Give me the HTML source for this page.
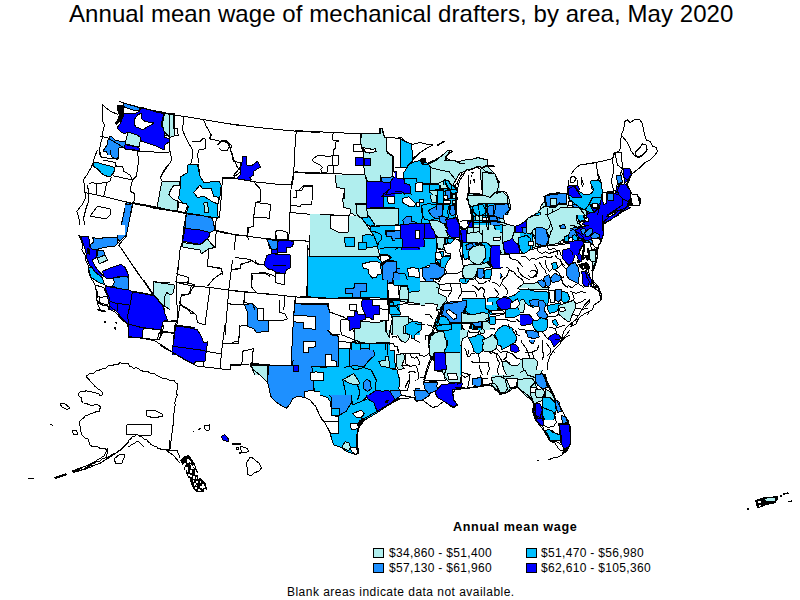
<!DOCTYPE html>
<html><head><meta charset="utf-8"><style>
html,body{margin:0;padding:0;background:#fff;width:800px;height:600px;overflow:hidden}
body{position:relative;font-family:"Liberation Sans",sans-serif;color:#000}
.t{position:absolute;white-space:nowrap;line-height:1}
#title{left:69px;top:2px;font-size:24px;letter-spacing:0.07px}
#lt{left:453px;top:521px;font-size:12.6px;font-weight:bold;letter-spacing:0.65px}
.lg{position:absolute;font-size:12px;letter-spacing:0.33px;line-height:1;white-space:nowrap}
.bx{position:absolute;width:9px;height:8px;border:1px solid #000}
#note{left:287px;top:586px;font-size:12px;letter-spacing:0.47px}
svg{position:absolute;left:0;top:0}
</style></head><body>
<svg width="800" height="600" viewBox="0 0 800 600">
<g stroke="#000" stroke-width="1" stroke-linejoin="round" fill="none" shape-rendering="crispEdges">
<polygon points="380,220 480,220 480,295 380,295" fill="#00bfff" stroke="none"/>
<polygon points="460,200 560,200 560,275 460,275" fill="#b0eeee" stroke="none"/>
<polygon points="460,200 467.5,200 472.5,207.5 471.25,216.25 468.75,225 465,228.75 460,229.38" fill="#ffffff" stroke="none"/>
<polygon points="510,200 545,200 541.25,207.5 535,213.75 527.5,218.75 523.75,221.88 516.25,226.25 510,224.38 505,222.5 508.75,215 510,207.5" fill="#ffffff" stroke="none"/>
<polygon points="460,296.25 560,293.75 560,330 460,330" fill="#00bfff" stroke="none"/>
<polygon points="124,114 135,113.5 139.5,111 141,108 164,112.5 163.5,115 161,125 164,129 164.5,137 169.5,139 169,142 165,145 164,150 156,146 147,143 140,140.5 139,136 130,134 127,132 125,134 121,132 117,128 120,124 122,119" fill="#0000ff" stroke="#000"/>
<polygon points="134,120 138,114.5 141,113.5 142,119 145,121.5 154,123 151,125 147,127 143,130 139,128 136,127 134,124" fill="#ffffff" stroke="#000"/>
<polygon points="128,132 131,133 137,135 140,137 140,142 139,147 125,144 126,140" fill="#b0eeee" stroke="#000"/>
<polygon points="125,144.5 139,147.5 139.5,150.5 125,149 124,146" fill="#0000ff" stroke="#000"/>
<polygon points="165,113 175,114 175,135 169,136 164,135 164,129 161,125 163.5,115" fill="#b0eeee" stroke="none"/>
<polyline points="175,135 169,136 164,135 164,129 161,125 163.5,115 165,113 175,114"/>
<polygon points="123,103 139,107.5 139.5,110.5 136,111 125,107.5 123.5,106" fill="#1e90ff" stroke="#000"/>
<polygon points="110,136 112,137 115,140 119,141 125,141 126,143 124,147 119,148 118,151 119,155 108,155 106,151 103,151 107,145 108,140" fill="#1e90ff" stroke="none"/>
<polyline points="108,155 106,151 103,151 107,145 108,140 110,136 112,137 115,140 119,141 125,141 126,143 124,147 119,148 118,151 119,155"/>
<polyline points="119.5,101.5 123,102.8 140,107.5 155,111 175,114.5"/>
<polyline points="118,114.5 110,111 102.5,105 102,111 103,115 102.5,121 104.5,125 103.5,129 102.5,133 102.5,137 101,142 100,147 99,155"/>
<polygon points="117.5,105 121,104.5 124,106 123.5,115 122,119 119,123 116.5,125 115,123 117.5,119 119,115 117,110" fill="#000000" stroke="none"/>
<polygon points="164.38,113.5 175,115 174,136.25 170,137.25 164.38,131.88 162.25,125 163.75,117.5" fill="#b0eeee" stroke="#000"/>
<polyline points="140,106.88 157.5,112.5 175,115 202.5,119.38 240,125.62"/>
<polyline points="174,115 173.5,128.75 177.5,128.75 178.12,135.62 171.88,136.25 170,137.5 169.38,147.5 170.62,153.75 171.88,160 165,170 161.88,175"/>
<polyline points="184,116.25 182.5,130 186.88,140 192.5,150 191.88,161.25 190,165 187.5,170"/>
<polyline points="203.75,120 206.25,126.25 211.25,135 209.38,138.75 215,140 220,141.25 227.5,142.5 230,147.5 232.5,156.25 237.5,167.5 240,170"/>
<polyline points="192.5,141.25 200,141.88 202.5,138.75 205,138.75 205.62,148.75 198.75,150 197.5,155 198.75,162.5"/>
<polyline points="217.5,145 221.25,141.25 227.5,141.25 230,145 227.5,150 221.25,150 218.75,147.5"/>
<polygon points="188.12,165 198.75,164.38 199.38,175 186.88,175" fill="#00bfff" stroke="none"/>
<polyline points="186.88,175 188.12,165 198.75,164.38 199.38,175"/>
<polygon points="93.12,162.5 97.5,162.5 101.25,163.75 106.25,165 115,167.5 113.75,172.5 110,176.88 105,175.62 101.25,173.12 97.5,168.75 93.12,166.25" fill="#00bfff" stroke="#000"/>
<polygon points="110,150 118.75,150 118.75,157.5 117.5,159.38 112.5,157.5 110,153.75" fill="#1e90ff" stroke="none"/>
<polyline points="118.75,150 118.75,157.5 117.5,159.38 112.5,157.5 110,153.75 110,150"/>
<polygon points="126.25,202.5 133.12,203.75 128.12,225 121.25,225" fill="#1e90ff" stroke="none"/>
<polyline points="121.25,225 126.25,202.5 133.12,203.75 128.12,225"/>
<polyline points="97.5,150 94.38,157.5 93.12,162.5 91.25,167.5 86.88,175 83.75,179.38 84.38,187.5 85,192.5 85.62,197.5 81.88,205 76.88,211.25 78.75,217.5 80,225"/>
<polyline points="85,192.5 102.5,196.25 133.75,203.75 160,208.75"/>
<polyline points="100,152.5 101.25,157.5 115,158.75 118.75,157.5"/>
<polyline points="103.12,160 115,162.5 116.25,166.25"/>
<polyline points="115,166.25 122.5,166.25 123.75,171.25 130,175 132.5,180 131.25,185 130,191.25 135,193.75 133.75,202.5"/>
<polyline points="112.5,175.62 132.5,180"/>
<polyline points="136.88,150 138.75,160 137.5,168.75 136.25,176.25 132.5,180"/>
<polyline points="88.75,183.75 92.5,182.5 96.25,183.75 96.25,193.75"/>
<polyline points="95,183.75 106.25,182.5 110,181.25 111.25,176.88"/>
<polyline points="106.88,182.5 103.75,196.25"/>
<polyline points="86.88,185 88.12,188.75 88.75,192.5"/>
<polyline points="88.75,193.75 88.12,202.5 86.25,207.5 83.75,217.5 84.38,225"/>
<polygon points="97.5,206.25 110,208.75 110,215 106.25,218.75 90,216.25"/>
<polygon points="161.88,181.88 180,181 179.38,185.62 173.75,185.62 170.62,190 168.75,194.38 172.5,198.75 178.12,201.25 176.88,211.25 156.88,207.5" fill="#b0eeee" stroke="#000"/>
<polygon points="180.62,176.88 187.5,172.5 187.5,165 197.5,165 200,176.25 203.75,182.5 218.75,181.25 221.25,185 220,196.25 217.5,206.25 218.12,217.5 215,217.5 205,216.25 200,215 186.25,213.12 188.75,206.25 182.5,202.5 178.75,198.75 179.38,192.5 180.62,185" fill="#00bfff" stroke="none"/>
<polyline points="197.5,165 200,176.25 203.75,182.5 218.75,181.25 221.25,185 220,196.25 217.5,206.25 218.12,217.5 215,217.5 205,216.25 200,215 186.25,213.12 188.75,206.25 182.5,202.5 178.75,198.75 179.38,192.5 180.62,185 180.62,176.88 187.5,172.5 187.5,165"/>
<polygon points="193.75,192.5 200,185 202.5,188.75 211.25,188.12 213.75,196.25 218.75,197.5 218.12,203.75 213.75,202.5 208.75,199.38 203.75,196.25 197.5,197.5" fill="#ffffff" stroke="#000"/>
<polygon points="203.75,203.12 207.5,202.5 208.75,212.5 205,212.5" fill="#b0eeee" stroke="#000"/>
<polygon points="186.25,213.75 206.25,216.25 212.5,218.75 215,230 210,232.5 202.5,231.25 183.75,227.5" fill="#1e90ff" stroke="#000"/>
<polygon points="183.75,227.5 202.5,231.25 208.75,233.12 207.5,240 182.5,240" fill="#0000ff" stroke="none"/>
<polyline points="182.5,240 183.75,227.5 202.5,231.25 208.75,233.12 207.5,240"/>
<polygon points="178.75,202.5 186.25,203.75 187.5,206.25 185,212.5 177.5,211.25" fill="#ffffff" stroke="#000"/>
<polyline points="150,207.5 185,213.12"/>
<polyline points="222.5,177.5 250,178.75"/>
<polyline points="222.5,177.5 221.25,197.5 219.38,217.5 216.25,218.75 215,230 236.25,235 250,236.25"/>
<polyline points="247.5,227.5 248.12,240"/>
<polyline points="167.5,165 162.5,172.5 160.62,177.5 161.88,181.25"/>
<polyline points="235,176.25 240,172.5 240,165"/>
<polygon points="242.5,156.88 246.88,156.88 246.88,165 252.5,165 257.5,161.25 260.62,166.88 253.75,171.25 253.75,175 250,177.5 251.25,180 245,180 236.25,178.75 240,175 241.25,163.75 242.5,161.25" fill="#0000ff" stroke="#000"/>
<polyline points="220,122.5 257.5,127.5 296.25,131.25 320,132.5"/>
<polyline points="296.25,131.25 295,147.5 293.75,172.5 292.5,185"/>
<polyline points="293.75,172.5 320,173.75"/>
<polyline points="222.5,178.12 236.25,178.75 255,181.88 278.75,184.38 292.5,185"/>
<polyline points="220,141.25 226.25,140 230,143.75 231.88,146.25 230,150 232.5,153.75 233.12,161.25 240,162.5 241.25,165 239.38,168.75 233.75,175 235,177.5"/>
<polygon points="361.25,133.75 380,133.75 380,128.75 382.5,128.75 384.38,136.88 387.5,137.5 387.5,153.12 392.5,156.25 392.5,177.5 381.25,178.75 380,181.25 370,181.88 365,175 363.75,166.25 363.12,150 360.62,143.75" fill="#b0eeee" stroke="#000"/>
<polygon points="363.12,147.5 367.5,148.75 370,148.75 372.5,150 375,148.12 376.25,151.25 370,153.12 365,151.88" fill="#ffffff" stroke="#000"/>
<polygon points="355.62,157.75 363.5,157.75 363.5,165.62 355.62,165.62" fill="#0000ff" stroke="#000"/>
<polygon points="364.38,158.12 370.62,158.12 370.62,165.62 364.38,165.62" fill="#0000ff" stroke="#000"/>
<polygon points="353.12,144.38 361.25,144.38 362.5,151.25 353.12,151.25" fill="#ffffff" stroke="#000"/>
<polygon points="336.25,175 365,175.62 366.88,185 367.5,200 342.5,200 345,188.75 336.25,183.75" fill="#b0eeee" stroke="none"/>
<polyline points="342.5,200 345,188.75 336.25,183.75 336.25,175 365,175.62 366.88,185 367.5,200"/>
<polygon points="365,179.38 370,181.88 380,181.25 381.25,178.75 381.25,181.88 387.5,183.75 392.5,182.5 395,180 395,200 367.5,200 366.88,185" fill="#0000ff" stroke="none"/>
<polyline points="367.5,200 366.88,185 365,179.38 370,181.88 380,181.25 381.25,178.75 381.25,181.88 387.5,183.75 392.5,182.5 395,180"/>
<polygon points="381.25,178.75 390,177.5 393.75,178.75 392.5,182.5 387.5,183.75 381.25,181.88" fill="#1e90ff" stroke="#000"/>
<polyline points="295,130.62 332.5,132.5 360,133.75 380,133.12 380,128.75 382.5,128.75 384.38,136.88 395,138.75"/>
<polyline points="360,133.75 360.62,143.75 363.12,150 363.75,166.25 365,175 363.75,178.75 366.88,185 367.5,200"/>
<polyline points="295,171.88 336.25,173.75 365,175"/>
<polyline points="333.12,133.12 332.5,140 338.12,140 338.12,141.25 335,142.5 335,148.75 333.12,150 333.12,155 338.12,155 338.12,165 333.75,165 333.12,172.5"/>
<polygon points="312.5,159.38 317.5,155.62 323.75,155 326.25,156.88 332.5,155.62 332.5,165 328.12,165 326.88,173.12 321.88,172.5 320.62,169.38 322.5,167.5 320,165 315,162.5 313.12,161.25"/>
<polyline points="336.25,175 336.25,183.75 345,188.75 342.5,200"/>
<polyline points="295,190 298.75,190 302.5,186.25 312.5,186.25 312.5,200"/>
<polygon points="311.25,214.38 325,214.38 325,250 308.75,250 310,241.25" fill="#b0eeee" stroke="none"/>
<polygon points="266.88,238.75 276.25,239.38 278.75,240 278.12,248.75 270,248.75" fill="#1e90ff" stroke="#000"/>
<polygon points="278.75,240 293.75,240.62 292.5,246.25 287.5,246.25 285,250 278.75,250" fill="#0000ff" stroke="none"/>
<polyline points="278.75,250 278.75,240 293.75,240.62 292.5,246.25 287.5,246.25 285,250"/>
<polyline points="293.12,175 291.25,184.38 290,212.5 288.75,240"/>
<polyline points="290,212.5 311.25,214.38 325,214.75"/>
<polyline points="225,233.12 266.25,238.75 288.75,240 310,241.25 308.75,250"/>
<polyline points="235.62,235 234.38,250"/>
<polyline points="253.75,181.88 260,188.75 260.62,201.25 255.62,202.5 253.75,216.25 253.75,226.25 248.75,227.5 247.5,236.25"/>
<polygon points="255.62,202.5 270.62,204.38 269.38,218.12 253.75,217.5"/>
<polyline points="291.25,205.62 300.62,206.25 301.25,204.38 311.88,204.38 312.5,185.62 303.75,185.62 301.88,190.62 296.88,190.62 296.25,197.5 292.5,197.5"/>
<polyline points="311.25,214.38 310,241.25"/>
<polyline points="275.62,238.75 275.62,231.25 280,230 287.5,232.5 288.12,240"/>
<polygon points="125,205 132.5,203.75 126.25,236.25 125,236.88" fill="#1e90ff" stroke="none"/>
<polyline points="125,205 132.5,203.75 126.25,236.25 125,236.88"/>
<polygon points="183.75,228.12 200,230 210,232.5 208.75,237.5 200,244.38 182.5,241.25" fill="#0000ff" stroke="#000"/>
<polygon points="182.5,242.5 200,245 207.5,238.75 211.25,243.75 215,247.5 208.75,248.75 205,251.25 201.25,253.75 200,250 181.88,246.88" fill="#b0eeee" stroke="#000"/>
<polyline points="132.5,202.5 158.75,207.5 186.25,213.75"/>
<polyline points="186.25,213.75 185,228.75 182.5,241.25 180,250 177.5,275"/>
<polyline points="208.75,248.75 207.5,266.25 221.25,268.12 222.5,275"/>
<polyline points="215,247.5 216.25,231.25 225,233.12"/>
<polyline points="132.5,203.75 126.25,236.25 118.75,245"/>
<polyline points="118.75,245 125,253.75 138.75,275"/>
<polygon points="80.62,236.25 88.75,236.25 89.38,242.5 90,246.88 96.88,250.62 96.88,256.88 94.38,258.75 91.88,260 95,266.25 98.75,271.25 102.5,275 101.25,278.12 98.12,275.62 93.75,271.25 90.62,266.88 88.75,263.75 87.5,260 86.25,257.5 86.25,253.75 85,248.75 83.75,245 82.5,241.25" fill="#0000ff" stroke="#000"/>
<polygon points="92.5,237.5 98.75,238.75 105,237.5 112.5,237.5 117.5,238.12 118.12,242.5 115,246.25 107.5,246.88 104.38,247.5 98.75,248.75 96.88,250 91.25,248.75 90,245 93.12,242.5 93.75,240" fill="#1e90ff" stroke="#000"/>
<polygon points="117.5,235 125.62,235 122.5,238.75 120,241.25 118.12,240" fill="#1e90ff" stroke="none"/>
<polyline points="125.62,235 122.5,238.75 120,241.25 118.12,240 117.5,235"/>
<polygon points="97.5,250 103.75,250 104.38,255.62 98.75,258.75 96.88,256.88" fill="#1e90ff" stroke="#000"/>
<polygon points="97.5,258.12 105,255 107.5,260 103.75,261.88 99.38,263.75" fill="#b0eeee" stroke="#000"/>
<polygon points="102.5,271.25 110,268.12 121.25,264.38 125,267.5 127.5,272.5 128.75,276.25 120,276.25 112.5,278.12 106.25,278.12 103.75,276.25" fill="#0000ff" stroke="#000"/>
<polygon points="88.75,268.12 91.88,266.88 94.38,271.25 98.75,275 102.5,278.12 104.38,284.38 100,283.12 95,280 91.25,277.5 89.38,272.5" fill="#00bfff" stroke="#000"/>
<polygon points="113.12,278.12 125,276.25 128.75,277.5 128.75,289.38 122.5,290 112.5,286.25 114.38,282.5" fill="#1e90ff" stroke="#000"/>
<polygon points="105,286.25 112.5,286.25 122.5,290 132.5,291.25 140,292.5 152.5,295 157.5,297.5 162.5,305 165,310 110,310 108.75,302.5 107.5,296.25 106.25,291.25" fill="#0000ff" stroke="none"/>
<polyline points="110,310 108.75,302.5 107.5,296.25 106.25,291.25 105,286.25 112.5,286.25 122.5,290 132.5,291.25 140,292.5 152.5,295 157.5,297.5 162.5,305 165,310"/>
<polygon points="153.75,281.88 170,282.5 170,310 163.75,305 155,296.25 153.12,295" fill="#b0eeee" stroke="none"/>
<polyline points="170,310 163.75,305 155,296.25 153.12,295 153.75,281.88 170,282.5"/>
<polyline points="78.75,235 81.25,240 82.5,245 81.88,250 85.62,256.25 85.62,260 87.5,263.75 88.75,267.5 88.75,272.5 90.62,277.5 93.75,282.5 95,285 96.25,290 96.88,293.75 96.88,300 98.12,305 100,310"/>
<polyline points="118.75,245 153.12,295"/>
<polyline points="132.5,291.25 130,310"/>
<polyline points="108.75,302.5 117.5,301.25 130,305"/>
<polyline points="116.25,301.25 117.5,310"/>
<polyline points="95,285 103.75,287.5 107.5,296.25 100,297.5 96.88,295"/>
<polyline points="100,297.5 98.75,302.5 107.5,305 108.75,310"/>
<polygon points="86.88,248.12 90,248.75 90,255 87.5,253.75" fill="#000000" stroke="none"/>
<polygon points="105,285.62 112.5,287.5 128.75,290 132.5,291.88 153.75,295.62 156.25,297.5 162.5,305 165,313.75 167.5,320 163.12,321.25 161.25,330 142.5,327.5 130,325 126.25,322.5 121.25,317.5 117.5,312.5 110,306.25 108.75,301.25 110,298.75 106.25,291.25" fill="#0000ff" stroke="#000"/>
<polygon points="128.12,323.75 143.12,328.12 142.5,337.5 128.75,336.88 128.12,330" fill="#0000ff" stroke="#000"/>
<polygon points="143.12,328.12 161.25,330 159.38,340 142.5,338.12" fill="#ffffff" stroke="#000"/>
<polygon points="153.75,281.88 174.38,285 173.75,292.5 170.62,295 166.88,292.5 165,296.25 164.38,306.88 162.5,305 156.25,297.5 153.75,295.62" fill="#b0eeee" stroke="#000"/>
<polygon points="175,325 195,327.5 195,355 172.5,355 173.12,345" fill="#0000ff" stroke="none"/>
<polyline points="172.5,355 173.12,345 175,325 195,327.5"/>
<polyline points="132.5,291.88 130,305 127.5,316.25 128.75,322.5"/>
<polyline points="110,301.25 117.5,303.75 128.75,304.38"/>
<polyline points="117.5,303.75 117.5,311.25"/>
<polyline points="172.5,346.25 195,350"/>
<polyline points="95,287.5 97.5,292.5 96.88,300 97.5,302.5 102.5,305 108.75,306.25 110.62,310 115.62,312.5 120,317.5 123.75,321.25 126.88,323.75 128.12,327.5 128.75,332.5 128.75,337.5 142.5,338.12 156.25,341.25 157.5,342.5 171.25,351.25 175,355"/>
<polyline points="143.75,280 153.75,295 163.12,306.25 165,313.75 167.5,320 163.12,321.88 161.25,330 158.75,333.75 157.5,340"/>
<polyline points="175,281.88 188.75,283.12 195,285"/>
<polyline points="188.12,280 187.5,283.75"/>
<polyline points="181.25,295 180,305 177.5,321.25"/>
<polyline points="180,305 188.75,310 191.25,313.75 195,313.75"/>
<polyline points="181.25,295 190,293.75 192.5,287.5 195,286.25"/>
<polyline points="163.12,321.88 176.25,321.25 175,332.5 173.75,345"/>
<polyline points="160,330 162.5,332.5 175,332.5"/>
<polygon points="97.5,308.75 102.5,310 107.5,311.25 102.5,311.88 96.88,310" fill="#000000" stroke="none"/>
<polygon points="104.38,320.62 106.25,320.62 106.25,322.5 104.38,322.5" fill="#000000" stroke="none"/>
<polygon points="115,321.25 116.88,322.5 117.5,325 115.62,323.75" fill="#000000" stroke="none"/>
<polygon points="113.75,326.88 116.25,327.5 116.25,330 114.38,329.38" fill="#000000" stroke="none"/>
<polygon points="244.38,304.38 252.5,303.75 256.25,307.5 258.75,308.75 257.5,320 268.75,320 268.12,331.25 256.25,332.5 253.75,328.75 247.5,326.25 247.5,312.5" fill="#1e90ff" stroke="#000"/>
<polygon points="257.5,308.75 263.75,308.12 263.75,320 257.5,320" fill="#ffffff" stroke="#000"/>
<polyline points="232.5,260 228.75,290 225,335"/>
<polyline points="176.25,282.5 191.25,285.62 210,287.5 228.75,290 270,294.38"/>
<polyline points="178.75,260 176.25,282.5 177.5,320 175.62,335"/>
<polyline points="207.5,260 207.5,266.25 221.25,268.75 222.5,272.5 213.75,278.75 207.5,286.25"/>
<polyline points="176.25,273.75 188.75,277.5 188.12,283.75"/>
<polyline points="191.25,285.62 189.38,293.75 181.25,296.25 179.38,303.75"/>
<polyline points="179.38,303.75 190,310 196.25,315 197.5,322.5 205,325 210,287.5"/>
<polyline points="170,321.25 177.5,320"/>
<polyline points="227.5,303.75 245,305"/>
<polyline points="245,293.75 243.75,305"/>
<polyline points="232.5,270 240,268.75 240,265 250,261.25 252.5,260"/>
<polyline points="255,260 256.25,262.5 260,265 265,263.75"/>
<polyline points="252.5,273.75 266.25,273.75 270,276.25"/>
<polyline points="252.5,275 251.25,287.5 256.25,292.5"/>
<polyline points="240,326.25 245,325 247.5,326.25"/>
<polyline points="240,326.25 239.38,335"/>
<polygon points="175.62,326.25 188.75,327.5 197.5,330 201.25,336.25 203.75,342.5 207.5,341.88 206.25,351.25 205,361.25 196.25,361.25 193.75,363.75 185,360 171.88,351.88 173.75,341.25" fill="#0000ff" stroke="#000"/>
<polyline points="172.5,346.25 205,350.62"/>
<polyline points="160,345.62 171.88,351.88 193.75,364.38 197.5,366.25 203.75,366.88 220,368.75 230,370 230.62,365 241.25,365 248.75,364.75"/>
<polyline points="225,325 222.5,343.75 221.25,355 220,368.75"/>
<polyline points="222.5,343.75 238.75,343.75 239.38,325"/>
<polyline points="205,351.25 221.25,353.75"/>
<polyline points="203.75,361.25 203.12,366.88"/>
<polyline points="241.88,365 242.5,351.25 253.12,348.75 252.5,365"/>
<polyline points="160,332.5 165,331.25 173.75,333.75"/>
<polyline points="163.75,325 162.5,332.5 160,337.5"/>
<polygon points="266.88,239.38 277.5,240.62 278.12,248.75 271.88,249.38" fill="#1e90ff" stroke="#000"/>
<polygon points="278.12,240 293.75,241.25 292.5,246.88 286.88,247.5 286.25,252.5 277.5,252.5" fill="#0000ff" stroke="#000"/>
<polygon points="271.25,249.38 277.5,249.38 277.5,253.75 271.25,253.75" fill="#0000ff" stroke="#000"/>
<polygon points="266.88,255.62 271.25,253.75 290,255 290.62,267.5 286.25,270 285,273.75 276.25,272.5 272.5,270 267.5,268.75 264.38,265 265,261.25" fill="#0000ff" stroke="#000"/>
<polyline points="272.5,265 286.25,265.62"/>
<polygon points="310,235 335,235 335,256.25 309.38,255.62" fill="#b0eeee" stroke="none"/>
<polyline points="335,256.25 309.38,255.62 310,235"/>
<polygon points="309.38,255.62 335,256.25 335,298.12 307.5,297.5" fill="#00bfff" stroke="none"/>
<polyline points="335,298.12 307.5,297.5 309.38,255.62 335,256.25"/>
<polygon points="295,303.12 328.75,303.75 328.75,310 295,310" fill="#1e90ff" stroke="none"/>
<polyline points="295,310 295,303.12 328.75,303.75 328.75,310"/>
<polyline points="275,273.75 285,273.75 284.38,285 275,282.5 275,273.75"/>
<polyline points="251.25,273.75 265,272.5 275,276.25"/>
<polyline points="251.25,273.75 251.88,287.5 256.25,292.5"/>
<polyline points="235,291.25 266.25,293.75 295,296.88 306.88,297.5 335,298.75"/>
<polyline points="310,235 308.75,266.25 307.5,297.5"/>
<polyline points="295,296.88 295,310"/>
<polyline points="276.25,235 276.25,238.75"/>
<polyline points="288.75,235 288.12,240 308.75,241.25"/>
<polyline points="235,257.5 250,259.38 257.5,264.38 264.38,265"/>
<polyline points="235,268.75 240,268.75 241.25,263.75 250,261.88"/>
<polyline points="245,292.5 243.75,302.5 252.5,303.75 255,310"/>
<polyline points="285,296.25 283.75,310"/>
<polygon points="335.62,175 365,175 366.88,182.5 366.88,208.75 363.75,216.25 357.5,217.5 350.62,212.5 350,208.75 343.75,207.5 342.5,198.75 344.38,198.12 345,188.75 336.25,187.5" fill="#b0eeee" stroke="none"/>
<polyline points="365,175 366.88,182.5 366.88,208.75 363.75,216.25 357.5,217.5 350.62,212.5 350,208.75 343.75,207.5 342.5,198.75 344.38,198.12 345,188.75 336.25,187.5 335.62,175"/>
<polyline points="355.62,203.12 366.88,203.75"/>
<polyline points="355.62,203.12 357.5,212.5 363.12,217.5"/>
<polygon points="320,215 363.12,217.5 367.5,225 370,233.75 363.12,236.25 357.5,242.5 358.75,250 320,250" fill="#b0eeee" stroke="none"/>
<polyline points="320,215 363.12,217.5 367.5,225 370,233.75 363.12,236.25 357.5,242.5 358.75,250"/>
<polygon points="329.38,215 348.12,216.25 348.12,226.88 343.75,227.5 343.12,232.5 335,232.5 334.38,227.5 329.38,227.5" fill="#ffffff" stroke="#000"/>
<polygon points="366.88,208.75 397.5,208.75 398.12,225 370,226.25 367.5,222.5 363.75,216.25" fill="#b0eeee" stroke="#000"/>
<polygon points="397.5,207.5 420,207.5 420,223.75 400,225 398.12,225" fill="#00bfff" stroke="none"/>
<polyline points="420,223.75 400,225 398.12,225 397.5,207.5 420,207.5"/>
<polygon points="403.12,215.62 412.5,215.62 411.88,224.38 403.12,224.38" fill="#1e90ff" stroke="#000"/>
<polygon points="366.88,181.25 381.25,181.88 390,182.5 390,188.75 383.75,193.75 383.75,207.5 366.88,208.12" fill="#0000ff" stroke="#000"/>
<polygon points="390,177.5 403.75,177.5 405,182.5 406.25,193.75 402.5,195 392.5,193.75 385,195 390,188.75" fill="#0000ff" stroke="#000"/>
<polygon points="381.25,196.25 402.5,196.25 407.5,205 418.75,206.25 418.75,207.5 397.5,207.5 383.75,207.5 383.75,195" fill="#00bfff" stroke="#000"/>
<polygon points="387.5,196.25 394.38,196.25 394.38,203.12 388.12,203.12" fill="#ffffff" stroke="#000"/>
<polygon points="402.5,198.75 412.5,198.12 413.12,206.25 407.5,206.25" fill="#ffffff" stroke="#000"/>
<polygon points="381.25,177.5 393.75,176.88 390,182.5 381.25,181.88" fill="#1e90ff" stroke="#000"/>
<polygon points="365,175 380,175 380,181.88 367.5,181.25" fill="#b0eeee" stroke="none"/>
<polyline points="380,175 380,181.88 367.5,181.25 365,175"/>
<polygon points="406.25,177.5 420,177.5 420,205 412.5,196.25 407.5,192.5" fill="#00bfff" stroke="none"/>
<polyline points="420,205 412.5,196.25 407.5,192.5 406.25,177.5 420,177.5"/>
<polygon points="406.25,185 410,185 411.25,192.5 406.25,191.25" fill="#0000ff" stroke="#000"/>
<polygon points="415,182.5 420,182.5 420,191.25 416.25,191.25" fill="#ffffff" stroke="none"/>
<polyline points="420,191.25 416.25,191.25 415,182.5 420,182.5"/>
<polygon points="370,226.25 397.5,225.62 401.25,227.5 401.25,245 395,250 376.25,250 378.75,242.5 381.25,240 381.25,235 377.5,232.5 372.5,231.25 370,233.75" fill="#00bfff" stroke="none"/>
<polyline points="376.25,250 378.75,242.5 381.25,240 381.25,235 377.5,232.5 372.5,231.25 370,233.75 370,226.25 397.5,225.62 401.25,227.5 401.25,245 395,250"/>
<polygon points="385.62,230.62 400,230.62 400,240 392.5,240 391.88,235 385.62,234.38" fill="#1e90ff" stroke="#000"/>
<polygon points="400,225 420,223.75 420,250 401.25,250 401.25,227.5" fill="#0000ff" stroke="none"/>
<polyline points="401.25,250 401.25,227.5 400,225 420,223.75"/>
<polygon points="396.25,225.62 400,225.62 400,230 396.25,230" fill="#ffffff" stroke="#000"/>
<polygon points="415,230 420,230 420,238.75 415,238.75" fill="#ffffff" stroke="none"/>
<polyline points="420,238.75 415,238.75 415,230 420,230"/>
<polygon points="361.88,215 366.25,213.75 370,217.5 375,225 370,226.25 367.5,225 361.88,223.12" fill="#00bfff" stroke="#000"/>
<polygon points="363.12,236.25 370,233.75 372.5,231.25 377.5,232.5 381.25,235 381.25,240 378.75,242.5 376.25,250 358.75,250 357.5,242.5 363.12,242.5" fill="#00bfff" stroke="none"/>
<polyline points="358.75,250 357.5,242.5 363.12,242.5 363.12,236.25 370,233.75 372.5,231.25 377.5,232.5 381.25,235 381.25,240 378.75,242.5 376.25,250"/>
<polyline points="320,214.38 329.38,214.38 348.75,216.88 363.12,217.5"/>
<polyline points="335.62,175 336.25,187.5 345,188.75 344.38,198.12 342.5,198.75 343.75,207.5 350,208.75 350.62,212.5 348.75,216.25"/>
<polygon points="307.5,256 323.75,256.25 377.5,256.88 380,260 382.5,262.5 387.5,283.75 387.5,297.5 327.5,298.12 307.5,296.88" fill="#00bfff" stroke="#000"/>
<polygon points="362.5,263.75 370,261.88 375,261.25 380,262.5 381.88,273.75 377.5,275 376.25,277.5 372.5,278.12 368.75,273.75 368.12,269.38 363.12,268.12" fill="#ffffff" stroke="#000"/>
<polygon points="380,255 387.5,254.38 391.25,257.5 387.5,261.25 382.5,262.5 380,260" fill="#ffffff" stroke="#000"/>
<polygon points="381.88,263.75 387.5,260 395,261.25 395,267.5 400,268.75 400,282.5 392.5,282.5 387.5,283.75 383.12,283.75" fill="#1e90ff" stroke="none"/>
<polyline points="400,282.5 392.5,282.5 387.5,283.75 383.12,283.75 381.88,263.75 387.5,260 395,261.25 395,267.5 400,268.75"/>
<polygon points="345.62,288.75 353.75,288.75 355,283.12 366.25,283.75 366.25,291.25 360,291.88 360,297.5 352.5,297.5 352.5,293.75 345.62,293.12" fill="#1e90ff" stroke="#000"/>
<polygon points="387.5,283.75 400,283.75 400,298.12 387.5,298.12" fill="#ffffff" stroke="none"/>
<polyline points="400,298.12 387.5,298.12 387.5,283.75 400,283.75"/>
<polygon points="300,303.75 327.5,306.25 328.12,320 300,320" fill="#1e90ff" stroke="none"/>
<polyline points="300,303.75 327.5,306.25 328.12,320"/>
<polygon points="387.5,300 400,300 400,320 392.5,320 388.75,307.5" fill="#00bfff" stroke="none"/>
<polyline points="392.5,320 388.75,307.5 387.5,300 400,300"/>
<polyline points="300,296.25 327.5,298.12 387.5,299.38 400,300"/>
<polyline points="300,303.12 327.5,305 330,312.5 343.75,316.88 347.5,320"/>
<polyline points="307.5,245 306.88,296.88"/>
<polygon points="294.38,303.75 327.5,305 330,312.5 330,355 325,355 323.75,366.25 311.25,366.25 311.25,375 268.75,375 268.75,365 291.25,365 292.5,333.75 293.75,316.25" fill="#1e90ff" stroke="none"/>
<polyline points="330,355 325,355 323.75,366.25 311.25,366.25 311.25,375"/>
<polyline points="268.75,375 268.75,365 291.25,365 292.5,333.75 293.75,316.25 294.38,303.75 327.5,305 330,312.5"/>
<polygon points="293.75,315.62 315.62,316.25 315.62,329.38 303.75,328.12 303.12,322.5 293.75,321.88" fill="#ffffff" stroke="#000"/>
<polygon points="303.12,341.88 315.62,341.88 315,346.88 308.75,347.5 308.12,352.5 303.12,352.5" fill="#ffffff" stroke="#000"/>
<polygon points="293.75,365.62 299.38,365.62 299.38,371.25 293.75,371.25" fill="#0000ff" stroke="#000"/>
<polygon points="300,360 306.25,360 305.62,371.25 300,371.25" fill="#1e90ff" stroke="#000"/>
<polygon points="250,363.75 267.5,365 268.12,375 255,375" fill="#b0eeee" stroke="none"/>
<polyline points="255,375 250,363.75 267.5,365 268.12,375"/>
<polygon points="311.88,366.88 330,366.25 330,375 311.88,375" fill="#00bfff" stroke="none"/>
<polyline points="311.88,375 311.88,366.88 330,366.25"/>
<polygon points="325,355 330,355 330,365 325,365" fill="#ffffff" stroke="none"/>
<polyline points="330,365 325,365 325,355 330,355"/>
<polyline points="295,300 293.75,316.25 292.5,333.75 291.25,365"/>
<polyline points="230,304.38 243.75,305"/>
<polyline points="231.25,343.75 235,341.25 238.75,341.25 240,326.25 246.25,325"/>
<polyline points="280,300 279.38,312.5 285,313.75 287.5,318.75 282.5,320.62 267.5,320"/>
<polyline points="241.88,365 242.5,351.25 253.12,348.75 252.5,362.5 250,363.75"/>
<polyline points="230,364.38 241.88,365"/>
<polyline points="250,363.12 268.75,365 291.25,365.62"/>
<polygon points="250,365 267.5,365 267.5,382.5 261.25,376.25 253.75,370" fill="#b0eeee" stroke="#000"/>
<polygon points="268.75,365 292.5,365 293.12,360 323.75,360 323.75,366.25 312.5,366.25 313.75,390.62 305,391.25 304.38,397.5 297.5,396.25 292.5,398.75 290,403.75 286.88,408.12 282.5,406.25 275,401.25 270.62,396.25 269.38,388.75 267.5,382.5" fill="#1e90ff" stroke="none"/>
<polyline points="323.75,360 323.75,366.25 312.5,366.25 313.75,390.62 305,391.25 304.38,397.5 297.5,396.25 292.5,398.75 290,403.75 286.88,408.12 282.5,406.25 275,401.25 270.62,396.25 269.38,388.75 267.5,382.5 268.75,365 292.5,365 293.12,360"/>
<polygon points="293.75,365.62 298.75,365.62 298.75,371.25 293.75,371.25" fill="#0000ff" stroke="#000"/>
<polygon points="311.88,366.25 323.75,366.25 325,360 350,360 350,395 340,395 330,397.5 328.75,391.88 314.38,391.25" fill="#00bfff" stroke="none"/>
<polyline points="350,395 340,395 330,397.5 328.75,391.88 314.38,391.25 311.88,366.25 323.75,366.25 325,360"/>
<polygon points="325,360 336.25,360 336.25,366.25 337.5,365 325,365.62" fill="#ffffff" stroke="none"/>
<polyline points="336.25,360 336.25,366.25 337.5,365 325,365.62 325,360"/>
<polygon points="310.62,372.5 316.25,371.88 324.38,373.12 324.38,380 310.62,380" fill="#ffffff" stroke="#000"/>
<polygon points="342.5,378.75 350,375 350,382.5 345,381.25" fill="#b0eeee" stroke="none"/>
<polyline points="350,382.5 345,381.25 342.5,378.75 350,375"/>
<polygon points="330,397.5 340,395 346.25,397.5 350,396.25 350,410 346.25,415 340,415 339.38,408.75 331.88,408.75 330,403.75" fill="#1e90ff" stroke="none"/>
<polyline points="350,410 346.25,415 340,415 339.38,408.75 331.88,408.75 330,403.75 330,397.5 340,395 346.25,397.5 350,396.25"/>
<polygon points="331.88,408.75 339.38,408.75 339.38,415 331.88,415" fill="#00bfff" stroke="#000"/>
<polygon points="339.38,415 350,410 350,435 339.38,435" fill="#00bfff" stroke="none"/>
<polyline points="339.38,435 339.38,415 350,410"/>
<polyline points="250,365 253.75,370 261.25,376.25 267.5,382.5 269.38,388.75 270.62,396.25 275,401.25 282.5,406.25 286.88,408.12 290,403.75 292.5,398.75 297.5,396.25 305,397.5 310,400 316.25,407.5 321.25,418.75 325,422.5 330,428.75 331.25,435"/>
<polyline points="325,421.25 338.75,422.5 338.75,435"/>
<polyline points="250,364.38 290,365.62"/>
<polygon points="338.75,348.75 350,348.12 351.25,341.88 361.25,342.5 370,343.12 382.5,341.88 388.75,343.75 390,345 395,348.75 397.5,355 396.25,370 400,380 398.75,388.75 401.25,395 395,397.5 385,391.25 366.25,397.5 357.5,405 332.5,405 327.5,397.5 320,395 320,367.5 338.75,366.25" fill="#00bfff" stroke="none"/>
<polyline points="332.5,405 327.5,397.5 320,395"/>
<polyline points="320,367.5 338.75,366.25 338.75,348.75 350,348.12 351.25,341.88 361.25,342.5 370,343.12 382.5,341.88 388.75,343.75 390,345 395,348.75 397.5,355 396.25,370 400,380 398.75,388.75 401.25,395 395,397.5 385,391.25 366.25,397.5 357.5,405"/>
<polygon points="320,330 327.5,330 332.5,335 338.75,336.25 338.75,366.25 325,366.25 320,366.25" fill="#1e90ff" stroke="none"/>
<polyline points="327.5,330 332.5,335 338.75,336.25 338.75,366.25 325,366.25 320,366.25"/>
<polygon points="325,354.38 331.25,354.38 331.25,360 336.25,361.25 336.25,366.88 325,366.25" fill="#ffffff" stroke="#000"/>
<polygon points="327.5,330 353.75,330 355,341.25 350,342.5 338.75,341.25 338.75,336.25 332.5,335" fill="#ffffff" stroke="none"/>
<polyline points="353.75,330 355,341.25 350,342.5 338.75,341.25 338.75,336.25 332.5,335 327.5,330"/>
<polygon points="355,330 390,330 389.38,343.75 382.5,341.88 370,343.12 361.25,342.5 357.5,343.75 355.62,341.25" fill="#b0eeee" stroke="none"/>
<polyline points="390,330 389.38,343.75 382.5,341.88 370,343.12 361.25,342.5 357.5,343.75 355.62,341.25 355,330"/>
<polygon points="349.38,348.75 373.75,348.75 374.38,355.62 369.38,360 363.75,366.88 355,365.62 350,366.25 349.38,360" fill="#1e90ff" stroke="#000"/>
<polygon points="343.12,379.38 353.75,373.75 357.5,379.38 360,383.75 355,385 347.5,382.5" fill="#b0eeee" stroke="#000"/>
<polygon points="363.12,382.5 366.88,379.38 370,381.25 371.25,388.75 367.5,391.25 363.75,388.75" fill="#1e90ff" stroke="#000"/>
<polygon points="367.5,396.25 376.25,390 382.5,391.25 388.12,390 392.5,393.75 393.75,400 390,405 372.5,405" fill="#0000ff" stroke="none"/>
<polyline points="372.5,405 367.5,396.25 376.25,390 382.5,391.25 388.12,390 392.5,393.75 393.75,400 390,405"/>
<polygon points="390,390 400,390 401.25,395 395,400 391.88,395" fill="#1e90ff" stroke="#000"/>
<polygon points="331.25,397.5 345,395 352.5,401.25 352.5,405 331.25,405" fill="#1e90ff" stroke="none"/>
<polyline points="331.25,405 331.25,397.5 345,395 352.5,401.25 352.5,405"/>
<polygon points="378.75,361.25 385,360.62 385,356.25 388.75,356.25 389.38,367.5 381.25,366.25" fill="#b0eeee" stroke="#000"/>
<polygon points="396.25,353.75 403.75,354.38 403.75,367.5 400,370 397.5,367.5" fill="#b0eeee" stroke="#000"/>
<polygon points="407.5,330 420,330 420,337.5 412.5,335" fill="#00bfff" stroke="none"/>
<polyline points="420,337.5 412.5,335 407.5,330"/>
<polygon points="320,372.5 323.75,372.5 323.75,380 320,380" fill="#ffffff" stroke="none"/>
<polyline points="320,372.5 323.75,372.5 323.75,380 320,380"/>
<polygon points="415,388.75 420,388.75 420,400 415,400" fill="#1e90ff" stroke="none"/>
<polyline points="420,400 415,400 415,388.75 420,388.75"/>
<polyline points="343.75,367.5 350,366.25 355,370 363.75,367.5 371.25,370 376.25,380 375,390"/>
<polyline points="342.5,378.75 345,390 346.25,397.5"/>
<polyline points="357.5,385 360,392.5 357.5,400"/>
<polyline points="395,330 396.25,337.5 395,348.75"/>
<polyline points="400,371.25 407.5,371.25 410,380 407.5,390 401.25,390"/>
<polyline points="405,342.5 410,352.5 420,355"/>
<polyline points="407.5,357.5 415,362.5 420,367.5"/>
<polygon points="339.38,400 351.25,402.5 352.5,405 367.5,398.75 373.75,402.5 377.5,412.5 365,420 360,425 357.5,430 356.88,435 357.5,445 358.12,453.75 355,454.38 346.25,451.25 341.25,447.5 333.75,445 331.25,437.5 330.62,433.75 338.12,433.75 338.12,416.25 331.25,415.62 331.25,408.75 339.38,408.75" fill="#00bfff" stroke="#000"/>
<polygon points="328.75,395 351.25,395 351.25,402.5 346.25,411.25 340,415 339.38,408.75 331.25,408.75 331.25,397.5" fill="#1e90ff" stroke="none"/>
<polyline points="351.25,395 351.25,402.5 346.25,411.25 340,415 339.38,408.75 331.25,408.75 331.25,397.5 328.75,395"/>
<polygon points="331.25,408.75 339.38,408.75 339.38,415.62 331.25,415.62" fill="#00bfff" stroke="#000"/>
<polygon points="323.75,421.25 338.12,421.25 338.12,433.75 330.62,433.75 327.5,427.5" fill="#ffffff" stroke="#000"/>
<polygon points="341.88,446.88 345,441.88 348.75,442.5 350.62,447.5 348.75,450.62 343.75,448.75" fill="#b0eeee" stroke="#000"/>
<polygon points="350.62,447.5 356.25,447.5 358.12,453.12 355,454.38 351.25,451.25" fill="#ffffff" stroke="#000"/>
<polygon points="366.25,395 392.5,395 395,400 385,407.5 377.5,412.5 373.75,402.5 367.5,398.75" fill="#0000ff" stroke="none"/>
<polyline points="392.5,395 395,400 385,407.5 377.5,412.5 373.75,402.5 367.5,398.75 366.25,395"/>
<polygon points="352.5,413.75 361.25,410 364.38,413.75 361.25,417.5 356.25,417.5" fill="#ffffff" stroke="#000"/>
<polygon points="350,423.12 357.5,423.12 358.75,428.75 351.25,429.38" fill="#ffffff" stroke="#000"/>
<polyline points="315,405 320,416.25 323.75,421.25 327.5,427.5 330,432.5 331.25,437.5 333.75,445 341.25,447.5 346.25,451.25 355,454.38 358.12,453.75"/>
<polyline points="358.12,453.75 357.5,445 356.88,435 357.5,430 360,425 365,420 371.25,416.25 377.5,412.5 385,407.5 392.5,402.5 400,398.75 415,397.5"/>
<polygon points="358.75,420 365,419.38 362.5,423.75 359.38,426.25 358.12,424.38" fill="#000000" stroke="none"/>
<polygon points="403.75,176.25 408.75,165 422.5,161.25 428.75,163.75 430.62,168.75 431.25,186.25 429.38,188.75 429.38,202.5 423.75,208.75 422.5,217.5 421.25,225 400,225 400,205 402.5,200 400,197.5 400,177.5" fill="#00bfff" stroke="none"/>
<polyline points="400,205 402.5,200 400,197.5"/>
<polyline points="400,177.5 403.75,176.25 408.75,165 422.5,161.25 428.75,163.75 430.62,168.75 431.25,186.25 429.38,188.75 429.38,202.5 423.75,208.75 422.5,217.5 421.25,225"/>
<polygon points="400,177.5 403.75,177.5 403.75,193.75 400,193.75" fill="#0000ff" stroke="none"/>
<polyline points="400,177.5 403.75,177.5 403.75,193.75 400,193.75"/>
<polygon points="405,185 410,185 410,192.5 405,192.5" fill="#0000ff" stroke="#000"/>
<polygon points="415,182.5 422.5,182.5 422.5,191.25 415,191.25" fill="#ffffff" stroke="#000"/>
<polygon points="402.5,197.5 410,195 415,200 417.5,205 412.5,206.25 407.5,203.75 402.5,202.5" fill="#ffffff" stroke="#000"/>
<polygon points="420,200 423.12,200 423.12,203.12 420,203.12" fill="#ffffff" stroke="#000"/>
<polygon points="428.75,163.75 442.5,157.5 447.5,152.5 450,151.25 445,157.5 447.5,158.75 455,162.5 465,160 475,158.75 477.5,157.5 487.5,160 487.5,165 482.5,167.5 477.5,166.25 472.5,168.75 466.25,170 462.5,172.5 458.75,173.75 456.25,180 455,185 452.5,185 450,180 443.75,180 443.75,190 440,187.5 431.25,186.25 430.62,168.75" fill="#b0eeee" stroke="#000"/>
<polygon points="482.5,167.5 487.5,166.25 493.75,172.5 497.5,180 500,182.5 500,203.75 470,203.75 468.12,202.5 467.5,193.75 468.12,187.5 470,180 472.5,171.25 480,170" fill="#b0eeee" stroke="none"/>
<polyline points="500,203.75 470,203.75 468.12,202.5 467.5,193.75 468.12,187.5 470,180 472.5,171.25 480,170 482.5,167.5 487.5,166.25 493.75,172.5 497.5,180 500,182.5"/>
<polygon points="470,171.25 480,170 482.5,195 470,193.75" fill="#ffffff" stroke="#000"/>
<polygon points="429.38,190 441.25,188.75 443.75,190 443.75,203.75 438.75,205 430,205" fill="#00bfff" stroke="#000"/>
<polygon points="443.75,180 450,180 452.5,185 455,185 456.25,187.5 455.62,193.75 455,200 455.62,206.25 455,212.5 456.25,220 456.25,225 447.5,225 443.75,217.5 442.5,203.75 443.75,190" fill="#00bfff" stroke="none"/>
<polyline points="447.5,225 443.75,217.5 442.5,203.75 443.75,190 443.75,180 450,180 452.5,185 455,185 456.25,187.5 455.62,193.75 455,200 455.62,206.25 455,212.5 456.25,220 456.25,225"/>
<polygon points="436.25,203.75 442.5,203.75 443.12,210 447.5,211.25 447.5,217.5 441.25,218.75 437.5,215 430,213.75 430,208.75" fill="#1e90ff" stroke="#000"/>
<polygon points="446.25,190 452.5,190 451.25,198.75 446.25,196.25" fill="#1e90ff" stroke="#000"/>
<polygon points="444.38,196.25 448.75,196.25 448.75,200 444.38,200" fill="#ffffff" stroke="#000"/>
<polygon points="447.5,220 455,217.5 456.25,225 447.5,225" fill="#0000ff" stroke="none"/>
<polyline points="447.5,225 447.5,220 455,217.5 456.25,225"/>
<polygon points="430,213.75 437.5,215 441.25,218.75 442.5,225 422.5,225 423.75,217.5" fill="#00bfff" stroke="none"/>
<polyline points="422.5,225 423.75,217.5 430,213.75 437.5,215 441.25,218.75 442.5,225"/>
<polygon points="472.5,203.75 500,203.75 500,225 472.5,225 471.25,215 470,207.5" fill="#00bfff" stroke="none"/>
<polyline points="472.5,225 471.25,215 470,207.5 472.5,203.75 500,203.75"/>
<polygon points="487.5,206.25 495,205 498.75,207.5 497.5,215 490,216.25 487.5,212.5" fill="#1e90ff" stroke="#000"/>
<polygon points="480,207.5 486.25,207.5 486.25,212.5 480,212.5" fill="#ffffff" stroke="#000"/>
<polygon points="475,212.5 482.5,213.75 482.5,220 475,220" fill="#b0eeee" stroke="#000"/>
<polygon points="490,217.5 500,216.25 500,225 490,225" fill="#1e90ff" stroke="none"/>
<polyline points="490,225 490,217.5 500,216.25"/>
<polyline points="400,205 407.5,203.75 412.5,206.25 417.5,205 422.5,217.5"/>
<polyline points="429.38,188.75 441.25,188.75"/>
<polyline points="430,205 437.5,205 443.75,203.75"/>
<polyline points="475,195 482.5,197.5 487.5,197.5 495,196.25 500,193.75"/>
<polyline points="470,197.5 475,195"/>
<polyline points="477.5,203.75 480,208.75"/>
<polygon points="420,158.75 426.25,157.5 425,162.5 422.5,163.75" fill="#000000" stroke="none"/>
<polygon points="487.5,165 495,165.62 495,166.88 487.5,166.88" fill="#000000" stroke="none"/>
<polyline points="456.25,180 458.75,187.5 455.62,193.75 455,200 455.62,206.25 455,212.5 456.25,220 456.25,225"/>
<polyline points="470,180 468.12,187.5 467.5,193.75 468.12,202.5 470,207.5 472.5,215 471.88,225"/>
<polygon points="380,220 397.5,220 397.5,225.62 380,225.62" fill="#b0eeee" stroke="none"/>
<polyline points="397.5,220 397.5,225.62 380,225.62"/>
<polygon points="403.75,220 411.25,220 411.25,223.75 403.75,223.75" fill="#1e90ff" stroke="none"/>
<polyline points="411.25,220 411.25,223.75 403.75,223.75 403.75,220"/>
<polygon points="396.25,225.62 400,225.62 400,230 396.25,230" fill="#ffffff" stroke="#000"/>
<polygon points="386.25,231.25 396.25,231.25 400,232.5 400,240 392.5,240 391.25,236.25 386.25,236.25" fill="#1e90ff" stroke="#000"/>
<polygon points="400.62,225 411.25,225 411.25,228.75 425,228.75 425,223.75 431.25,223.75 431.25,230 436.25,233.75 435.62,238.75 425,240 423.12,243.75 420,248.75 417.5,247.5 402.5,247.5 400.62,235" fill="#0000ff" stroke="#000"/>
<polygon points="415,230 420,230 420,238.75 415,238.75" fill="#ffffff" stroke="#000"/>
<polygon points="431.25,220 442.5,220 445,223.75 447.5,235 445,237.5 438.75,237.5 433.75,232.5 431.25,227.5" fill="#b0eeee" stroke="none"/>
<polyline points="442.5,220 445,223.75 447.5,235 445,237.5 438.75,237.5 433.75,232.5 431.25,227.5 431.25,220"/>
<polygon points="435.62,238.75 445,238.75 445,245 440,250 436.25,247.5" fill="#b0eeee" stroke="#000"/>
<polygon points="445,220 456.25,220 460,231.25 465,230 466.25,242.5 460,242.5 455,236.25 447.5,236.25" fill="#0000ff" stroke="none"/>
<polyline points="456.25,220 460,231.25 465,230 466.25,242.5 460,242.5 455,236.25 447.5,236.25 445,220"/>
<polygon points="456.25,220 470,220 467.5,227.5 462.5,230 457.5,225" fill="#ffffff" stroke="none"/>
<polyline points="470,220 467.5,227.5 462.5,230 457.5,225 456.25,220"/>
<polygon points="443.75,243.75 451.25,243.75 452.5,248.75 455,245 460,245 461.25,256.25 457.5,257.5 452.5,257.5 450,255 447.5,257.5 442.5,255" fill="#ffffff" stroke="#000"/>
<polygon points="436.25,252.5 442.5,253.75 442.5,261.25 438.75,262.5 435.62,257.5" fill="#ffffff" stroke="#000"/>
<polygon points="445,262.5 455,260 462.5,257.5 467.5,260 475,262.5 480,265 480,295 436.25,295 437.5,280 446.25,273.75" fill="#ffffff" stroke="none"/>
<polyline points="436.25,295 437.5,280 446.25,273.75 445,262.5 455,260 462.5,257.5 467.5,260 475,262.5 480,265"/>
<polygon points="467.5,227.5 480,227.5 480,243.75 470,243.75 467.5,232.5" fill="#b0eeee" stroke="none"/>
<polyline points="480,243.75 470,243.75 467.5,232.5 467.5,227.5 480,227.5"/>
<polygon points="462.5,242.5 470,242.5 470,248.75 462.5,248.75" fill="#1e90ff" stroke="#000"/>
<polygon points="462.5,262.5 475,262.5 480,270 477.5,280 467.5,280 461.25,272.5" fill="#b0eeee" stroke="#000"/>
<polygon points="382.5,265 386.25,261.25 396.25,261.25 396.25,271.25 393.75,272.5 392.5,282.5 383.75,283.75 382.5,276.25" fill="#1e90ff" stroke="#000"/>
<polygon points="380,256.25 387.5,255 390,258.75 385,261.25 381.25,262.5" fill="#ffffff" stroke="#000"/>
<polygon points="422.5,267.5 427.5,266.25 432.5,265 435,262.5 440,263.75 442.5,268.75 445,273.75 438.75,278.75 435,277.5 430,280 426.25,278.75 423.75,276.25" fill="#1e90ff" stroke="#000"/>
<polygon points="407.5,268.75 412.5,267.5 418.75,268.75 419.38,277.5 408.75,276.25" fill="#ffffff" stroke="#000"/>
<polygon points="421.25,280 433.75,280 436.25,285 436.25,295 411.25,295 411.25,290 421.25,287.5" fill="#b0eeee" stroke="none"/>
<polyline points="411.25,295 411.25,290 421.25,287.5 421.25,280 433.75,280 436.25,285 436.25,295"/>
<polygon points="387.5,283.75 398.75,283.75 398.75,295 387.5,295" fill="#ffffff" stroke="none"/>
<polyline points="387.5,295 387.5,283.75 398.75,283.75 398.75,295"/>
<polygon points="460,277.5 467.5,277.5 467.5,282.5 460,282.5" fill="#00bfff" stroke="#000"/>
<polyline points="420,248.75 421.25,256.25 425,261.25 428.75,265 433.75,272.5 436.25,280"/>
<polyline points="380,248.12 402.5,247.5"/>
<polyline points="400,240 401.25,248.75"/>
<polyline points="393.75,272.5 405,273.75 411.25,290"/>
<polyline points="455,257.5 457.5,272.5 455,285"/>
<polyline points="467.5,260 467.5,277.5"/>
<polygon points="472.5,205 485,202.5 487.5,207.5 483.75,212.5 480,213.75 475,212.5" fill="#00bfff" stroke="#000"/>
<polygon points="493.75,205 508.75,203.75 508.75,211.25 505,218.75 500,218.75 497.5,215 493.75,213.75" fill="#1e90ff" stroke="#000"/>
<polygon points="488.75,216.25 497.5,216.25 497.5,220 488.75,220" fill="#1e90ff" stroke="#000"/>
<polygon points="482.5,217.5 488.75,217.5 488.75,221.25 482.5,221.25" fill="#ffffff" stroke="#000"/>
<polygon points="470,222.5 472.5,222.5 473.12,227.5 470,227.5" fill="#0000ff" stroke="#000"/>
<polygon points="460,230 465.62,230 465.62,241.25 460,241.25" fill="#0000ff" stroke="none"/>
<polyline points="460,230 465.62,230 465.62,241.25 460,241.25"/>
<polygon points="493.75,225 501.25,225 502.5,230 497.5,231.25 495,228.75" fill="#00bfff" stroke="#000"/>
<polygon points="515,226.25 526.25,221.25 527.5,228.75 522.5,230 515,231.25" fill="#0000ff" stroke="#000"/>
<polygon points="522.5,227.5 527.5,227.5 527.5,233.75 522.5,233.75" fill="#1e90ff" stroke="#000"/>
<polygon points="503.75,241.25 511.25,237.5 517.5,245 520,252.5 517.5,255 505,252.5 503.75,247.5" fill="#0000ff" stroke="#000"/>
<polygon points="518.75,240 526.25,237.5 530,241.25 532.5,247.5 528.75,252.5 522.5,255 518.75,250" fill="#00bfff" stroke="#000"/>
<polygon points="535,227.5 545,228.75 547.5,233.75 546.25,238.75 550,242.5 546.25,246.25 538.75,246.25 536.25,241.25 533.75,236.25" fill="#1e90ff" stroke="#000"/>
<polygon points="490,246.25 496.25,247.5 500,250 501.25,252.5 497.5,258.75 501.25,263.75 497.5,268.75 491.25,267.5 490,260" fill="#0000ff" stroke="#000"/>
<polygon points="462.5,247.5 470,245 471.25,252.5 467.5,257.5 463.75,256.25" fill="#00bfff" stroke="#000"/>
<polygon points="467.5,242.5 475,241.25 476.25,246.25 471.25,247.5" fill="#1e90ff" stroke="#000"/>
<polygon points="475,245 487.5,243.75 488.75,252.5 485,256.25 478.75,256.25 476.25,252.5" fill="#00bfff" stroke="#000"/>
<polygon points="502.5,255 530,251.25 540,247.5 560,247.5 560,275 501.25,275 500,265" fill="#ffffff" stroke="none"/>
<polyline points="501.25,275 500,265 502.5,255 530,251.25 540,247.5 560,247.5"/>
<polygon points="551.25,262.5 557.5,262.5 557.5,270 551.25,270" fill="#00bfff" stroke="#000"/>
<polygon points="477.5,267.5 485,267.5 488.75,275 477.5,275" fill="#00bfff" stroke="none"/>
<polyline points="477.5,275 477.5,267.5 485,267.5 488.75,275"/>
<polygon points="555,200 560,200 560,207.5 555,207.5" fill="#1e90ff" stroke="none"/>
<polyline points="560,207.5 555,207.5 555,200"/>
<polygon points="545,200 550,200 550,205 546.25,205" fill="#1e90ff" stroke="none"/>
<polyline points="550,200 550,205 546.25,205 545,200"/>
<polygon points="493.75,236.25 500,236.25 500,240 493.75,240" fill="#ffffff" stroke="#000"/>
<polyline points="472.5,207.5 473.75,225 472.5,243.75 470,275"/>
<polyline points="485,202.5 486.25,220 488.75,243.75 490,275"/>
<polyline points="460,221.25 472.5,220 491.25,221.25 510,223.75"/>
<polyline points="460,235 475,233.75 491.25,233.75 502.5,232.5 516.25,232.5 535,231.25"/>
<polyline points="460,255 475,256.25 491.25,256.25"/>
<polyline points="535,212.5 535,250"/>
<polyline points="545,207.5 547.5,225 547.5,247.5"/>
<polyline points="512.5,231.25 513.75,255"/>
<polygon points="545,195.62 555,193.75 566.25,193.12 566.88,205 558.75,205 555,203.75 546.25,206.25 544.38,201.25" fill="#1e90ff" stroke="#000"/>
<polygon points="540,208.75 546.25,206.25 555,203.75 566.88,205 568.75,208.75 581.25,208.75 585,212.5 582.5,217.5 578.75,225 572.5,230 565,235 558.75,242.5 552.5,245 547.5,245 543.75,238.75 540,238.75" fill="#b0eeee" stroke="none"/>
<polyline points="540,208.75 546.25,206.25 555,203.75 566.88,205 568.75,208.75 581.25,208.75 585,212.5 582.5,217.5 578.75,225 572.5,230 565,235 558.75,242.5 552.5,245 547.5,245 543.75,238.75 540,238.75"/>
<polygon points="568.75,188.75 577.5,185 580,190 578.75,196.25 570,197.5" fill="#0000ff" stroke="#000"/>
<polygon points="568.75,197.5 580,195 592.5,193.75 591.25,181.25 600,180 602.5,187.5 601.25,198.75 592.5,202.5 590,208.75 586.25,212.5 581.25,208.75 572.5,206.25 570,203.75" fill="#00bfff" stroke="#000"/>
<polygon points="600,180 610,180 615,187.5 620,185 627.5,187.5 631.25,192.5 632.5,198.75 627.5,202.5 621.25,205 615,208.75 610,212.5 606.25,217.5 602.5,221.25 602.5,232.5 600,237.5 593.75,237.5 590,232.5 587.5,227.5 583.75,225 586.25,217.5 590,213.75 592.5,205 601.25,198.75" fill="#0000ff" stroke="none"/>
<polyline points="610,180 615,187.5 620,185 627.5,187.5 631.25,192.5 632.5,198.75 627.5,202.5 621.25,205 615,208.75 610,212.5 606.25,217.5 602.5,221.25 602.5,232.5 600,237.5 593.75,237.5 590,232.5 587.5,227.5 583.75,225 586.25,217.5 590,213.75 592.5,205 601.25,198.75 600,180"/>
<polygon points="590,203.75 597.5,203.75 597.5,208.75 591.25,210" fill="#ffffff" stroke="#000"/>
<polygon points="583.75,217.5 588.75,217.5 588.75,222.5 583.75,222.5" fill="#ffffff" stroke="#000"/>
<polygon points="605,192.5 610,191.25 610,197.5 605,198.75" fill="#ffffff" stroke="#000"/>
<polygon points="615,205 621.25,203.75 621.25,208.75 616.25,210" fill="#ffffff" stroke="#000"/>
<polygon points="605,213.75 612.5,211.25 615,212.5 607.5,217.5" fill="#ffffff" stroke="#000"/>
<polygon points="606.25,193.75 613.75,193.75 615,200 607.5,201.25" fill="#1e90ff" stroke="#000"/>
<polygon points="602.5,220 617.5,212.5 620,211.25 618.75,215 607.5,221.25 602.5,222.5" fill="#0000ff" stroke="#000"/>
<polygon points="576.25,213.75 581.25,212.5 582.5,221.25 577.5,222.5" fill="#b0eeee" stroke="#000"/>
<polygon points="557.5,225 565,223.75 566.25,227.5 561.25,230 557.5,228.75" fill="#1e90ff" stroke="#000"/>
<polygon points="563.75,217.5 571.25,216.25 572.5,221.25 565,222.5" fill="#ffffff" stroke="#000"/>
<polygon points="565,232.5 572.5,230 577.5,228.75 581.25,230 585,227.5 590,230 592.5,235 600,235 600,240 595,245 587.5,243.75 583.75,240 577.5,240 571.25,238.75 567.5,237.5" fill="#1e90ff" stroke="#000"/>
<polygon points="576.25,232.5 582.5,232.5 583.75,238.75 577.5,238.75" fill="#0000ff" stroke="#000"/>
<polygon points="572.5,235 577.5,236.25 576.25,240 571.88,238.75" fill="#00bfff" stroke="#000"/>
<polygon points="567.5,242.5 581.25,241.25 585,245 582.5,255 562.5,255 565,248.75" fill="#0000ff" stroke="none"/>
<polyline points="562.5,255 565,248.75 567.5,242.5 581.25,241.25 585,245 582.5,255"/>
<polygon points="540,245 552.5,245 558.75,242.5 565,245 562.5,255 540,255" fill="#ffffff" stroke="none"/>
<polyline points="540,245 552.5,245 558.75,242.5 565,245 562.5,255"/>
<polygon points="540,227.5 545,227.5 547.5,232.5 546.25,240 540,240" fill="#1e90ff" stroke="none"/>
<polyline points="540,227.5 545,227.5 547.5,232.5 546.25,240 540,240"/>
<polygon points="548.75,231.25 557.5,230 558.75,236.25 550,236.25" fill="#ffffff" stroke="#000"/>
<polygon points="627.5,196.25 635,196.25 637.5,201.25 632.5,205 627.5,203.12" fill="#ffffff" stroke="#000"/>
<polyline points="540,207.5 544.38,201.25 545,195.62 555,193.75 566.25,193.12 568.75,192.5 568.75,180"/>
<polyline points="601.25,221.25 602.5,232.5 601.25,237.5 598.75,245 596.25,255"/>
<polyline points="620,211.25 627.5,203.75 632.5,205 637.5,201.25 640,198.75"/>
<polyline points="547.5,217.5 562.5,215 577.5,212.5"/>
<polyline points="552.5,208.75 553.75,227.5"/>
<polyline points="581.25,180 582.5,187.5"/>
<polyline points="577.5,185 577.5,180"/>
<polygon points="591.25,181.25 598.75,180 600,185 591.25,185" fill="#00bfff" stroke="none"/>
<polyline points="591.25,185 591.25,181.25 598.75,180 600,185"/>
<polygon points="623.75,171.25 628.75,168.75 631.25,172.5 628.75,180 625,182.5 623.75,176.25" fill="#0000ff" stroke="#000"/>
<polygon points="616.25,176.25 621.25,175 622.5,182.5 618.75,185 615,183.75" fill="#1e90ff" stroke="#000"/>
<polyline points="571.25,173.75 575,168.75 580,165 597.5,162.5 612.5,158.75 613.75,153.75 618.75,151.25 620,148.75 621.25,135 623.75,128.75 625,121.25 627.5,120 630,122.5 635,119.38 640,120 642.5,123.75 643.75,131.25 646.25,140 650,141.25 652.5,146.25 656.25,147.5 657.5,151.25 655,155 650,160 645,162.5 640,167.5 633.75,172.5 630,175 628.75,180 626.25,185"/>
<polyline points="615.62,153.12 618.75,160 621.25,168.75 622.5,175"/>
<polyline points="612.5,158.75 610,168.75 611.25,175 613.75,185"/>
<polyline points="596.25,162.5 596.25,168.75 602.5,170 601.25,175 602.5,185"/>
<polyline points="621.25,135 627.5,142.5 631.25,151.25 635,156.25 638.75,157.5 645,152.5 647.5,148.75"/>
<polygon points="635,152.5 640,147.5 642.5,143.75 646.25,145 646.25,151.25 641.25,156.25 636.25,156.25"/>
<polygon points="570,177.5 573.75,176.25 576.25,178.75 573.75,182.5 570,182.5"/>
<polyline points="581.25,177.5 583.75,185"/>
<polygon points="591,181.5 599,180 601,184 601,192 596,195 590,198 592,203 590,208 586,210 580,210 580,196 586,195 592,193 595,188 591,185" fill="#00bfff" stroke="none"/>
<polyline points="580,196 586,195 592,193 595,188 591,185 591,181.5 599,180 601,184 601,192 596,195 590,198 592,203 590,208 586,210 580,210"/>
<polygon points="624,170 630,169 631,173 629,180 626,178 624,175" fill="#0000ff" stroke="#000"/>
<polygon points="617,175 621,175 622,180 620,184 617,183" fill="#1e90ff" stroke="#000"/>
<polygon points="618,185 624,184 627,186 632,198 629,202 627,204 622,206 618,208 614,209 610,207 608,202 615,200 615,194 619,190" fill="#0000ff" stroke="#000"/>
<polygon points="607,194 613,193 614,200 608,201" fill="#1e90ff" stroke="#000"/>
<polygon points="591,206 602,203 608,202 610,207 614,209 618,210 618,214 612,216 605,218 595,220 588,220 586,216" fill="#0000ff" stroke="none"/>
<polyline points="588,220 586,216 591,206 602,203 608,202 610,207 614,209 618,210 618,214 612,216 605,218 595,220"/>
<polygon points="632,198 636,195 639,197 640,204 633,205 630,202" fill="#ffffff" stroke="#000"/>
<polygon points="603,193 606,193 606,204 603,204" fill="#ffffff" stroke="#000"/>
<polygon points="616,205 620,205 620,209 616,209" fill="#ffffff" stroke="#000"/>
<polyline points="630,169 632,173 629,181 627,184 630,190 633,197 637,195 640,198 640,204 632,206 628,204 624,208 618,211 612,214 605,218 600,220"/>
<polyline points="598,162 598,193 603,193"/>
<polyline points="610,160 610,192"/>
<polyline points="580,165 598,162 613,160"/>
<polyline points="603,193 615,193"/>
<polyline points="606,202 625,200"/>
<polygon points="400,138.75 406.25,141.88 411.25,143.75 411.88,147.5 412.5,158.75 408.12,165 407.5,167.5 401.25,167.5 400.62,152.5" fill="#00bfff" stroke="#000"/>
<polygon points="386.25,137.5 397.5,138.12 400,138.75 400.62,152.5 401.25,167.5 407.5,167.5 403.75,173.75 397.5,175 393.75,171.25 393.12,156.25 390,153.75 386.88,151.25" fill="#ffffff" stroke="#000"/>
<polyline points="360,133.75 379.38,133.75 379.38,128.12 382.5,128.12 383.12,133.75 385,137.5 397.5,138.12 401.25,137.5 406.25,141.88 412.5,144.38 420,142.5 427.5,144.38 433.12,145"/>
<polyline points="433.12,145 430,146.25 420,152.5 412.5,158.75 408.12,165"/>
<polyline points="408.12,165 415,162.5 422.5,160 427.5,163.12 435,160 445,153.75 450,150.62 452.5,151.25 446.25,156.25 446.25,160 453.75,161.88 460,162.5"/>
<polygon points="436.25,145 443.75,140.62 445,141.88 437.5,146.25" fill="#000000" stroke="none"/>
<polygon points="421.25,158.75 426.25,157.5 424.38,163.75 421.88,163.12" fill="#000000" stroke="none"/>
<polygon points="567.5,242.5 582.5,241.25 586.25,245 585,252.5 581.25,257.5 577.5,260 572.5,265 570,263.75 565,260 561.88,253.75 565,248.75" fill="#0000ff" stroke="#000"/>
<polygon points="581.25,271.25 585,270 588.75,275 591.25,280 590,283.75 583.75,285 581.25,278.75" fill="#0000ff" stroke="#000"/>
<polygon points="566.25,268.75 572.5,265 576.25,267.5 580,275 577.5,281.25 572.5,281.25 567.5,277.5" fill="#1e90ff" stroke="#000"/>
<polygon points="590,250 595,248.75 596.25,253.75 595,262.5 590,261.25 588.75,256.25" fill="#b0eeee" stroke="#000"/>
<polygon points="552.5,263.75 557.5,262.5 558.75,268.75 553.75,270" fill="#00bfff" stroke="#000"/>
<polygon points="550,277.5 556.25,273.75 560,277.5 558.75,282.5 552.5,282.5" fill="#1e90ff" stroke="#000"/>
<polygon points="540,280 545,277.5 546.25,285 540,287.5" fill="#1e90ff" stroke="none"/>
<polyline points="540,280 545,277.5 546.25,285 540,287.5"/>
<polygon points="540,240 547.5,240 547.5,245 540,245" fill="#1e90ff" stroke="none"/>
<polyline points="547.5,240 547.5,245 540,245"/>
<polygon points="547.5,240 561.25,240 560,243.75 548.75,243.75" fill="#b0eeee" stroke="none"/>
<polyline points="561.25,240 560,243.75 548.75,243.75 547.5,240"/>
<polygon points="540,287.5 547.5,287.5 550,290 540,291.25" fill="#b0eeee" stroke="none"/>
<polyline points="540,287.5 547.5,287.5 550,290 540,291.25"/>
<polygon points="540,292.5 547.5,292.5 547.5,302.5 540,302.5" fill="#00bfff" stroke="none"/>
<polyline points="540,292.5 547.5,292.5 547.5,302.5 540,302.5"/>
<polygon points="550,291.25 556.25,290 557.5,300 552.5,302.5 550,298.75" fill="#1e90ff" stroke="#000"/>
<polygon points="557.5,292.5 567.5,290 570,297.5 565,305 557.5,305" fill="#00bfff" stroke="#000"/>
<polygon points="545,302.5 557.5,305 558.75,312.5 547.5,315 545,310" fill="#00bfff" stroke="#000"/>
<polygon points="571.25,297.5 583.75,297.5 585,305 581.25,310 572.5,310" fill="#b0eeee" stroke="#000"/>
<polygon points="565,305 572.5,306.25 575,315 561.25,315" fill="#b0eeee" stroke="none"/>
<polyline points="561.25,315 565,305 572.5,306.25 575,315"/>
<polyline points="597.5,240 598.75,247.5 596.25,253.75 595,262.5 592.5,272.5 592.5,280 598.75,287.5 601.25,293.75 600,300 593.75,305 590,310 587.5,315"/>
<polyline points="540,287.5 555,286.25 571.25,285 587.5,286.25 598.75,287.5"/>
<polyline points="576.25,260 581.25,265 583.75,270"/>
<polyline points="580,258.75 586.25,265 588.75,271.25 590,277.5"/>
<polyline points="582.5,255 588.75,261.25 591.25,267.5 592.5,272.5"/>
<polyline points="540,252.5 552.5,255 561.25,253.75"/>
<polyline points="558.75,252.5 562.5,271.25 565,277.5 562.5,287.5"/>
<polyline points="547.5,245 550,265 547.5,277.5"/>
<polyline points="540,270 547.5,272.5 555,270 565,271.25"/>
<polygon points="462.5,265 476.25,262.5 490,260 491.25,267.5 485,275 475,280 465,280" fill="#b0eeee" stroke="#000"/>
<polygon points="467.5,255 481.25,255 481.25,261.25 467.5,261.25" fill="#b0eeee" stroke="none"/>
<polyline points="481.25,255 481.25,261.25 467.5,261.25 467.5,255"/>
<polygon points="491.25,255 500,255 503.75,262.5 502.5,267.5 497.5,270 492.5,268.75 490,263.75 490,258.75" fill="#0000ff" stroke="none"/>
<polyline points="500,255 503.75,262.5 502.5,267.5 497.5,270 492.5,268.75 490,263.75 490,258.75 491.25,255"/>
<polygon points="477.5,268.75 485,268.75 490,271.25 491.25,276.25 486.25,280 482.5,278.75 478.75,276.25" fill="#00bfff" stroke="#000"/>
<polygon points="493.75,272.5 500,271.25 502.5,276.25 498.75,280 495,278.75" fill="#1e90ff" stroke="#000"/>
<polygon points="460,277.5 465,277.5 467.5,283.75 460,285" fill="#00bfff" stroke="none"/>
<polyline points="460,277.5 465,277.5 467.5,283.75 460,285"/>
<polygon points="552.5,262.5 557.5,262.5 557.5,268.75 552.5,268.75" fill="#00bfff" stroke="#000"/>
<polygon points="537.5,280 545,275 550,276.25 552.5,285 545,287.5 540,285" fill="#1e90ff" stroke="#000"/>
<polygon points="550,273.75 557.5,272.5 560,273.75 560,282.5 553.75,282.5" fill="#1e90ff" stroke="none"/>
<polyline points="560,282.5 553.75,282.5 550,273.75 557.5,272.5 560,273.75"/>
<polygon points="503.75,292.5 512.5,290 522.5,283.75 530,282.5 540,286.25 547.5,287.5 560,286.25 560,291.25 547.5,292.5 535,291.25 525,292.5 516.25,293.75 507.5,296.25" fill="#b0eeee" stroke="none"/>
<polyline points="560,291.25 547.5,292.5 535,291.25 525,292.5 516.25,293.75 507.5,296.25 503.75,292.5 512.5,290 522.5,283.75 530,282.5 540,286.25 547.5,287.5 560,286.25"/>
<polygon points="460,301.25 463.75,300 465,308.75 463.75,317.5 460,317.5" fill="#1e90ff" stroke="none"/>
<polyline points="460,301.25 463.75,300 465,308.75 463.75,317.5 460,317.5"/>
<polygon points="465,301.25 477.5,298.75 485,300 485,308.75 478.75,313.75 470,313.75 466.25,310" fill="#00bfff" stroke="#000"/>
<polygon points="496.25,302.5 501.25,297.5 507.5,298.75 512.5,302.5 508.75,310 501.25,308.75 497.5,306.25" fill="#0000ff" stroke="#000"/>
<polygon points="517.5,305 525,305 525,311.25 518.75,312.5" fill="#b0eeee" stroke="#000"/>
<polygon points="520,315 527.5,313.75 532.5,312.5 536.25,316.25 535,322.5 525,325 521.25,322.5" fill="#0000ff" stroke="#000"/>
<polygon points="530,297.5 535,297.5 540,302.5 540,310 535,311.25 531.25,306.25" fill="#1e90ff" stroke="#000"/>
<polygon points="545,307.5 555,307.5 555,312.5 546.25,313.75" fill="#1e90ff" stroke="#000"/>
<polygon points="472.5,322.5 480,321.25 481.25,327.5 473.75,328.75" fill="#1e90ff" stroke="#000"/>
<polygon points="462.5,313.75 485,313.75 487.5,320 477.5,320 462.5,320" fill="#b0eeee" stroke="#000"/>
<polygon points="460,320 471.25,320 471.25,330 460,330" fill="#ffffff" stroke="none"/>
<polyline points="460,320 471.25,320 471.25,330"/>
<polygon points="488.75,308.75 506.25,310 507.5,315 497.5,317.5 490,315" fill="#ffffff" stroke="#000"/>
<polygon points="493.75,317.5 505,316.25 510,322.5 503.75,330 491.25,330" fill="#ffffff" stroke="none"/>
<polyline points="491.25,330 493.75,317.5 505,316.25 510,322.5 503.75,330"/>
<polygon points="548.75,291.25 553.75,291.25 553.75,303.75 548.75,303.75" fill="#ffffff" stroke="#000"/>
<polygon points="510,302.5 517.5,300 518.75,305 512.5,307.5" fill="#ffffff" stroke="#000"/>
<polyline points="460,297.5 485,296.25 503.75,295 516.25,293.75 530,292.5 547.5,292.5 560,291.88"/>
<polyline points="485,296.25 487.5,286.25 497.5,285 505,292.5"/>
<polyline points="506.25,267.5 512.5,277.5 520,280 530,277.5 535,270 540,267.5"/>
<polyline points="513.75,255 515,265 520,270 525,272.5"/>
<polyline points="525,260 530,262.5 535,265 545,262.5 550,257.5"/>
<polyline points="530,270 535,277.5 537.5,280"/>
<polyline points="472.5,282.5 480,287.5 490,285"/>
<polyline points="512.5,312.5 517.5,320 516.25,330"/>
<polyline points="537.5,312.5 541.25,320 547.5,320"/>
<polygon points="393.75,280 425,280 425,290 417.5,291.25 408.75,292.5 407.5,285 393.75,285" fill="#00bfff" stroke="none"/>
<polyline points="425,280 425,290 417.5,291.25 408.75,292.5 407.5,285 393.75,285 393.75,280"/>
<polygon points="407.5,292.5 417.5,291.25 425,290 427.5,281.25 437.5,282.5 442.5,287.5 447.5,296.25 445,301.25 442.5,307.5 440,310 435,307.5 427.5,306.25 422.5,303.75 408.75,302.5" fill="#b0eeee" stroke="#000"/>
<polygon points="380,280 387.5,280 387.5,298.75 380,298.75" fill="#00bfff" stroke="none"/>
<polyline points="387.5,280 387.5,298.75 380,298.75"/>
<polygon points="400,286.25 407.5,286.25 407.5,302.5 400,301.25" fill="#b0eeee" stroke="#000"/>
<polygon points="388.75,306.25 397.5,305 400,313.75 393.75,315 388.75,313.75" fill="#00bfff" stroke="#000"/>
<polygon points="387.5,301.25 392.5,301.25 392.5,305 387.5,305" fill="#00bfff" stroke="#000"/>
<polygon points="442.5,307.5 445,302.5 455,301.25 465,300 466.25,305 462.5,312.5 461.25,322.5 450,321.25 443.75,317.5 441.25,312.5" fill="#1e90ff" stroke="#000"/>
<polygon points="447.5,310 452.5,311.25 457.5,317.5 453.75,317.5 447.5,313.75" fill="#ffffff" stroke="#000"/>
<polygon points="435,317.5 442.5,316.25 450,321.25 450,327.5 437.5,331.25 435,327.5" fill="#00bfff" stroke="#000"/>
<polygon points="466.25,301.25 480,297.5 480,316.25 470,315 465,312.5" fill="#00bfff" stroke="none"/>
<polyline points="480,316.25 470,315 465,312.5 466.25,301.25 480,297.5"/>
<polygon points="462.5,317.5 480,316.25 480,322.5 470,323.75 462.5,322.5" fill="#b0eeee" stroke="none"/>
<polyline points="480,322.5 470,323.75 462.5,322.5 462.5,317.5 480,316.25"/>
<polygon points="472.5,322.5 480,322.5 480,327.5 473.75,327.5" fill="#1e90ff" stroke="none"/>
<polyline points="480,327.5 473.75,327.5 472.5,322.5 480,322.5"/>
<polygon points="392.5,317.5 405,316.25 412.5,320 415,323.75 410,330 405,333.75 401.25,340 392.5,337.5 390,330" fill="#b0eeee" stroke="#000"/>
<polygon points="405,325 412.5,321.25 421.25,322.5 421.25,330 416.25,333.75 413.75,338.75 410,335 405,332.5" fill="#00bfff" stroke="#000"/>
<polygon points="430,338.75 433.75,332.5 442.5,331.25 445,332.5 445,350 441.25,355 430,355" fill="#b0eeee" stroke="none"/>
<polyline points="430,355 430,338.75 433.75,332.5 442.5,331.25 445,332.5 445,350 441.25,355"/>
<polygon points="445,325 461.25,323.75 461.25,352.5 450,355 445,350" fill="#00bfff" stroke="#000"/>
<polygon points="462.5,323.75 470,323.75 471.25,332.5 467.5,342.5 462.5,342.5" fill="#b0eeee" stroke="#000"/>
<polygon points="467.5,333.75 480,335 480,355 470,350" fill="#00bfff" stroke="none"/>
<polyline points="480,355 470,350 467.5,333.75 480,335"/>
<polygon points="380,320 386.25,320 386.25,345 380,345" fill="#b0eeee" stroke="none"/>
<polyline points="380,320 386.25,320 386.25,345 380,345"/>
<polygon points="380,343.75 387.5,343.75 387.5,355 380,355" fill="#00bfff" stroke="none"/>
<polyline points="380,343.75 387.5,343.75 387.5,355"/>
<polygon points="435,352.5 442.5,352.5 442.5,355 435,355" fill="#0000ff" stroke="none"/>
<polyline points="435,355 435,352.5 442.5,352.5 442.5,355"/>
<polyline points="445,301.25 442.5,307.5 440,312.5 437.5,320 435,325 432.5,330 430,337.5 428.75,345 430,355"/>
<polyline points="380,308.75 387.5,310 397.5,305 405,303.75 421.25,305 427.5,306.25 435,307.5"/>
<polyline points="425,305 427.5,312.5 435,313.75 436.25,317.5"/>
<polyline points="415,323.75 423.75,325 432.5,322.5"/>
<polyline points="392.5,338.75 398.75,345 397.5,355"/>
<polyline points="405,338.75 412.5,342.5 417.5,355"/>
<polygon points="428.75,340 447.5,340 446.25,352.5 433.75,353.75 430,357.5 428.75,347.5" fill="#b0eeee" stroke="none"/>
<polyline points="447.5,340 446.25,352.5 433.75,353.75 430,357.5 428.75,347.5 428.75,340"/>
<polygon points="446.25,340 461.25,340 461.25,352.5 446.25,352.5" fill="#00bfff" stroke="none"/>
<polyline points="461.25,340 461.25,352.5 446.25,352.5 446.25,340"/>
<polygon points="433.75,353.75 445,353.75 446.25,368.75 435,370" fill="#0000ff" stroke="#000"/>
<polygon points="446.25,352.5 461.25,352.5 461.25,380 450,382.5 447.5,377.5 443.75,375 445,368.75" fill="#b0eeee" stroke="#000"/>
<polygon points="447.5,373.75 457.5,373.12 457.5,380 448.75,380" fill="#ffffff" stroke="#000"/>
<polygon points="472.5,340 482.5,340 485,352.5 477.5,353.75 473.75,346.25" fill="#00bfff" stroke="none"/>
<polyline points="482.5,340 485,352.5 477.5,353.75 473.75,346.25 472.5,340"/>
<polygon points="485,340 500,340 500,352.5 487.5,352.5" fill="#b0eeee" stroke="none"/>
<polyline points="500,352.5 487.5,352.5 485,340"/>
<polygon points="472.5,378.75 481.25,377.5 481.25,386.25 476.25,387.5 472.5,382.5" fill="#1e90ff" stroke="#000"/>
<polygon points="491.25,376.25 500,375 500,392.5 495,390 491.25,383.75" fill="#b0eeee" stroke="none"/>
<polyline points="500,392.5 495,390 491.25,383.75 491.25,376.25 500,375"/>
<polygon points="423.75,382.5 436.25,381.25 437.5,390 428.75,393.75 425,388.75" fill="#1e90ff" stroke="#000"/>
<polygon points="413.75,390 425,390 430,395 422.5,400 416.25,401.25" fill="#1e90ff" stroke="#000"/>
<polygon points="435,392.5 441.25,385 450,383.75 461.25,382.5 462.5,387.5 452.5,390 453.75,400 457.5,405 452.5,407.5 447.5,403.75 443.75,401.25 437.5,397.5" fill="#0000ff" stroke="#000"/>
<polygon points="400,353.75 403.75,353.75 403.75,365 400,365" fill="#b0eeee" stroke="none"/>
<polyline points="400,353.75 403.75,353.75 403.75,365 400,365"/>
<polyline points="400,395 413.75,397.5 416.25,401.25 422.5,400 427.5,403.75 432.5,407.5 437.5,406.25 443.75,401.25 450,405 453.75,407.5 457.5,405 453.75,400 452.5,393.75 455,390 462.5,388.75 475,387.5 482.5,386.25 490,385 495,387.5 500,392.5"/>
<polyline points="400,352.5 428.75,352.5"/>
<polyline points="428.75,357.5 425,377.5 423.75,382.5"/>
<polyline points="461.25,340 462.5,377.5"/>
<polyline points="480,353.75 480,375"/>
<polyline points="407.5,355 410,377.5 405,387.5"/>
<polyline points="415,355 418.75,371.25 415,381.25"/>
<polygon points="470,312.5 486.25,312.5 488.75,320 482.5,322.5 475,322.5 470,322.5" fill="#b0eeee" stroke="none"/>
<polyline points="470,312.5 486.25,312.5 488.75,320 482.5,322.5 475,322.5 470,322.5"/>
<polygon points="486.25,312.5 495,313.75 495,320 488.75,320" fill="#00bfff" stroke="#000"/>
<polygon points="505,310 520,310 520,315 505,316.25" fill="#00bfff" stroke="none"/>
<polyline points="520,310 520,315 505,316.25 505,310"/>
<polygon points="520,315 527.5,313.75 532.5,313.75 536.25,320 533.75,323.75 527.5,325 523.75,326.25 520,320" fill="#0000ff" stroke="#000"/>
<polygon points="536.25,312.5 545,313.75 546.25,320 540,321.25 536.25,318.75" fill="#1e90ff" stroke="#000"/>
<polygon points="533.75,323.75 545,322.5 547.5,328.75 543.75,332.5 537.5,331.25 533.75,328.75" fill="#00bfff" stroke="#000"/>
<polygon points="472.5,322.5 481.25,322.5 481.25,326.25 475,327.5" fill="#1e90ff" stroke="#000"/>
<polygon points="481.25,323.75 488.75,322.5 491.25,326.25 493.75,335 496.25,345 495,351.25 483.75,351.25 482.5,341.25" fill="#b0eeee" stroke="#000"/>
<polygon points="495,327.5 505,325 510,328.75 513.75,335 516.25,342.5 510,346.25 502.5,347.5 497.5,347.5 495,337.5" fill="#00bfff" stroke="#000"/>
<polygon points="470,335 482.5,333.75 482.5,341.25 480,352.5 473.75,352.5 470,350" fill="#00bfff" stroke="none"/>
<polyline points="470,335 482.5,333.75 482.5,341.25 480,352.5 473.75,352.5 470,350"/>
<polygon points="510,343.75 516.25,343.75 517.5,350 512.5,352.5 510,348.75" fill="#0000ff" stroke="#000"/>
<polygon points="526.25,333.75 531.25,332.5 537.5,337.5 536.25,342.5 532.5,343.75 528.75,341.25" fill="#1e90ff" stroke="#000"/>
<polygon points="550,335 556.25,333.75 562.5,337.5 557.5,345 553.75,347.5 550,341.25" fill="#0000ff" stroke="#000"/>
<polygon points="552.5,320 557.5,318.75 560,323.75 555,326.25" fill="#00bfff" stroke="#000"/>
<polygon points="500,363.75 510,362.5 517.5,360 525,358.75 532.5,360 537.5,365 537.5,372.5 542.5,375 540,385 517.5,385 507.5,380 502.5,377.5" fill="#b0eeee" stroke="none"/>
<polyline points="517.5,385 507.5,380 502.5,377.5 500,363.75 510,362.5 517.5,360 525,358.75 532.5,360 537.5,365 537.5,372.5 542.5,375 540,385"/>
<polygon points="537.5,373.75 542.5,372.5 545,385 537.5,385" fill="#1e90ff" stroke="none"/>
<polyline points="537.5,385 537.5,373.75 542.5,372.5 545,385"/>
<polygon points="473.75,377.5 481.25,377.5 481.25,385 473.75,385" fill="#1e90ff" stroke="none"/>
<polyline points="473.75,385 473.75,377.5 481.25,377.5 481.25,385"/>
<polygon points="491.25,377.5 502.5,377.5 502.5,385 491.25,385" fill="#b0eeee" stroke="none"/>
<polyline points="491.25,385 491.25,377.5 502.5,377.5 502.5,385"/>
<polyline points="545,385 545,370 547.5,360 551.25,351.25 557.5,346.25 565,337.5 570,335"/>
<polyline points="470,353.75 482.5,352.5 495,352.5 500,351.25 510,352.5"/>
<polyline points="517.5,351.25 522.5,345 526.25,333.75 522.5,327.5 517.5,321.25 513.75,315"/>
<polyline points="477.5,353.75 480,366.25 477.5,380"/>
<polyline points="495,352.5 498.75,363.75"/>
<polyline points="522.5,345 532.5,347.5 540,351.25"/>
<polyline points="482.5,362.5 495,362.5 500,363.75"/>
<polygon points="480,370 542.5,370 538.75,375 535,378.75 536.25,387.5 540,391.25 543.75,393.75 545,400 540,401.25 533.75,403.75 531.25,400 527.5,396.25 522.5,392.5 517.5,387.5 512.5,388.75 507.5,392.5 500,394.38 498.75,392.5 493.75,387.5 491.25,383.75 480,385" fill="#b0eeee" stroke="none"/>
<polyline points="542.5,370 538.75,375 535,378.75 536.25,387.5 540,391.25 543.75,393.75 545,400 540,401.25 533.75,403.75 531.25,400 527.5,396.25 522.5,392.5 517.5,387.5 512.5,388.75 507.5,392.5 500,394.38 498.75,392.5 493.75,387.5 491.25,383.75 480,385"/>
<polygon points="482.5,378.75 491.25,377.5 492.5,383.75 482.5,385" fill="#ffffff" stroke="#000"/>
<polygon points="506.25,378.75 517.5,378.75 516.25,387.5 510,387.5" fill="#ffffff" stroke="#000"/>
<polygon points="528.75,387.5 536.25,387.5 537.5,392.5 530,392.5" fill="#ffffff" stroke="#000"/>
<polygon points="537.5,373.75 542.5,375 547.5,385 542.5,387.5 540,382.5 535,380" fill="#1e90ff" stroke="#000"/>
<polygon points="545,388.75 551.25,392.5 555,400 550,401.25 545,397.5" fill="#b0eeee" stroke="#000"/>
<polygon points="542.5,398.75 550,401.25 555,402.5 556.25,410 555,415 550,415 543.75,411.25 542.5,405" fill="#00bfff" stroke="#000"/>
<polygon points="555,400 558.75,401.25 561.25,411.25 557.5,412.5 556.25,407.5" fill="#1e90ff" stroke="#000"/>
<polygon points="533.75,405 538.75,403.75 542.5,407.5 542.5,417.5 540,420 536.25,418.75 533.75,411.25" fill="#0000ff" stroke="#000"/>
<polygon points="536.25,418.75 542.5,418.75 543.75,425 540,426.25 537.5,422.5" fill="#0000ff" stroke="#000"/>
<polygon points="543.75,416.25 555,416.25 556.25,422.5 553.75,426.25 547.5,427.5 543.75,425" fill="#ffffff" stroke="#000"/>
<polygon points="561.25,415 566.25,417.5 567.5,422.5 562.5,423.75" fill="#1e90ff" stroke="#000"/>
<polygon points="558.75,423.75 568.75,423.75 570,445 561.25,445 560,435" fill="#0000ff" stroke="none"/>
<polyline points="561.25,445 560,435 558.75,423.75 568.75,423.75 570,445"/>
<polygon points="545,430 551.25,430 557.5,435 560,440 556.25,441.25 550,438.75 546.25,435" fill="#00bfff" stroke="#000"/>
<polyline points="480,385 491.25,383.75 493.75,387.5 498.75,392.5 500,394.38 507.5,392.5 512.5,388.75 517.5,387.5 522.5,392.5 527.5,396.25 531.25,400 533.75,403.75 532.5,411.25 535,418.75 538.75,423.75 542.5,428.75 546.25,433.75 550,438.75 553.75,441.25 558.75,442.5 561.25,445"/>
<polyline points="570,445 570,426.25 567.5,420 562.5,411.25 556.25,400 551.25,392.5 547.5,385 545,377.5 542.5,370"/>
<polygon points="533.75,412.5 537.5,413.75 538.75,418.75 535.62,419.38" fill="#000000" stroke="none"/>
<polygon points="559,424 569,424 570,432 571,442 569,447 564,449 562,445 561,435" fill="#0000ff" stroke="#000"/>
<polygon points="545,431 549,429 552,432 555,433 560,435 561,440 556,441 550,440 548,435" fill="#00bfff" stroke="#000"/>
<polyline points="535,420 543,427 545,433 550,441 555,443 558,448 560,450 564,450 568,449 570,444 570,432 569,424 568,420"/>
<polygon points="563,449 569,448 567,452 562,455" fill="#000000" stroke="none"/>
<polyline points="562,455 558,457 553,458 548,460"/>
<polyline points="537,460.2 539,460.2"/>
<polygon points="88,375 89.71,373.47 92.27,373.92 94.21,372.91 95.81,371.12 98,370.71 99.96,369.76 102,369 104.1,368.57 106.19,368.12 107.73,366.09 109.68,365.25 112.23,366.06 113.95,364.59 116,364 118.05,364.32 119.9,362.61 121.99,363.29 124.04,363.64 126,363 128.3,363.88 129.51,366.41 132,367 133.72,368.5 136.33,367.62 138.33,368.36 140,370 141.98,370.68 143.75,372.04 146.07,371.57 148.16,371.86 150,373 152.06,373.69 154.36,373.8 156.21,374.99 158.05,376.22 160,377.16 162,378 164.16,378.12 166.16,378.74 168.17,379.34 170.02,380.42 172.13,380.72 174.29,380.84 175.8,383.02 178,383 177.65,384.99 177.23,386.97 177.9,389.08 176.05,390.88 176.07,392.91 177.3,395.09 176.64,397.04 175.62,398.95 175.4,400.95 174.71,402.89 175.49,405.02 174.44,406.92 174.51,408.96 175,411.05 174.19,412.98 173.36,414.91 173.19,416.92 173.63,419 173.22,420.98 174.08,423.11 173.42,425.06 172.08,426.93 172.59,429.02 172.83,431.08 171.84,432.99 171.29,434.95 171.11,436.96 171.46,439.03 171.09,441.01 170.71,443 169.93,444.93 170.2,446.99 170,449 168,449.21 166,449.02 164,449.94 162,449.91 160,448.59 158,449 156.98,447.03 154.91,446.45 153.07,445.57 151.2,444.73 150,443 148,441.66 146.53,439.53 144,439 142.3,437.22 140.04,436.27 138,435 135.77,434.98 134.17,436.84 132,437 130.64,438.98 128.58,440.5 128,443 125.89,444.89 124,447 122.38,448.4 120.95,450.03 119,451 116,453 113.96,453.91 111.59,454.18 110.44,456.88 108,457 105.75,457.49 103.71,458.43 101.65,459.31 100,461 97.82,461.35 95.77,462.03 93.99,463.37 91.95,464.09 90,465 88.05,465.94 86.33,467.42 83.73,466.71 81.95,468.07 80,469 78.15,470.08 76,469.99 74.01,470.53 72,471 74,472 75.92,471.13 77.91,470.51 80.02,470.27 82.07,469.84 84,469 86.07,468.55 87.97,467.59 89.7,466.1 91.83,465.82 93.8,465.05 96,465 98.09,463.94 100.37,463.22 102.31,461.91 104.31,460.71 106,459 107.02,457.12 106.32,454.9 107.87,453.13 107.94,451.07 108,449 105.8,449.31 104,448 101.84,448.62 99.84,448.29 98,447 96.12,446 93.88,446.49 91.81,446.26 90,445 89.57,442.92 88.37,441.1 88,439 85.52,438.38 83.62,436.9 82,435 81.55,432.99 80.36,431.16 80.06,429.11 80.41,426.9 79.41,425.02 79,423 80.22,420.79 82,419 83.97,417.62 85.47,415.54 88,415 90.42,413.79 93,413 95.29,412.18 97.5,411.07 100,411 99.74,408.81 101,407 98,405 96,404.2 94,404.98 92,405.58 90,405 87.72,404.13 85.51,403.06 83,403 81.56,400.69 82,398 79.32,396.68 78,394 80,392 81.93,391.1 84.04,392.04 85.93,390.72 88.04,391.61 90,391 91.89,392 93.97,392.42 96,393 98.18,393.14 99.7,395.24 102,395 102,392 100.36,390.02 98,389 96.52,387.48 94.61,386.39 93.71,384.29 92,383 90.34,381.39 89.12,379.4 87.23,377.98 86,376"/>
<polygon points="146,411 154,410 162,414 163,416 154,418 147,416"/>
<polygon points="127,425 152,424 151,435 144,436 138,435 126,434"/>
<polygon points="60,404 64,403 70,408 67,409.4 62,407"/>
<polygon points="72,431 76,430 78,434 74,435"/>
<polygon points="114,459 120,454 125,455 122,463 116,464"/>
<polyline points="50,424 53,425.4"/>
<polyline points="128,447 138,441 144,447"/>
<polygon points="54,477 60,475 66,473 67,475 60,477.6 55,479" fill="#000000" stroke="none"/>
<polygon points="28,477.6 34,477.6 34,479.2 28,479.2" fill="#000000" stroke="none"/>
<polyline points="72,471 86,466 94,462 104,456 108,448"/>
<polyline points="72,471 74,472.4 86,469 100,463 112,456 120,450 128,442"/>
<polygon points="204,425.5 209.5,425 209.5,430 206.5,430.5 204,428"/>
<polygon points="197.5,430 200,427.5 200.8,428.5 198.2,430.6" fill="#000000" stroke="none"/>
<polygon points="193.2,431.2 194,431.2 194,432 193.2,432" fill="#000000" stroke="none"/>
<polygon points="221.5,436.5 224.5,434.5 226.5,436.5 228.5,439 228.5,441.5 226,441 223,440" fill="#0000ff" stroke="#000"/>
<polygon points="232.5,443.5 240,443 240.5,445 233,444.5"/>
<polygon points="236,447 238.5,447 238.5,449.5 236.5,449"/>
<polygon points="240,446 243,447 247.5,448.5 248.5,451 246,452.5 242,452.5 241,450"/>
<polygon points="239.5,452 241.5,451.8 241.2,453.5 239.3,453.5" fill="#000000" stroke="none"/>
<polygon points="246.5,463 250,457.5 252,457.5 256,461 259,463 261.5,468 259,471 254,473 251,476 248,474.5 247.5,470"/>
<polygon points="755.37,500.56 758.87,498.81 765,497.06 777.68,496.19 778.12,498.81 775.49,503.18 766.75,504.93 758,508.43 755.81,505.37" fill="#000000" stroke="none"/>
<polygon points="765,498.81 775.49,497.5 775.49,501 765.87,501.43" fill="#b0eeee" stroke="none"/>
<polygon points="758,501.43 760.62,500.56 760.62,502.75 758,502.92" fill="#ffffff" stroke="none"/>
<polygon points="758.87,505.37 760.62,504.93 760.62,506.25 758.87,506.68" fill="#ffffff" stroke="none"/>
<polygon points="782.93,493.56 788.18,492.25 788.62,493.56 783.37,494.87" fill="#000000" stroke="none"/>
<polygon points="788.18,501 792.55,500.12 791.68,502.31 788.62,502.57" fill="#000000" stroke="none"/>
<polygon points="747.06,508 748.81,508 748.81,509.75 747.06,509.75" fill="#000000" stroke="none"/>
<polygon points="780.31,495.31 782.23,495.31 782.23,496.8 780.31,496.8" fill="#000000" stroke="none"/>
<polyline points="160,449.5 166,450 177,450"/>
<polyline points="169.5,440 169,449.5"/>
<polygon points="180,460 185,456 189,455 195,464 197,470 200,478 206,483 207,490 203,492 196,492 193,488 190,481 186,473 183,466" fill="#000000" stroke="none"/>
<polyline points="167,451 173,455 180,463"/>
<polyline points="177,450 180,458"/>
<polygon points="186.5,459 188.5,458.5 189,463 187,463.5" fill="#ffffff" stroke="none"/>
<polygon points="185,467 187.5,467 188,470 185.5,470" fill="#ffffff" stroke="none"/>
<polygon points="190,470 192,470 192,473 190,473" fill="#ffffff" stroke="none"/>
<polygon points="193,476 195,476 195,479 193,479" fill="#ffffff" stroke="none"/>
<polygon points="190,464 192,465 194,469 192,469" fill="#ffffff" stroke="none"/>
<polygon points="197,473 198.5,473 200,478 198.5,478.5" fill="#ffffff" stroke="none"/>
<polygon points="202,484 204,484 205,488 202.5,488" fill="#ffffff" stroke="none"/>
<polygon points="194,483 195.5,483 195.5,485 194,485" fill="#ffffff" stroke="none"/>
<polygon points="188,474 189.5,474.5 189.5,476.5 188,476" fill="#ffffff" stroke="none"/>
<polygon points="195,487 197,487 197,489 195,489" fill="#ffffff" stroke="none"/>
<polygon points="482.5,172.5 495,173.75 498.75,185 496.25,193.75 490,197.5 482.5,196.25" fill="#b0eeee" stroke="#000"/>
<polygon points="467.5,195 483.75,195 490,197.5 495,192.5 502.5,191.25 507.5,196.25 507.5,203.75 497.5,203.75 487.5,203.75 478.75,203.75 472.5,207.5 468.75,203.75" fill="#b0eeee" stroke="#000"/>
<polygon points="472.5,206.25 482.5,203.75 485,208.75 485,213.75 478.75,216.25 473.75,212.5" fill="#00bfff" stroke="#000"/>
<polygon points="495,205 507.5,203.75 510,210 506.25,212.5 503.75,218.75 497.5,217.5 493.75,215 495,210" fill="#1e90ff" stroke="#000"/>
<polygon points="488.75,216.25 496.25,216.25 497.5,220 490,220" fill="#1e90ff" stroke="#000"/>
<polygon points="493.75,225 501.25,225 502.5,231.25 496.25,231.25" fill="#00bfff" stroke="#000"/>
<polygon points="513.75,227.5 520,223.75 525,221.25 526.25,227.5 521.25,230 515,230" fill="#0000ff" stroke="#000"/>
<polygon points="467.5,221.25 472.5,221.25 472.5,227.5 468.75,227.5" fill="#0000ff" stroke="#000"/>
<polygon points="543.75,196.25 550,195 560,193.75 560,202.5 555,207.5 550,207.5 546.25,203.75" fill="#1e90ff" stroke="none"/>
<polyline points="560,202.5 555,207.5 550,207.5 546.25,203.75 543.75,196.25 550,195 560,193.75"/>
<polygon points="535,213.75 540,212.5 541.25,217.5 536.25,218.75" fill="#00bfff" stroke="#000"/>
<polygon points="537.5,227.5 545,227.5 546.25,235 537.5,235" fill="#1e90ff" stroke="none"/>
<polyline points="537.5,235 537.5,227.5 545,227.5 546.25,235"/>
<polyline points="481.25,167.5 485,171.25 495,173.75 497.5,178.75 498.75,185 497.5,190 496.25,193.75 502.5,191.25 506.25,192.5 508.75,197.5 510,203.75 510,210 507.5,212.5 505,218.75 503.75,222.5 507.5,223.75 510,225 515,227.5 522.5,222.5 530,217.5 537.5,212.5 542.5,207.5 546.25,205 545,196.25 550,193.75 560,192.5"/>
<polyline points="481.25,167.5 476.25,170 472.5,172.5 470,180 471.25,186.25 468.75,192.5 467.5,197.5 468.75,203.75 471.25,210 472.5,216.25 470,222.5 467.5,227.5 462.5,232.5 460,233.75"/>
<polyline points="472.5,216.25 485,215 497.5,216.25"/>
<polyline points="472.5,222.5 485,222.5 497.5,221.25 503.75,222.5"/>
<polyline points="478.75,203.75 480,235"/>
<polyline points="487.5,203.75 488.75,235"/>
<polyline points="547.5,207.5 547.5,235"/>
<polyline points="530,217.5 560,212.5"/>
<polygon points="354,329 360,328 360,321 368,321 372,323 380,322 385,320 385,330 390,338 390,342 383,342 370,344 360,342 355,340" fill="#b0eeee" stroke="#000"/>
<polygon points="392,316 408,316 408,324 404,326 403,334 407,333 408,342 400,342 394,338 392,335" fill="#b0eeee" stroke="#000"/>
<polygon points="363,299 372,299 373,306 379,305 380,314 374,315 373,320 370,318 366,317 363,310 361,303" fill="#0000ff" stroke="#000"/>
<polygon points="354,311 357,311 358,314 365,314 365.5,319 360,321 360,328 354,328 350,331 349.5,321 347,319 347.5,317 354,316" fill="#0000ff" stroke="#000"/>
<polygon points="389,302 393,302 394,305 389,305" fill="#00bfff" stroke="#000"/>
<polygon points="389,306 396,307 400,312 400,315 390,314" fill="#00bfff" stroke="#000"/>
<polygon points="349.5,304.5 356.5,304.5 356.5,310 350,310" fill="#ffffff" stroke="#000"/>
<polygon points="351,342 360,344 360,350 351,350" fill="#00bfff" stroke="none"/>
<polyline points="351,350 351,342 360,344 360,350"/>
<polygon points="369,344 385,343 386,350 369,350" fill="#00bfff" stroke="none"/>
<polyline points="369,350 369,344 385,343 386,350"/>
<polygon points="399,290 408,290 408,300 400,299" fill="#b0eeee" stroke="none"/>
<polyline points="408,290 408,300 400,299 399,290"/>
<polyline points="330,312 335,314 343,317 347,319"/>
<polyline points="340,329 342,335 355,340 360,343 370,344 385,342 392,344 400,346 410,347"/>
<polyline points="388,290 388,298.5"/>
<polyline points="388,298.5 389,320 386,320"/>
<polyline points="340,329 341,320 347,319"/>
<polyline points="330,334 340,335"/>
<polygon points="549.25,280 574,280 576.25,284.5 567.25,286.75 562.75,289 551.5,291.25 550.37,286.75" fill="#ffffff" stroke="none"/>
<polyline points="574,280 576.25,284.5 567.25,286.75 562.75,289 551.5,291.25 550.37,286.75 549.25,280"/>
<polygon points="520,282.25 536.87,282.25 542.5,286.75 550.37,287.87 551.5,291.25 542.5,292.37 533.5,291.25 526.75,292.37 520,292.37" fill="#b0eeee" stroke="none"/>
<polyline points="520,282.25 536.87,282.25 542.5,286.75 550.37,287.87 551.5,291.25 542.5,292.37 533.5,291.25 526.75,292.37 520,292.37"/>
<polygon points="536.87,280 549.25,280 548.12,286.75 542.5,286.75 538,284.5" fill="#1e90ff" stroke="none"/>
<polyline points="549.25,280 548.12,286.75 542.5,286.75 538,284.5 536.87,280"/>
<polygon points="581.87,280 592,280 590.87,286.75 585.25,286.75 583,284.5" fill="#0000ff" stroke="none"/>
<polyline points="592,280 590.87,286.75 585.25,286.75 583,284.5 581.87,280"/>
<polygon points="520,293.5 526.75,292.37 542.5,292.37 549.25,291.25 557.12,290.12 562.75,290.12 567.25,292.37 569.5,299.12 567.25,303.62 560.5,305.87 558.25,311.5 556,314.87 550.37,314.87 548.12,318.25 542.5,320.5 536.87,322.75 533.5,321.62 526.75,313.75 520,313.75" fill="#00bfff" stroke="none"/>
<polyline points="520,293.5 526.75,292.37 542.5,292.37 549.25,291.25 557.12,290.12 562.75,290.12 567.25,292.37 569.5,299.12 567.25,303.62 560.5,305.87 558.25,311.5 556,314.87 550.37,314.87 548.12,318.25 542.5,320.5 536.87,322.75 533.5,321.62 526.75,313.75 520,313.75"/>
<polygon points="549.25,291.25 554.87,291.25 554.87,302.5 550.37,302.5" fill="#ffffff" stroke="#000"/>
<polygon points="554.87,293.5 557.12,293.5 557.12,298 554.87,298" fill="#ffffff" stroke="#000"/>
<polygon points="529,300.25 536.87,299.12 538,305.87 542.5,304.75 547,311.5 545.87,316 542.5,314.87 536.87,313.75 535.75,309.25 529,305.87" fill="#1e90ff" stroke="#000"/>
<polygon points="557.12,290.12 562.75,290.12 560.5,301.37 557.12,302.5" fill="#1e90ff" stroke="#000"/>
<polygon points="536.87,291.25 545.87,292.37 547,298 540.25,298" fill="#1e90ff" stroke="#000"/>
<polygon points="567.25,292.37 574,286.75 583,286.75 592,286.75 598.75,291.25 601,300.25 594.25,304.75 592,310.37 586.37,312.62 583,314.87 579.62,317.12 577.37,320.5 576.25,323.87 571.75,326.12 572.87,319.37 574,311.5 578.5,307 578.5,301.37 571.75,299.12 569.5,299.12" fill="#ffffff" stroke="#000"/>
<polygon points="560.5,305.87 567.25,303.62 571.75,299.12 578.5,301.37 578.5,307 574,311.5 572.87,319.37 567.25,321.62 562.75,317.12 559.37,312.62" fill="#b0eeee" stroke="#000"/>
<polygon points="571.75,300.25 575.12,300.25 575.12,305.87 571.75,305.87" fill="#ffffff" stroke="#000"/>
<polygon points="559.37,308.12 565,307 566.12,311.5 560.5,312.62" fill="#ffffff" stroke="#000"/>
<polygon points="520,314.87 526.75,313.75 531.25,313.75 534.62,318.25 533.5,321.62 526.75,322.75 524.5,326.12 522.25,322.75 520,322.75" fill="#0000ff" stroke="none"/>
<polyline points="520,314.87 526.75,313.75 531.25,313.75 534.62,318.25 533.5,321.62 526.75,322.75 524.5,326.12 522.25,322.75 520,322.75"/>
<polygon points="533.5,320.5 542.5,320.5 548.12,319.37 549.25,325 545.87,329.5 540.25,332.87 534.62,329.5" fill="#00bfff" stroke="#000"/>
<polygon points="552.62,320.5 557.12,319.37 559.37,325 557.12,327.25 553.75,325" fill="#00bfff" stroke="#000"/>
<polygon points="526.75,331.75 532.37,331.75 538,336.25 536.87,343 531.25,343 526.75,337.37" fill="#1e90ff" stroke="#000"/>
<polygon points="535.75,311.5 544.75,313.75 545.87,318.25 540.25,319.37 536.87,317.12" fill="#1e90ff" stroke="#000"/>
<polygon points="549.25,325 553.75,327.25 558.25,328.37 565,331.75 563.87,338.5 560.5,341.87 557.12,345.25 553.75,343 549.25,336.25 542.5,334 545.87,329.5" fill="#ffffff" stroke="#000"/>
<polygon points="549.25,336.25 553.75,334 558.25,335.12 562.75,337.37 557.12,343 553.75,347.05 549.25,343" fill="#0000ff" stroke="#000"/>
<polyline points="592,280 594.25,284.5 598.75,289 601,293.5 601,300.25 594.25,304.75 592,310.37 586.37,312.62 583,314.87 579.62,317.12 577.37,320.5 576.25,323.87 571.75,326.12 567.25,328.37 565,332.87 563.87,338.5 560.5,341.87 557.12,345.25 553.75,349.75"/>
<polyline points="520,291.81 542.5,292.37 569.5,286.75 598.75,286.19"/>
<polyline points="581.87,291.25 587.5,295.75 589.75,302.5 585.25,307"/>
<polyline points="580.75,298 587.5,300.25"/>
<polyline points="578.5,307 583,309.25 587.5,308.12"/>
<polyline points="567.25,328.37 562.75,325 558.25,328.37"/>
<polyline points="536.87,322.75 535.75,329.5 531.25,331.75"/>
<polyline points="520,327.25 526.75,329.5 526.75,336.25 520,338.5"/>
<polygon points="455,290 507,290 505,296 497,298 485,298 483,294 472,295 465,293 459,296 455,296" fill="#ffffff" stroke="none"/>
<polyline points="507,290 505,296 497,298 485,298 483,294 472,295 465,293 459,296 455,296"/>
<polygon points="455,300 465,300 466,310 463,312 462,323 455,323" fill="#1e90ff" stroke="none"/>
<polyline points="455,300 465,300 466,310 463,312 462,323 455,323"/>
<polygon points="465,302 475,299 485,298 485,308 488,310 488,313 480,314 475,315 468,316 465,311" fill="#00bfff" stroke="#000"/>
<polygon points="485,298 497,298 498,300 496,303 499,307 497,310 489,310 485,308" fill="#00bfff" stroke="#000"/>
<polygon points="496,301 503,297 511,300 509,305 507,309 499,308 498,304" fill="#0000ff" stroke="#000"/>
<polygon points="489,310 497,310 506,309 506,314 499,316 493,315 490,314" fill="#ffffff" stroke="#000"/>
<polygon points="505,309 515,306 520,303 523,307 524,313 519,315 511,316 507,315" fill="#00bfff" stroke="#000"/>
<polygon points="516,303 523,302 524,312 519,310" fill="#b0eeee" stroke="#000"/>
<polygon points="520,315 527,313 533,316 535,320 531,323 525,324 521,321" fill="#0000ff" stroke="#000"/>
<polygon points="462,313 475,315 483,313 488,314 489,318 483,320 475,321 468,322 462,322" fill="#b0eeee" stroke="#000"/>
<polygon points="473,323 481,322 481,327 474,326" fill="#1e90ff" stroke="#000"/>
<polygon points="482,322 487,321 490,324 492,332 489,334 485,333 483,329" fill="#b0eeee" stroke="#000"/>
<polygon points="455,323 462,323 463,328 462,350 455,350" fill="#00bfff" stroke="none"/>
<polyline points="455,323 462,323 463,328 462,350"/>
<polygon points="463,329 469,328 478,331 480,333 475,336 470,336 467,340 463,339" fill="#b0eeee" stroke="#000"/>
<polygon points="469,336 475,336 481,333 484,336 484,342 480,346 475,350 469,350 468,342" fill="#00bfff" stroke="none"/>
<polyline points="469,350 468,342 469,336 475,336 481,333 484,336 484,342 480,346 475,350"/>
<polygon points="484,337 489,335 492,335 493,342 495,350 483,350" fill="#b0eeee" stroke="none"/>
<polyline points="483,350 484,337 489,335 492,335 493,342 495,350"/>
<polygon points="493,315 499,316 507,315 511,316 519,315 520,320 517,332 511,329 507,325 497,327 492,332 490,324 489,318" fill="#ffffff" stroke="#000"/>
<polygon points="497,327 507,325 511,329 517,332 515,340 511,343 505,344 499,343 497,336" fill="#00bfff" stroke="#000"/>
<polygon points="511,344 517,344 517,350 511,350" fill="#0000ff" stroke="none"/>
<polyline points="511,350 511,344 517,344 517,350"/>
<polygon points="527,332 533,332 535,336 535,346 531,344 527,338" fill="#1e90ff" stroke="none"/>
<polyline points="535,346 531,344 527,338 527,332 533,332 535,336"/>
<polyline points="455,299 465,300 485,298"/>
<polyline points="501,316 502,322 499,326"/>
<polyline points="515,316 517,322 521,326"/>
<polyline points="455,323 462,323 468,322"/>
<polyline points="493,342 497,343"/>
<polyline points="525,324 527,332"/>
<polygon points="461.25,345 473.75,345 475,352.5 482.5,352.5 497.5,352.5 501.25,348.75 510,348.75 512.5,351.25 518.75,351.25 520,345 555,345 555,370 545,373.75 535,375 527.5,375 525,370 517.5,373.75 510,376.25 503.75,376.25 501.25,370 500,362.5 491.25,377.5 481.25,377.5 472.5,378.75 473.75,386.25 467.5,388.12 461.25,387.5 461.25,352.5" fill="#ffffff" stroke="none"/>
<polygon points="455,352.5 461.25,352.5 461.25,382.5 455,382.5" fill="#b0eeee" stroke="none"/>
<polyline points="455,352.5 461.25,352.5 461.25,382.5 455,382.5"/>
<polygon points="455,345 461.25,345 461.25,352.5 455,352.5" fill="#00bfff" stroke="none"/>
<polyline points="461.25,345 461.25,352.5 455,352.5"/>
<polygon points="473.75,345 482.5,345 481.25,352.5 475,352.5" fill="#00bfff" stroke="none"/>
<polyline points="482.5,345 481.25,352.5 475,352.5 473.75,345"/>
<polygon points="482.5,345 497.5,345 496.25,352.5 482.5,352.5" fill="#b0eeee" stroke="none"/>
<polyline points="497.5,345 496.25,352.5 482.5,352.5 482.5,345"/>
<polygon points="501.25,345 508.75,345 508.75,348.75 501.25,348.75" fill="#00bfff" stroke="none"/>
<polyline points="508.75,345 508.75,348.75 501.25,348.75 501.25,345"/>
<polygon points="510,345 518.75,345 518.75,351.25 512.5,351.25" fill="#0000ff" stroke="none"/>
<polyline points="518.75,345 518.75,351.25 512.5,351.25 510,345"/>
<polygon points="500,362.5 507.5,361.25 517.5,361.25 522.5,358.75 532.5,358.75 540,361.25 542.5,370 540,375 535,377.5 527.5,375 525,370 517.5,373.75 510,376.25 503.75,376.25 501.25,370" fill="#b0eeee" stroke="#000"/>
<polygon points="505,362.5 515,362.5 516.25,368.75 507.5,370" fill="#ffffff" stroke="#000"/>
<polygon points="472.5,378.75 481.25,377.5 481.25,386.25 476.25,386.25" fill="#1e90ff" stroke="#000"/>
<polygon points="491.25,377.5 500,376.25 505,378.75 507.5,388.75 505,392.5 500,392.5 496.25,385 492.5,382.5" fill="#b0eeee" stroke="#000"/>
<polygon points="517.5,380 525,378.75 532.5,378.75 535,382.5 530,387.5 530,393.75 532.5,398.75 527.5,397.5 522.5,392.5 517.5,386.25" fill="#b0eeee" stroke="#000"/>
<polygon points="535,375 542.5,373.75 545,378.75 547.5,387.5 542.5,388.75 537.5,385 535,380" fill="#1e90ff" stroke="#000"/>
<polygon points="535,390 542.5,388.75 545,392.5 542.5,397.5 536.25,397.5" fill="#b0eeee" stroke="#000"/>
<polygon points="455,382.5 461.25,382.5 461.25,387.5 455,387.5" fill="#0000ff" stroke="none"/>
<polyline points="455,382.5 461.25,382.5 461.25,387.5 455,387.5"/>
<polygon points="542.5,397.5 550,397.5 555,402.5 555,412.5 547.5,412.5 542.5,407.5" fill="#00bfff" stroke="none"/>
<polyline points="555,412.5 547.5,412.5 542.5,407.5 542.5,397.5 550,397.5 555,402.5"/>
<polygon points="535,403.75 540,403.75 542.5,410 540,417.5 535,415" fill="#0000ff" stroke="#000"/>
<polygon points="542.5,407.5 552.5,411.25 555,415 553.75,420 545,420 542.5,415" fill="#00bfff" stroke="none"/>
<polyline points="545,420 542.5,415 542.5,407.5 552.5,411.25 555,415 553.75,420"/>
<polyline points="455,387.5 467.5,388.12 477.5,386.25 490,385 497.5,390 500,393.75 506.25,392.5 510,388.75 516.25,386.25 522.5,391.25 527.5,395 532.5,400 535,405 533.75,412.5 536.25,420"/>
<polyline points="545,373.75 547.5,382.5 552.5,392.5 555,397.5"/>
<polyline points="480,352.5 480,376.25 481.25,377.5"/>
<polyline points="467.5,348.75 470,376.25 467.5,388.12"/>
<polyline points="492.5,352.5 497.5,361.25 500,362.5"/>
<polyline points="525,345 527.5,358.75"/>
<polyline points="540,361.25 545,355 555,352.5"/>
<polygon points="520,248 565,245 562,260 565,266 559,272 538,272 520,263" fill="#ffffff" stroke="none"/>
<polyline points="520,248 565,245 562,260 565,266 559,272 538,272 520,263"/>
<polygon points="529,219.5 547,215 559,209 572.5,207.5 586,212 583,219.5 577,225.5 569.5,233 562,240.5 550,243.5 538,245 535,236 529,230" fill="#b0eeee" stroke="#000"/>
<polygon points="572.5,200 604,200 601,204.5 589,209 580,207.5" fill="#00bfff" stroke="none"/>
<polyline points="604,200 601,204.5 589,209 580,207.5 572.5,200"/>
<polygon points="545.5,200 554.5,200 554.5,206 547,206" fill="#1e90ff" stroke="none"/>
<polyline points="554.5,200 554.5,206 547,206 545.5,200"/>
<polygon points="577,213.5 583,213.5 584.5,221 578.5,221" fill="#00bfff" stroke="#000"/>
<polygon points="589,206 604,203 613,200 627.99,200 630.99,204.5 619,212 604,222.5 601,236 595,237.5 589,233 584.5,227 589,218" fill="#0000ff" stroke="none"/>
<polyline points="627.99,200 630.99,204.5 619,212 604,222.5 601,236 595,237.5 589,233 584.5,227 589,218 589,206 604,203 613,200"/>
<polygon points="602.5,213.5 624.99,206 630.99,207.5 616,215 602.5,224" fill="#0000ff" stroke="#000"/>
<polygon points="565,230 577,227 584.5,230 589,237.5 580,240.5 569.5,239" fill="#1e90ff" stroke="#000"/>
<polygon points="575.5,231.5 584.5,230 586,237.5 580,239" fill="#0000ff" stroke="#000"/>
<polygon points="586,227 595,227 601,236 598,242 590.5,243.5 586,237.5" fill="#1e90ff" stroke="#000"/>
<polygon points="562,251 568,243.5 577,240.5 586,242 584.5,249.5 583,257 577,260 571,263 565,260" fill="#0000ff" stroke="#000"/>
<polygon points="535,228.5 545.5,228.5 550,239 545.5,245 536.5,243.5" fill="#1e90ff" stroke="#000"/>
<polygon points="520,225.5 526,222.5 532,230 532,249.5 526,252.5 520,248" fill="#00bfff" stroke="none"/>
<polyline points="520,225.5 526,222.5 532,230 532,249.5 526,252.5 520,248"/>
<polygon points="520,221 526,221 526,227 520,227" fill="#0000ff" stroke="none"/>
<polyline points="520,221 526,221 526,227 520,227"/>
<polygon points="565,269 571,263 577,266 580,273.5 577,284 569.5,284 565,276.5" fill="#1e90ff" stroke="#000"/>
<polygon points="580,270.5 586,270.5 592,281 589,287 583,285.5" fill="#0000ff" stroke="#000"/>
<polygon points="589,251 595,249.5 596.5,260 593.5,266 589,263" fill="#b0eeee" stroke="#000"/>
<polygon points="550,263 557.5,263 557.5,269 551.5,269" fill="#00bfff" stroke="#000"/>
<polygon points="538,275 550,273.5 551.5,281 542.5,284" fill="#1e90ff" stroke="#000"/>
<polygon points="550,272 559,273.5 559,281 551.5,281" fill="#1e90ff" stroke="#000"/>
<polygon points="520,284 535,284 536.5,290 520,290" fill="#b0eeee" stroke="none"/>
<polyline points="520,284 535,284 536.5,290"/>
<polygon points="565,219.5 572.5,218 574,222.5 566.5,224" fill="#ffffff" stroke="#000"/>
<polygon points="550,231.5 556,230 557.5,236 551.5,237.5" fill="#ffffff" stroke="#000"/>
<polygon points="568,263 574,260 575.5,266 569.5,267.5" fill="#ffffff" stroke="#000"/>
<polygon points="526,272 535,270.5 536.5,278 527.5,278" fill="#ffffff" stroke="#000"/>
<polyline points="601,222.5 604,225.5 602.5,236 599.5,239 598,242 596.5,249.5 598,257 595,263 593.5,267.5 592,275 592,281 593.5,285.5 596.5,290"/>
<polyline points="565,245 577,245 583,249.5 592,263 592,272"/>
<polyline points="580,245 586,257 589,270.5"/>
<polyline points="520,260 532,260 544,257 553,263 565,266"/>
<polyline points="529,266 535,275 532,284"/>
<polyline points="544,257 545.5,272"/>
<polyline points="553,245 556,257"/>
<polygon points="436,245 500,245 500,305 420,305 420,257" fill="#ffffff" stroke="none"/>
<polygon points="420,245 436,245 437,253 436,260 430,265 422,268 420,268" fill="#00bfff" stroke="none"/>
<polyline points="436,245 437,253 436,260 430,265 422,268 420,268"/>
<polygon points="422,268 429,267 431,264 436,262 440,265 441,270 445,273 446,275 441,278 437,280 434,278 433,282 426,281 423,277" fill="#1e90ff" stroke="#000"/>
<polygon points="436,253 443,251 443,257 452,257 453,261 445,263 441,265 436,260" fill="#00bfff" stroke="#000"/>
<polygon points="436,245 444,245 444,249 440,250 437,248" fill="#b0eeee" stroke="none"/>
<polyline points="444,245 444,249 440,250 437,248 436,245"/>
<polygon points="462,245 490,245 490,255 485,256 480,258 476,256 470,254 463,256 462,250" fill="#00bfff" stroke="none"/>
<polyline points="490,245 490,255 485,256 480,258 476,256 470,254 463,256 462,250 462,245"/>
<polygon points="468,255 476,255 480,258 485,256 490,255 490,263 484,265 480,267 476,266 472,260 468,259" fill="#b0eeee" stroke="#000"/>
<polygon points="463,265 476,266 478,268 477,275 474,278 470,278 466,276 462,275" fill="#b0eeee" stroke="#000"/>
<polygon points="477,268 484,267 486,271 490,269 492,273 490,278 485,278 482,275 478,275" fill="#00bfff" stroke="#000"/>
<polygon points="460,277 468,277 470,279 467,283 462,283" fill="#00bfff" stroke="#000"/>
<polygon points="490,245 500,245 500,271 494,271 492,265 490,261" fill="#0000ff" stroke="none"/>
<polyline points="500,271 494,271 492,265 490,261 490,245"/>
<polygon points="494,271 500,273 500,279 496,279 494,275" fill="#1e90ff" stroke="none"/>
<polyline points="500,279 496,279 494,275 494,271 500,273"/>
<polygon points="420,281 434,281 440,285 438,293 446,297 448,305 420,305" fill="#b0eeee" stroke="none"/>
<polyline points="420,281 434,281 440,285 438,293 446,297 448,305"/>
<polygon points="462,299 484,298 486,305 462,305" fill="#00bfff" stroke="none"/>
<polyline points="462,305 462,299 484,298 486,305"/>
<polygon points="446,303 454,301 462,301 462,305 446,305" fill="#1e90ff" stroke="none"/>
<polyline points="446,305 446,303 454,301 462,301 462,305"/>
<polygon points="492,297 500,297 500,305 492,305" fill="#00bfff" stroke="none"/>
<polyline points="492,305 492,297 500,297"/>
<polygon points="446,245 450,245 450,249 446,249" fill="#b0eeee" stroke="none"/>
<polyline points="450,245 450,249 446,249 446,245"/>
<polyline points="445,255 462,256 462,275"/>
<polyline points="454,274 442,277"/>
<polyline points="452,257 453,245"/>
<polyline points="458,245 458,256"/>
<polyline points="440,285 450,283 460,283"/>
<polyline points="450,283 452,290 448,297"/>
<polyline points="460,283 462,292 458,299"/>
<polyline points="470,279 474,287 472,298"/>
<polyline points="480,278 484,287 482,298"/>
<polyline points="490,278 492,287 492,297"/>
<polyline points="462,292 476,291 500,289"/>
<polyline points="436,287 442,290 452,290"/>
<polygon points="570,190 576,190 582,194.5 581.25,197.5 574.5,198.25 570,196.75" fill="#0000ff" stroke="none"/>
<polyline points="576,190 582,194.5 581.25,197.5 574.5,198.25 570,196.75"/>
<polygon points="576,190 594.01,190 594.76,193.75 589.5,194.5 582.75,194.5 577.5,192.25" fill="#ffffff" stroke="none"/>
<polyline points="594.01,190 594.76,193.75 589.5,194.5 582.75,194.5 577.5,192.25 576,190"/>
<polygon points="570,198.25 574.5,198.25 581.25,197.5 585,195.25 589.5,194.5 594.76,193.75 594.76,190 602.26,190 602.26,201.25 598.51,204.25 594.76,203.5 590.26,205.75 592.51,209.5 594.01,212.51 589.5,212.51 585,209.5 581.25,205 574.5,205 570,202" fill="#00bfff" stroke="none"/>
<polyline points="602.26,190 602.26,201.25 598.51,204.25 594.76,203.5 590.26,205.75 592.51,209.5 594.01,212.51 589.5,212.51 585,209.5 581.25,205 574.5,205 570,202"/>
<polyline points="570,198.25 574.5,198.25 581.25,197.5 585,195.25 589.5,194.5 594.76,193.75 594.76,190"/>
<polygon points="590.26,204.25 597.76,203.5 598.51,208 594.01,208.75" fill="#ffffff" stroke="#000"/>
<polygon points="572.25,205 581.25,204.25 582.75,208 574.5,208.75" fill="#1e90ff" stroke="#000"/>
<polygon points="570,209.5 585,209.5 587.25,213.26 585,216.26 583.5,214.01 577.5,213.26 576,217.01 577.5,223.01 581.25,225.26 577.5,227.51 573,225.26 570,225.26" fill="#b0eeee" stroke="none"/>
<polyline points="570,209.5 585,209.5 587.25,213.26 585,216.26 583.5,214.01 577.5,213.26 576,217.01 577.5,223.01 581.25,225.26 577.5,227.51 573,225.26 570,225.26"/>
<polygon points="577.5,213.26 583.5,214.01 584.25,220.01 579.75,221.51 577.5,218.51" fill="#00bfff" stroke="#000"/>
<polygon points="587.25,213.26 594.01,212.51 598.51,208 602.26,201.25 603.01,205 602.26,212.51 602.26,225.26 601.51,235.01 592.51,235.01 592.51,230.51 588.75,227.51 585,225.26 582,223.76 585,221.51 586.5,218.51" fill="#0000ff" stroke="none"/>
<polyline points="592.51,235.01 592.51,230.51 588.75,227.51 585,225.26 582,223.76 585,221.51 586.5,218.51 587.25,213.26 594.01,212.51 598.51,208 602.26,201.25 603.01,205 602.26,212.51 602.26,225.26 601.51,235.01"/>
<polygon points="584.25,218.51 588,217.76 588.75,221.51 585.75,221.51" fill="#ffffff" stroke="#000"/>
<polygon points="602.26,190 615.01,190 615.01,194.5 612.01,194.5 606.76,194.5 607.51,200.5 609.01,201.25 608.26,206.5 612.01,209.5 606.01,211.01 603.01,205" fill="#ffffff" stroke="none"/>
<polyline points="615.01,190 615.01,194.5 612.01,194.5 606.76,194.5 607.51,200.5 609.01,201.25 608.26,206.5 612.01,209.5 606.01,211.01 603.01,205 602.26,190"/>
<polygon points="606.76,194.5 612.01,194.5 614.26,197.5 613.51,200.5 607.51,200.5" fill="#1e90ff" stroke="#000"/>
<polygon points="609.01,201.25 615.01,199.75 618.76,197.5 622.51,194.5 625.51,197.5 628.51,202 627.01,206.5 622.51,209.5 616.51,211.01 612.01,209.5 608.26,206.5" fill="#0000ff" stroke="#000"/>
<polygon points="602.26,223.01 609.01,217.01 615.01,214.01 618.01,211.01 622.51,210.26 616.51,215.51 610.51,220.01 604.51,223.76" fill="#0000ff" stroke="#000"/>
<polygon points="607.51,215.51 615.01,211.76 616.51,212.51 610.51,216.26 606.76,217.01" fill="#ffffff" stroke="#000"/>
<polygon points="615.01,190 626.26,190 627.01,194.5 622.51,194.5 618.01,193" fill="#0000ff" stroke="none"/>
<polyline points="626.26,190 627.01,194.5 622.51,194.5 618.01,193 615.01,190"/>
<polygon points="579,226.01 589.5,227.51 592.51,230.51 592.51,235.01 581.25,235.01 577.5,232.01" fill="#1e90ff" stroke="none"/>
<polyline points="581.25,235.01 577.5,232.01 579,226.01 589.5,227.51 592.51,230.51 592.51,235.01"/>
<polyline points="603.01,235.01 603.01,223.76 610.51,220.01 618.01,214.76 624.01,210.26 628.51,205 630.02,203.5"/>
<polyline points="603.01,191.5 604.51,197.5 603.76,202 605.26,206.5 604.51,211.01"/>
<polyline points="606.01,193 609.01,191.5 612.01,193"/>
<polyline points="605.26,208 609.01,208 609.01,211.76"/>
<polygon points="560,225 569.75,225 566,229.5 563,234 560,236.25" fill="#b0eeee" stroke="none"/>
<polyline points="569.75,225 566,229.5 563,234 560,236.25"/>
<polygon points="566,232.5 573.5,229.5 575,231 577.25,235.5 572,237.75 569,237" fill="#1e90ff" stroke="#000"/>
<polygon points="572,235.5 575,234.75 578.75,239.25 575,240.75 572.75,239.25" fill="#00bfff" stroke="#000"/>
<polygon points="575,230.25 579.5,228 584.76,226.5 589.26,225 602.01,225 603.51,234 602.01,238.5 597.51,237.75 593.01,237.75 589.26,240 584.76,240 582.51,236.25 578.75,233.25" fill="#0000ff" stroke="none"/>
<polyline points="602.01,225 603.51,234 602.01,238.5 597.51,237.75 593.01,237.75 589.26,240 584.76,240 582.51,236.25 578.75,233.25 575,230.25 579.5,228 584.76,226.5 589.26,225"/>
<polygon points="580.26,229.5 584.76,228 586.26,232.5 582.51,234.75" fill="#1e90ff" stroke="#000"/>
<polygon points="584.76,232.5 590.01,228 593.01,229.5 592.26,233.25 587.76,237 585.51,236.25" fill="#1e90ff" stroke="#000"/>
<polygon points="590.01,236.25 594.51,232.5 599.76,234.75 599.01,237.75 593.01,238.5" fill="#1e90ff" stroke="#000"/>
<polygon points="563,237 566,237 566.75,242.25 563.75,243" fill="#00bfff" stroke="#000"/>
<polygon points="567.5,238.5 572,237.75 572,241.5 568.25,241.5" fill="#ffffff" stroke="#000"/>
<polygon points="581.01,243 590.01,242.25 591.51,249.76 590.01,258.76 593.01,262.51 592.26,270.01 582.51,270.01 578.75,262.51 581.01,258.01 579.5,252.01 582.51,246.01" fill="#ffffff" stroke="none"/>
<polyline points="582.51,270.01 578.75,262.51 581.01,258.01 579.5,252.01 582.51,246.01 581.01,243 590.01,242.25 591.51,249.76 590.01,258.76 593.01,262.51 592.26,270.01"/>
<polygon points="567.5,242.25 575,240.75 581.01,240 584.01,242.25 582.51,246.01 579.5,249.76 578.75,255.01 581.76,258.01 579.5,260.26 575,258.01 572,256.51 571.25,252.01 568.25,249.01" fill="#0000ff" stroke="#000"/>
<polygon points="562.25,250.51 568.25,249.01 572,252.01 572.75,256.51 575,258.01 573.5,263.26 569.75,264.76 566,261.01 562.25,257.26" fill="#0000ff" stroke="#000"/>
<polygon points="590.01,250.51 595.26,250.51 596.01,255.01 595.26,261.01 590.76,261.01 589.26,256.51" fill="#b0eeee" stroke="#000"/>
<polygon points="591.51,238.5 599.01,238.5 601.26,241.5 597.51,247.51 595.26,247.51 593.01,244.5" fill="#ffffff" stroke="#000"/>
<polygon points="571.25,262.51 575,263.26 576.5,270.01 570.5,270.01" fill="#1e90ff" stroke="none"/>
<polyline points="570.5,270.01 571.25,262.51 575,263.26 576.5,270.01"/>
<polygon points="582.51,244.5 584.76,243.75 585.51,247.51 584.01,253.51 584.76,258.76 582.51,260.26 581.76,255.01 582.51,249.76" fill="#000000" stroke="none"/>
<polygon points="587.01,247.51 588.51,247.51 590.01,252.01 589.26,256.51 587.76,255.01" fill="#000000" stroke="none"/>
<polygon points="584.76,262.51 587.01,261.76 590.01,267.01 589.26,270.01 587.01,270.01" fill="#000000" stroke="none"/>
<polyline points="603.51,225 603.51,234.75 601.26,240.75 599.01,244.5 597.51,248.26 596.76,253.51 597.51,257.26 596.01,262.51 594.51,267.01 593.76,270.01"/>
<polygon points="400.25,150 412.5,150 412.5,161.37 408.12,165.75 407.25,167.5 400.25,167.5" fill="#00bfff" stroke="none"/>
<polyline points="412.5,150 412.5,161.37 408.12,165.75 407.25,167.5 400.25,167.5 400.25,150"/>
<polygon points="395,167.5 407.25,167.5 403.75,172.75 403.75,178 396.75,178 396.75,171 395,171" fill="#ffffff" stroke="none"/>
<polyline points="395,167.5 407.25,167.5 403.75,172.75 403.75,178 396.75,178 396.75,171 395,171"/>
<polygon points="395,171 396.75,171 396.75,178 403.75,178 404.62,183.25 409.87,185 410.75,192.87 405.5,193.74 402,191.99 395,191.12" fill="#0000ff" stroke="none"/>
<polyline points="395,171 396.75,171 396.75,178 403.75,178 404.62,183.25 409.87,185 410.75,192.87 405.5,193.74 402,191.99 395,191.12"/>
<polygon points="408.12,165.75 412.5,162.25 420.37,160.5 422.12,164 428.25,164 430.87,167.5 430,183.25 421.25,184.12 416,181.5 416,178 405.5,178.87 403.75,178 403.75,172.75" fill="#00bfff" stroke="#000"/>
<polygon points="404.62,178.87 416,178 416,181.5 421.25,184.12 429.12,185 429.12,191.99 433.5,193.74 433.5,201.97 413.37,201.97 410.75,192.87 409.87,185 404.62,183.25" fill="#00bfff" stroke="none"/>
<polyline points="413.37,201.97 410.75,192.87 409.87,185 404.62,183.25 404.62,178.87 416,178 416,181.5 421.25,184.12 429.12,185 429.12,191.99 433.5,193.74 433.5,201.97"/>
<polygon points="415.12,183.25 422.12,182.37 422.12,191.99 416,191.99" fill="#ffffff" stroke="#000"/>
<polygon points="428.25,164 436.12,160.5 442.24,155.25 447.49,150.87 450.99,150 445.74,157 444.87,160.5 454.49,160.5 459.74,163.12 464.99,164 464.99,171 461.49,172.75 457.99,178 456.24,180.62 453.62,185 450.99,188.5 447.49,185 444.87,179.75 438.74,183.25 430.87,183.25 430.87,167.5" fill="#b0eeee" stroke="none"/>
<polyline points="464.99,171 461.49,172.75 457.99,178 456.24,180.62 453.62,185 450.99,188.5 447.49,185 444.87,179.75 438.74,183.25 430.87,183.25 430.87,167.5 428.25,164 436.12,160.5 442.24,155.25 447.49,150.87 450.99,150 445.74,157 444.87,160.5 454.49,160.5 459.74,163.12 464.99,164"/>
<polygon points="444.87,179.75 449.24,181.5 452.74,186.75 450.99,190.24 447.49,189.37 445.74,185" fill="#00bfff" stroke="#000"/>
<polygon points="429.12,184.12 438.74,184.12 438.74,190.24 429.12,190.24" fill="#00bfff" stroke="#000"/>
<polygon points="429.12,191.12 436.99,190.24 437.87,195.49 433.5,195.49" fill="#b0eeee" stroke="#000"/>
<polygon points="438.74,189.37 443.99,189.37 443.99,201.97 438.74,201.97" fill="#00bfff" stroke="none"/>
<polyline points="438.74,201.97 438.74,189.37 443.99,189.37 443.99,201.97"/>
<polygon points="444.87,191.12 449.24,190.24 450.99,197.24 448.37,198.99 445.74,195.49" fill="#1e90ff" stroke="#000"/>
<polygon points="443.99,195.49 448.37,195.49 448.37,199.87 443.99,199.87" fill="#ffffff" stroke="#000"/>
<polygon points="450.99,188.5 456.24,187.62 457.99,191.99 456.24,196.37 451.87,197.24" fill="#00bfff" stroke="#000"/>
<polygon points="395,193.74 403.75,192.87 405.5,201.97 395,201.97" fill="#00bfff" stroke="none"/>
<polyline points="395,193.74 403.75,192.87 405.5,201.97"/>
<polygon points="402,197.24 408.12,195.49 410.75,201.97 402,201.97" fill="#ffffff" stroke="none"/>
<polyline points="402,201.97 402,197.24 408.12,195.49 410.75,201.97"/>
<polyline points="430,167.5 440.49,170.12 449.24,171.87 456.24,180.62"/>
<polyline points="407.25,165.75 423,150"/>
<polyline points="450.99,188.5 457.99,178.87 464.99,171.87"/>
<polygon points="395,195 430,195 430,221.25 421.25,223.87 400.25,224.75 395,224.75" fill="#00bfff" stroke="none"/>
<polygon points="402,198.5 409,196.75 412.5,200.25 416,203.75 414.25,206.37 409,206.37 402,202" fill="#ffffff" stroke="#000"/>
<polygon points="419.5,199.37 423,199.37 423,202.87 419.5,202.87" fill="#ffffff" stroke="#000"/>
<polygon points="416,202.87 419.5,202.87 419.5,206.37 416,206.37" fill="#ffffff" stroke="#000"/>
<polygon points="402.87,220.37 407.25,216 411.62,216 411.62,221.25 416,222.12 416.87,223.87 403.75,224.75" fill="#1e90ff" stroke="#000"/>
<polygon points="395,208.12 398.5,208.12 398.5,224.75 395,224.75" fill="#b0eeee" stroke="none"/>
<polyline points="395,208.12 398.5,208.12 398.5,224.75 395,224.75"/>
<polygon points="421.25,205.5 428.25,203.75 436.12,204.62 436.99,208.12 430,212.5 431.75,216 435.24,218.62 430,220.37 424.75,219.5 422.12,214.25" fill="#00bfff" stroke="#000"/>
<polygon points="428.25,210.75 434.37,207.25 438.74,204.62 442.24,206.37 442.24,215.12 439.62,218.62 435.24,218.62 431.75,216" fill="#1e90ff" stroke="#000"/>
<polygon points="436.99,203.75 443.99,203.75 447.49,207.25 448.37,217.75 443.99,217.75 442.24,215.12 442.24,206.37" fill="#00bfff" stroke="#000"/>
<polygon points="449.24,205.5 454.49,204.62 455.37,214.25 451.87,216 449.24,212.5" fill="#1e90ff" stroke="#000"/>
<polygon points="430,195 436.99,195 436.99,202 431.75,202" fill="#b0eeee" stroke="none"/>
<polyline points="436.99,195 436.99,202 431.75,202 430,195"/>
<polygon points="438.74,216 443.99,216 447.49,218.62 445.74,223.87 440.49,223" fill="#1e90ff" stroke="#000"/>
<polygon points="400.25,224.75 410.75,223.87 421.25,223 424.75,223.87 426.5,230 424.75,238.74 423.87,246.97 402,246.97 400.25,236.99" fill="#0000ff" stroke="none"/>
<polyline points="402,246.97 400.25,236.99 400.25,224.75 410.75,223.87 421.25,223 424.75,223.87 426.5,230 424.75,238.74 423.87,246.97"/>
<polygon points="415.12,230 419.5,230 419.5,238.74 415.12,238.74" fill="#ffffff" stroke="#000"/>
<polygon points="424.75,223.87 430,223.87 431.75,228.25 435.24,231.75 436.12,237.87 430,238.74 424.75,238.74" fill="#0000ff" stroke="#000"/>
<polygon points="429.12,220.37 436.99,220.37 443.99,223.87 447.49,230 449.24,236.12 445.74,238.74 440.49,238.74 436.99,236.99 435.24,231.75 431.75,228.25" fill="#b0eeee" stroke="#000"/>
<polygon points="445.74,219.5 456.24,217.75 459.74,225.62 459.74,237.87 456.24,238.74 450.99,236.12 447.49,230" fill="#0000ff" stroke="#000"/>
<polygon points="461.49,230 464.99,230 464.99,246.97 461.49,246.97" fill="#0000ff" stroke="none"/>
<polyline points="461.49,246.97 461.49,230 464.99,230"/>
<polygon points="447.49,238.74 452.74,238.74 452.74,243.99 447.49,243.99" fill="#00bfff" stroke="#000"/>
<polygon points="454.49,236.99 459.74,237.87 460.62,243.99 455.37,243.99" fill="#ffffff" stroke="#000"/>
<polygon points="436.12,238.74 443.99,238.74 445.74,245.74 438.74,246.97 436.12,246.97" fill="#b0eeee" stroke="none"/>
<polyline points="436.12,246.97 436.12,238.74 443.99,238.74 445.74,245.74 438.74,246.97"/>
<polygon points="423.87,238.74 435.24,238.74 436.12,246.97 424.75,246.97" fill="#00bfff" stroke="none"/>
<polyline points="424.75,246.97 423.87,238.74 435.24,238.74 436.12,246.97"/>
<polygon points="395,230 400.25,230 400.25,238.74 395,238.74" fill="#1e90ff" stroke="none"/>
<polyline points="395,230 400.25,230 400.25,238.74 395,238.74"/>
<polygon points="395,238.74 402,238.74 402,246.97 395,246.97" fill="#00bfff" stroke="none"/>
<polyline points="395,238.74 402,238.74 402,246.97"/>
<polygon points="395,225.62 400.25,225.62 400.25,230 395,230" fill="#ffffff" stroke="none"/>
<polyline points="395,225.62 400.25,225.62 400.25,230 395,230"/>
<polyline points="456.24,195 456.24,212.5 459.74,225.62 464.99,230"/>
<polyline points="421.25,223.87 423,212.5 421.25,205.5"/>
<polygon points="390,335 429.01,335 428.26,341 427.51,347 429.01,353 430.51,359.01 429.01,365.01 426.76,371.01 425.26,376.26 423.76,380.01 399.75,380.01 396.75,369.51 395.25,368.76 394.5,350.75 390,350.75" fill="#ffffff" stroke="none"/>
<polygon points="397.5,335 409.5,335 408.75,339.5 405.75,342.5 401.25,341 399,338" fill="#b0eeee" stroke="none"/>
<polyline points="409.5,335 408.75,339.5 405.75,342.5 401.25,341 399,338 397.5,335"/>
<polygon points="411.01,335 414.76,335 414.76,338 411.01,338" fill="#00bfff" stroke="none"/>
<polyline points="414.76,335 414.76,338 411.01,338 411.01,335"/>
<polygon points="429.76,335 447.01,335 447.01,342.5 445.51,350 442.51,353 434.26,353.75 433.51,357.51 430.51,357.51 429.01,350 429.01,341" fill="#b0eeee" stroke="none"/>
<polyline points="447.01,335 447.01,342.5 445.51,350 442.51,353 434.26,353.75 433.51,357.51 430.51,357.51 429.01,350 429.01,341 429.76,335"/>
<polygon points="447.01,335 450.02,335 450.02,353 444.01,353" fill="#00bfff" stroke="none"/>
<polyline points="450.02,353 444.01,353 447.01,335"/>
<polygon points="434.26,353.75 445.51,353.75 446.26,368.76 435.01,370.26" fill="#0000ff" stroke="#000"/>
<polygon points="446.26,353 450.02,353 450.02,380.01 444.01,380.01 442.51,370.26 446.26,368.76" fill="#b0eeee" stroke="none"/>
<polyline points="444.01,380.01 442.51,370.26 446.26,368.76 446.26,353 450.02,353"/>
<polygon points="390,350.75 394.5,350.75 395.25,368.76 390,368.76" fill="#00bfff" stroke="none"/>
<polyline points="390,350.75 394.5,350.75 395.25,368.76 390,368.76"/>
<polygon points="390,368.76 396.75,369.51 399.75,380.01 390,380.01" fill="#00bfff" stroke="none"/>
<polyline points="390,368.76 396.75,369.51 399.75,380.01"/>
<polygon points="396,354.5 403.5,353.75 405,357.51 402,365.01 404.25,368.76 398.25,369.51 396,365.01" fill="#b0eeee" stroke="#000"/>
<polyline points="399.75,353 428.26,353"/>
<polyline points="405.75,353.75 405,363.51 410.26,366.51 415.51,365.01 417.76,369.51 418.51,376.26 417.76,380.01"/>
<polyline points="410.26,353.75 411.76,357.51 414.76,358.26 417.01,356.76 418.51,359.76 420.01,363.51 418.51,365.01"/>
<polyline points="419.26,354.5 421.51,359.76 420.76,363.51 424.51,366.51 425.26,371.01 423.76,377.01"/>
<polyline points="400.5,365.01 407.25,365.01"/>
<polyline points="408,372.51 412.51,371.01 415.51,372.51"/>
<polyline points="409.5,374.01 409.5,380.01"/>
<polyline points="414.01,339.5 420.01,342.5 425.26,341 425.26,335"/>
<polyline points="397.5,347.75 398.25,353"/>
<polyline points="390,343.25 393,343.25 394.5,346.25 397.5,347 399,353"/>
<polyline points="391.5,337.25 394.5,336.5 397.5,337.25"/>
<polyline points="429.01,335 428.26,341 427.51,347 429.01,353 430.51,359.01 429.01,365.01 426.76,371.01 425.26,376.26 423.76,380.01"/>
<polyline points="430.51,357.51 433.51,357.51 435.01,370.26 442.51,370.26 444.01,380.01"/>
<polygon points="470,264 539.99,262.25 539.99,301.97 470,301.97" fill="#ffffff" stroke="none"/>
<polygon points="470,264 483.12,262.25 490.12,263.12 490.12,267.5 478.75,268.37 475.25,278.87 470,279.75" fill="#b0eeee" stroke="none"/>
<polyline points="470,264 483.12,262.25 490.12,263.12 490.12,267.5 478.75,268.37 475.25,278.87 470,279.75"/>
<polygon points="470,250 483.12,250 483.12,261.37 478.75,264 470,264" fill="#b0eeee" stroke="none"/>
<polyline points="483.12,250 483.12,261.37 478.75,264 470,264"/>
<polygon points="483.12,250 489.25,250 489.25,255.25 487.5,261.37 483.12,261.37" fill="#00bfff" stroke="none"/>
<polyline points="489.25,250 489.25,255.25 487.5,261.37 483.12,261.37 483.12,250"/>
<polygon points="489.25,254.37 494.5,253.5 495.37,250 500.62,250 500.62,257.87 503.25,261.37 505,265.75 500.62,268.37 496.25,269.25 492.75,267.5 491.87,263.12 489.25,262.25" fill="#0000ff" stroke="none"/>
<polyline points="500.62,250 500.62,257.87 503.25,261.37 505,265.75 500.62,268.37 496.25,269.25 492.75,267.5 491.87,263.12 489.25,262.25 489.25,254.37 494.5,253.5 495.37,250"/>
<polygon points="504.12,250 519.87,250 518.99,253.5 513.74,255.25 505,253.5" fill="#0000ff" stroke="none"/>
<polyline points="519.87,250 518.99,253.5 513.74,255.25 505,253.5 504.12,250"/>
<polygon points="520.74,250 531.24,250 529.49,254.37 524.24,253.5" fill="#00bfff" stroke="none"/>
<polyline points="531.24,250 529.49,254.37 524.24,253.5 520.74,250"/>
<polygon points="477,269.25 482.25,268.37 484.87,271 484,275.37 480.5,278.87 477.87,277.12" fill="#00bfff" stroke="#000"/>
<polygon points="483.12,273.62 487.5,270.12 491,271.87 491,277.12 485.75,278.87 483.12,278" fill="#00bfff" stroke="#000"/>
<polygon points="494.5,271.87 498,271 500.62,273.62 502.37,276.25 499.75,278.87 496.25,278.87 494.5,276.25" fill="#1e90ff" stroke="#000"/>
<polygon points="517.24,288.5 524.24,283.25 531.24,283.25 536.49,285 539.99,286.75 539.99,291.12 534.74,291.12 527.74,289.37 522.49,290.24" fill="#b0eeee" stroke="none"/>
<polyline points="539.99,291.12 534.74,291.12 527.74,289.37 522.49,290.24 517.24,288.5 524.24,283.25 531.24,283.25 536.49,285 539.99,286.75"/>
<polygon points="508.5,297.24 515.49,294.62 518.99,291.12 524.24,291.12 531.24,291.12 539.99,291.99 539.99,301.97 509.37,301.97" fill="#00bfff" stroke="none"/>
<polyline points="509.37,301.97 508.5,297.24 515.49,294.62 518.99,291.12 524.24,291.12 531.24,291.12 539.99,291.99"/>
<polygon points="536.49,281.5 539.99,279.75 539.99,285 537.37,285" fill="#1e90ff" stroke="none"/>
<polyline points="539.99,285 537.37,285 536.49,281.5 539.99,279.75"/>
<polygon points="502.37,297.24 506.75,296.37 508.5,298.99 507.62,301.97 502.37,301.97" fill="#0000ff" stroke="none"/>
<polyline points="502.37,301.97 502.37,297.24 506.75,296.37 508.5,298.99 507.62,301.97"/>
<polygon points="470,298.99 485.75,298.99 485.75,301.97 470,301.97" fill="#00bfff" stroke="none"/>
<polyline points="470,298.99 485.75,298.99 485.75,301.97"/>
<polygon points="487.5,298.12 498.87,297.24 499.75,301.97 487.5,301.97" fill="#00bfff" stroke="none"/>
<polyline points="487.5,301.97 487.5,298.12 498.87,297.24 499.75,301.97"/>
<polyline points="500.62,257.87 505,255.25 509.37,256.12 511.99,260.5 509.37,264 506.75,265.75"/>
<polyline points="505,265.75 509.37,269.25 506.75,276.25 503.25,278.87 501.5,283.25 505,286.75 507.62,291.12 506.75,295.49"/>
<polyline points="487.5,280.62 496.25,283.25 499.75,286.75 501.5,283.25"/>
<polyline points="475.25,278.87 478.75,283.25 484,283.25 487.5,280.62"/>
<polyline points="481.37,286.75 484.87,290.24 483.12,295.49 485.75,298.99"/>
<polyline points="471.75,285 475.25,286.75 478.75,290.24 481.37,286.75"/>
<polyline points="511.99,264.87 517.24,265.75 518.99,271.87 522.49,276.25 529.49,279.75 536.49,281.5"/>
<polyline points="522.49,264.87 531.24,263.12 532.99,267.5 537.37,272.75 534.74,278 531.24,278 527.74,274.5"/>
<polyline points="515.49,260.5 522.49,258.75 527.74,255.25 531.24,250"/>
<polyline points="509.37,270.12 513.74,271.87 517.24,276.25 522.49,279.75 524.24,283.25"/>
<polyline points="493.62,287.62 498.87,293.74 496.25,297.24"/>
<polyline points="470,291.12 475.25,291.99 477,297.24"/>
<polygon points="503.5,215 532.37,215 528.87,218.5 525.37,221.12 520.12,224.62 514.87,226.37 508.75,224.62 504.37,222.87" fill="#ffffff" stroke="none"/>
<polyline points="532.37,215 528.87,218.5 525.37,221.12 520.12,224.62 514.87,226.37 508.75,224.62 504.37,222.87 503.5,215"/>
<polygon points="502.62,225.5 508.75,224.62 514.87,226.37 514,232.5 512.25,237.75 509.62,240.37 505.25,243.87 502.62,243.87" fill="#b0eeee" stroke="#000"/>
<polygon points="514.87,226.37 520.12,224.62 525.37,221.12 527.12,222 526.25,227.25 522.75,229 521.87,232.5 515.75,232.5" fill="#0000ff" stroke="#000"/>
<polygon points="521.87,227.25 526.25,227.25 528,231.62 525.37,233.37 522.75,232.5" fill="#1e90ff" stroke="#000"/>
<polygon points="527.12,218.5 533.25,215.87 539.37,215 548.99,215 550.74,222.87 548.99,228.12 546.37,229.87 541.12,228.12 536.75,227.25 533.25,229.87 530.62,234.25 527.12,233.37 526.25,227.25" fill="#b0eeee" stroke="none"/>
<polyline points="548.99,215 550.74,222.87 548.99,228.12 546.37,229.87 541.12,228.12 536.75,227.25 533.25,229.87 530.62,234.25 527.12,233.37 526.25,227.25 527.12,218.5 533.25,215.87 539.37,215"/>
<polygon points="547.24,215 569.99,215 569.99,232.5 566.49,237.75 562.99,239.5 557.74,243 552.49,244.75 548.12,243.87 548.99,237.75 550.74,232.5 552.49,229 550.74,222.87" fill="#b0eeee" stroke="none"/>
<polyline points="569.99,232.5 566.49,237.75 562.99,239.5 557.74,243 552.49,244.75 548.12,243.87 548.99,237.75 550.74,232.5 552.49,229 550.74,222.87 547.24,215"/>
<polygon points="535,228.12 541.12,227.25 546.37,229.87 547.24,235.12 548.99,239.5 545.49,245.62 539.37,244.75 535.87,243 535,236.87" fill="#1e90ff" stroke="#000"/>
<polygon points="559.49,225.5 564.74,224.62 565.62,228.12 561.24,229" fill="#1e90ff" stroke="#000"/>
<polygon points="518.37,237.75 524.5,236 526.25,235.12 530.62,238.62 531.5,243.87 529.75,250 526.25,253.5 522.75,253.5 520.12,250 518.37,243" fill="#00bfff" stroke="#000"/>
<polygon points="528,241.25 533.25,241.25 533.25,245.62 528.87,245.62" fill="#ffffff" stroke="#000"/>
<polygon points="503.5,242.12 509.62,240.37 512.25,237.75 514,241.25 517.5,243.87 520.12,250 519.25,253.5 510.5,254.37 505.25,252.62 503.5,248.25" fill="#0000ff" stroke="#000"/>
<polygon points="500,254.37 524.5,253.5 529.75,250 536.75,248.25 541.99,246.5 548.99,245.62 561.24,244.75 569.99,243 569.99,266.97 500,266.97" fill="#ffffff" stroke="none"/>
<polyline points="500,254.37 524.5,253.5 529.75,250 536.75,248.25 541.99,246.5 548.99,245.62 561.24,244.75 569.99,243"/>
<polygon points="562.99,250 569.99,248.25 569.99,263.99 563.87,262.24 562.12,255.24" fill="#0000ff" stroke="none"/>
<polyline points="569.99,263.99 563.87,262.24 562.12,255.24 562.99,250 569.99,248.25"/>
<polygon points="564.74,236.87 568.24,235.12 568.24,241.25 564.74,242.12" fill="#00bfff" stroke="#000"/>
<polygon points="500,224.62 502.62,224.62 502.62,232.5 500,232.5" fill="#00bfff" stroke="none"/>
<polyline points="500,224.62 502.62,224.62 502.62,232.5 500,232.5"/>
<polyline points="521,256.12 526.25,256.99 529.75,260.49 536.75,262.24 541.99,263.99"/>
<polyline points="536.75,248.25 538.5,251.75 541.99,253.5 545.49,251.75 548.99,253.5 554.24,251.75 559.49,250"/>
<polyline points="547.24,246.5 548.99,250 554.24,248.25 557.74,251.75 556.87,256.99 554.24,260.49 552.49,263.99"/>
<polyline points="508.75,254.37 510.5,258.74 517.5,260.49 522.75,266.97"/>
<polyline points="530.62,260.49 533.25,266.97"/>
<polyline points="543.74,263.99 547.24,266.97"/>
<polyline points="559.49,250 561.24,256.99 559.49,266.97"/>
<polygon points="465.33,170.67 468,169.33 469.33,170.67 468.67,180 468,193.33 466.67,200 457.33,200 456.67,193.33 458,186.67 460,180 463.33,175.33" fill="#ffffff" stroke="none"/>
<polyline points="457.33,200 456.67,193.33 458,186.67 460,180 463.33,175.33 465.33,170.67 468,169.33 469.33,170.67 468.67,180 468,193.33 466.67,200"/>
<polygon points="460,172.67 462,173.33 456.67,183.33 453.33,188 452,186.67 456,180" fill="#ffffff" stroke="#000"/>
<polygon points="469.67,170 480,168.67 480,193.33 469.33,193.33 468.67,180" fill="#ffffff" stroke="none"/>
<polyline points="469.67,170 477.33,167.33 480,168.67"/>
<polyline points="468.67,180 469.33,193.33 480,193.33"/>
<polygon points="471.33,172 473.33,171.33 473.67,173.33 472,174" fill="#000000" stroke="none"/>
<polygon points="470.67,175.33 472,175.33 472,177.33 470.67,177.33" fill="#000000" stroke="none"/>
<polygon points="473.33,178.67 474.67,178.67 475,182.67 473.67,182.67" fill="#000000" stroke="none"/>
<polygon points="470,180 471.33,180.67 471.33,184 470,183.33" fill="#000000" stroke="none"/>
<polygon points="445.33,180 448,180 450,184 452.67,185.33 456,188.67 454.67,192 452,193.33 450.67,188 446.67,185.33" fill="#00bfff" stroke="#000"/>
<polygon points="310,214 330,215 360,216 374,236 380,256 310,256" fill="#b0eeee" stroke="none"/>
<polygon points="330,215 348,215 348,232 338,232 330,228" fill="#ffffff" stroke="#000"/>
<polyline points="310,256 380,256"/>
<polyline points="360,216 366,224 374,236 380,256"/>
<polygon points="362,236 368,234 374,236 378,246 368,248 362,246" fill="#00bfff" stroke="#000"/>
<polygon points="344,238 354,237 355,246 346,247" fill="#00bfff" stroke="#000"/>
<polygon points="358,242 366,242 366,249 358,249" fill="#00bfff" stroke="#000"/>
<polygon points="356,204 366,205 368,217 360,218 357,214" fill="#b0eeee" stroke="#000"/>
<polygon points="430,238.75 436.12,237.87 437,251.87 435.25,263.25 430,263.25" fill="#00bfff" stroke="none"/>
<polyline points="430,238.75 436.12,237.87 437,251.87 435.25,263.25 430,263.25"/>
<polygon points="436.12,237.87 444.87,237.87 444.87,244 442.25,249.25 437.87,248.37" fill="#b0eeee" stroke="#000"/>
<polygon points="447.5,238.75 453.62,238.75 453.62,244 448.37,244" fill="#00bfff" stroke="#000"/>
<polygon points="443.12,244.87 451,243.12 455.37,238.75 459.75,240.5 460.62,245.75 459.75,251 460.62,255.37 462.37,260.62 463.25,266.75 462.37,271.12 456.25,273.74 447.5,273.74 444.87,268.5 446.62,263.25 451,257.12 450.12,253.62 445.75,252.75" fill="#ffffff" stroke="#000"/>
<polygon points="440.5,256.25 451,257.12 446.62,263.25 444.87,268.5 440.5,266.75" fill="#00bfff" stroke="#000"/>
<polygon points="430,263.25 435.25,263.25 440.5,266.75 444.87,268.5 444,273.74 441.37,277.24 435.25,278.99 430,278.99" fill="#1e90ff" stroke="none"/>
<polyline points="430,263.25 435.25,263.25 440.5,266.75 444.87,268.5 444,273.74 441.37,277.24 435.25,278.99 430,278.99"/>
<polygon points="435.25,252.75 440.5,252.75 442.25,258 439.62,259.75 436.12,258.87" fill="#ffffff" stroke="#000"/>
<polygon points="445.75,230 459.75,230 459.75,237 456.25,237.87 451,237 447.5,233.5" fill="#0000ff" stroke="none"/>
<polyline points="459.75,230 459.75,237 456.25,237.87 451,237 447.5,233.5 445.75,230"/>
<polygon points="460.62,230 466.75,230 466.75,242.25 462.37,242.25" fill="#0000ff" stroke="none"/>
<polyline points="466.75,230 466.75,242.25 462.37,242.25 460.62,230"/>
<polygon points="433.5,230 445.75,230 447.5,233.5 448.37,237.87 438.75,237.87 435.25,234.37" fill="#b0eeee" stroke="none"/>
<polyline points="445.75,230 447.5,233.5 448.37,237.87 438.75,237.87 435.25,234.37 433.5,230"/>
<polygon points="466.75,233.5 478.99,231.75 482.49,235.25 482.49,242.25 478.99,243.12 471.12,242.25 466.75,242.25" fill="#b0eeee" stroke="#000"/>
<polygon points="462.37,243.12 466.75,242.25 471.12,243.12 471.99,247.5 468.5,251.87 468.5,258 465,259.75 463.25,256.25 462.37,249.25" fill="#00bfff" stroke="#000"/>
<polygon points="465.87,244.87 471.12,243.12 473.74,245.75 469.37,249.25 466.75,249.25" fill="#1e90ff" stroke="#000"/>
<polygon points="468.5,251.87 471.99,247.5 478.99,244.87 484.24,245.75 485.99,251 485.99,257.12 482.49,261.5 478.99,265 473.74,263.25 469.37,259.75" fill="#b0eeee" stroke="#000"/>
<polygon points="478.99,242.25 487.74,243.12 491.24,247.5 490.37,254.5 489.49,260.62 484.24,263.25 482.49,261.5 485.99,257.12 485.99,251 484.24,245.75" fill="#00bfff" stroke="#000"/>
<polygon points="491.24,245.75 499.99,245.75 499.99,268.5 492.99,268.5 490.37,263.25 490.37,254.5" fill="#0000ff" stroke="none"/>
<polyline points="499.99,268.5 492.99,268.5 490.37,263.25 490.37,254.5 491.24,245.75 499.99,245.75"/>
<polygon points="482.49,230 499.99,230 499.99,245.75 491.24,245.75 487.74,243.12 482.49,242.25" fill="#b0eeee" stroke="none"/>
<polyline points="499.99,245.75 491.24,245.75 487.74,243.12 482.49,242.25 482.49,230"/>
<polygon points="492.99,237 499.99,237 499.99,240.5 493.87,240.5" fill="#ffffff" stroke="none"/>
<polyline points="499.99,240.5 493.87,240.5 492.99,237 499.99,237"/>
<polygon points="463.25,266.75 470.24,264.12 478.99,265 486.87,262.37 491.24,266.75 482.49,268.5 477.24,270.24 475.49,275.49 471.99,278.99 465,278.99 462.37,273.74" fill="#b0eeee" stroke="#000"/>
<polygon points="477.24,268.5 483.37,268.5 484.24,275.49 480.74,278.99 477.24,277.24" fill="#1e90ff" stroke="#000"/>
<polygon points="484.24,270.24 491.24,269.37 492.99,275.49 489.49,278.99 484.24,278.99" fill="#00bfff" stroke="#000"/>
<polygon points="445.75,273.74 456.25,273.74 462.37,271.12 463.25,278.99 459.75,281.97 438.75,281.97 441.37,277.24" fill="#ffffff" stroke="none"/>
<polyline points="438.75,281.97 441.37,277.24 445.75,273.74 456.25,273.74 462.37,271.12 463.25,278.99 459.75,281.97"/>
<polygon points="459.75,278.99 465,278.99 465,281.97 459.75,281.97" fill="#00bfff" stroke="none"/>
<polyline points="459.75,281.97 459.75,278.99 465,278.99 465,281.97"/>
<polygon points="491.24,268.5 499.99,268.5 499.99,281.97 489.49,281.97 491.24,275.49" fill="#ffffff" stroke="none"/>
<polyline points="489.49,281.97 491.24,275.49 491.24,268.5 499.99,268.5"/>
<polygon points="490,310 570,310 570,330 565,336 560,345 554,352 550,358 547,370 490,370" fill="#ffffff" stroke="none"/>
<polygon points="505,310 520,310 521,314 515,317 506,318 505,314" fill="#00bfff" stroke="none"/>
<polyline points="520,310 521,314 515,317 506,318 505,314 505,310"/>
<polygon points="520,315 528,313 533,316 536,320 533,323 528,323 524,326 521,322" fill="#0000ff" stroke="#000"/>
<polygon points="528,313 533,312 536,316 534,320 530,318" fill="#0000ff" stroke="#000"/>
<polygon points="536,314 542,313 546,316 547,320 542,321 537,319" fill="#1e90ff" stroke="#000"/>
<polygon points="534,322 542,321 548,320 549,324 546,330 542,332 537,330 534,326" fill="#00bfff" stroke="#000"/>
<polygon points="552,320 556,321 559,325 556,327 552,324" fill="#00bfff" stroke="#000"/>
<polygon points="526,333 532,330 537,332 539,337 535,340 533,344 530,342 528,338" fill="#1e90ff" stroke="#000"/>
<polygon points="549,336 555,334 562,336 563,339 558,343 554,347 552,343" fill="#0000ff" stroke="#000"/>
<polygon points="494,335 498,329 504,325 512,328 516,334 517,340 510,344 505,348 499,346 496,342" fill="#00bfff" stroke="#000"/>
<polygon points="510,344 516,344 519,350 518,352 512,352" fill="#0000ff" stroke="#000"/>
<polygon points="515,362 525,358 535,359 538,362 536,370 517,370" fill="#b0eeee" stroke="none"/>
<polyline points="517,370 515,362 525,358 535,359 538,362 536,370"/>
<polygon points="560,312 570,312 570,320 564,320 560,316" fill="#b0eeee" stroke="none"/>
<polyline points="570,320 564,320 560,316 560,312 570,312"/>
<polygon points="490,328 494,328 494,352 490,352" fill="#b0eeee" stroke="none"/>
<polyline points="490,328 494,328 494,352 490,352"/>
<polygon points="490,310 496,310 496,314 490,314" fill="#00bfff" stroke="none"/>
<polyline points="496,310 496,314 490,314"/>
<polygon points="490,316 495,316 495,324 490,324" fill="#00bfff" stroke="none"/>
<polyline points="490,316 495,316 495,324 490,324"/>
<polyline points="496,316 504,314"/>
<polyline points="496,320 505,319 510,321 516,321"/>
<polyline points="516,319 520,322 523,327 525,330"/>
<polyline points="508,324 510,329"/>
<polyline points="518,328 523,333 526,333"/>
<polyline points="520,336 522,343 526,348 528,353 530,358"/>
<polyline points="538,337 542,340 546,339 549,336"/>
<polyline points="542,340 543,346 542,350 544,355 542,360"/>
<polyline points="546,343 550,348 551,352 547,356"/>
<polyline points="500,352 505,354 510,353"/>
<polyline points="498,356 502,360 508,362 514,360"/>
<polyline points="525,352 532,352 537,350 539,345"/>
<polyline points="505,358 506,366 504,370"/>
<polyline points="490,354 496,355 498,360 496,366"/>
<polyline points="550,328 556,330 560,332"/>
<polyline points="548,330 550,334"/>
<polyline points="554,318 562,322 566,326"/>
<polyline points="550,322 554,327 560,329 566,330"/>
<polyline points="550,310 552,316 550,320"/>
<polyline points="560,310 560,316"/>
<polyline points="523,358 522,366 524,370"/>
<polyline points="532,352 534,358"/>
<polyline points="514,360 515,366 513,370"/>
<polyline points="570,330 566,335 563,339 560,344 554,350 550,356 548,362 547,370"/>
<polygon points="425,300 446.76,300 443.75,303 440,309 436.25,309.75 437.75,304.5 432.5,303.75 425,303.75" fill="#b0eeee" stroke="none"/>
<polyline points="446.76,300 443.75,303 440,309 436.25,309.75 437.75,304.5 432.5,303.75 425,303.75"/>
<polygon points="425,303.75 432.5,303.75 437.75,304.5 436.25,309.75 439.25,312 436.25,318.75 434,324.76 432.5,331.51 428.75,335.26 425,335.26" fill="#ffffff" stroke="none"/>
<polyline points="425,303.75 432.5,303.75 437.75,304.5 436.25,309.75 439.25,312 436.25,318.75 434,324.76 432.5,331.51 428.75,335.26 425,335.26"/>
<polygon points="444.5,303.75 453.51,303 466.26,300 466.26,306 462.51,313.5 461.76,322.51 449.76,322.51 446.76,317.25 441.5,315 443,311.25 443,306" fill="#1e90ff" stroke="#000"/>
<polygon points="446.76,310.5 449.01,309.75 456.51,315 456.51,318 453.51,319.5 449.76,315.75 446.76,312.75" fill="#ffffff" stroke="#000"/>
<polygon points="440,316.5 446.76,317.25 449.76,322.51 449.01,324.01 440,324.76 438.5,321.76" fill="#00bfff" stroke="#000"/>
<polygon points="437.75,325.51 451.26,324.01 451.26,329.26 446.76,330.76 438.5,330.76 436.25,328.51" fill="#00bfff" stroke="#000"/>
<polygon points="443.75,330.76 446.76,330.76 451.26,329.26 451.26,324.01 461.01,323.26 461.76,345.01 447.51,345.01 444.5,336.01" fill="#00bfff" stroke="none"/>
<polyline points="447.51,345.01 444.5,336.01 443.75,330.76 446.76,330.76 451.26,329.26 451.26,324.01 461.01,323.26 461.76,345.01"/>
<polygon points="429.5,345.01 431,336.01 436.25,332.26 443.75,330.76 444.5,336.01 447.51,345.01" fill="#b0eeee" stroke="none"/>
<polyline points="429.5,345.01 431,336.01 436.25,332.26 443.75,330.76 444.5,336.01 447.51,345.01"/>
<polygon points="466.26,300 485.02,300 485.02,312 471.51,315 465.51,311.25 466.26,306" fill="#00bfff" stroke="none"/>
<polyline points="485.02,312 471.51,315 465.51,311.25 466.26,306 466.26,300"/>
<polygon points="461.76,312.75 471.51,315 485.02,312 485.02,321.76 473.01,322.51 461.76,322.51" fill="#b0eeee" stroke="none"/>
<polyline points="485.02,321.76 473.01,322.51 461.76,322.51 461.76,312.75 471.51,315 485.02,312"/>
<polygon points="471.51,322.51 482.01,321.76 481.26,327.01 474.51,326.26" fill="#1e90ff" stroke="#000"/>
<polygon points="461.76,323.26 470.76,323.26 469.26,328.51 477.51,330.01 479.01,332.26 469.26,332.26 462.51,328.51" fill="#ffffff" stroke="#000"/>
<polygon points="461.76,328.51 469.26,332.26 471.51,336.01 468.51,339.01 467.76,345.01 461.76,345.01" fill="#b0eeee" stroke="none"/>
<polyline points="461.76,345.01 461.76,328.51 469.26,332.26 471.51,336.01 468.51,339.01 467.76,345.01"/>
<polygon points="467.01,339.01 476.01,335.26 482.01,333.01 485.02,334.51 485.02,345.01 470.01,345.01" fill="#00bfff" stroke="none"/>
<polyline points="470.01,345.01 467.01,339.01 476.01,335.26 482.01,333.01 485.02,334.51"/>
<polyline points="445.26,301.5 441.5,310.5 439.25,317.25 437,324.01 434,330.01 431,335.26 429.5,339.76 428,345.01"/>
<polyline points="425,315 429.5,314.25 432.5,318.75"/>
<polyline points="426.5,324.76 431,325.51 433.25,328.51"/>
<polygon points="420,340 429,340 429,344.5 429.75,355 432,358 427.5,370.01 424.5,377.51 420,377.51" fill="#ffffff" stroke="none"/>
<polyline points="429,340 429,344.5 429.75,355 432,358 427.5,370.01 424.5,377.51 420,377.51"/>
<polygon points="429.75,340 446.26,340 447.01,346 444.01,352 434.25,352.75 432,358 429.75,355 429,344.5" fill="#b0eeee" stroke="none"/>
<polyline points="446.26,340 447.01,346 444.01,352 434.25,352.75 432,358 429.75,355 429,344.5 429.75,340"/>
<polygon points="447.01,340 461.26,340 460.51,352 444.76,352.75 444.01,351.25 447.01,346" fill="#00bfff" stroke="none"/>
<polyline points="461.26,340 460.51,352 444.76,352.75 444.01,351.25 447.01,346 447.01,340"/>
<polygon points="427.5,370.01 432,358 434.25,361.01 435,370.76 442.51,371.51 444.01,375.26 445.51,380.51 424.5,380.51" fill="#ffffff" stroke="#000"/>
<polygon points="434.25,352.75 444.76,352.75 445.51,356.5 446.26,369.26 435,370.76 434.25,361.01" fill="#0000ff" stroke="#000"/>
<polygon points="445.51,352.75 460.51,352 461.26,374.51 460.51,382.01 448.51,382.01 444.01,375.26 446.26,369.26 445.51,356.5" fill="#b0eeee" stroke="#000"/>
<polygon points="447.76,373.76 456.76,373.76 457.51,379.76 448.51,379.76" fill="#ffffff" stroke="#000"/>
<polygon points="460.51,344.5 466.51,343 469.51,341.5 472.51,346 474.01,353.5 478.51,355 478.51,370.01 472.51,373.76 465.01,377.51 461.26,374.51 460.51,352" fill="#ffffff" stroke="#000"/>
<polygon points="471.01,340 480.02,340 480.02,355 474.01,353.5 472.51,346 469.51,341.5" fill="#00bfff" stroke="none"/>
<polyline points="480.02,355 474.01,353.5 472.51,346 469.51,341.5 471.01,340"/>
<polygon points="423,382.01 437.25,382.01 437.25,385.01 423,385.01" fill="#1e90ff" stroke="none"/>
<polyline points="423,385.01 423,382.01 437.25,382.01 437.25,385.01"/>
<polygon points="472.51,379.01 480.02,377.51 480.02,385.01 472.51,385.01" fill="#1e90ff" stroke="none"/>
<polyline points="472.51,385.01 472.51,379.01 480.02,377.51"/>
<polygon points="457.51,383.51 462.01,382.76 462.01,385.01 457.51,385.01" fill="#0000ff" stroke="none"/>
<polyline points="457.51,385.01 457.51,383.51 462.01,382.76 462.01,385.01"/>
<polyline points="428.25,340 429,347.5 430.5,358.75 427.5,366.26 425.25,373.76 423.75,379.76"/>
<polyline points="466.51,355 469.51,362.51 468.01,371.51"/>
<polyline points="420,355 424.5,356.5 429,353.5"/>
<polyline points="100,136 108,138 126,149 140,151.4 154,152 169,153"/>
<polyline points="169,115 169.6,135 169,153"/>
<polygon points="596.25,162.5 612.5,158.75 615,152.5 621.25,152.5 622.5,168.75 620,175 617.5,181.25 616.25,190 613.75,191.25 602.5,192.5 601.25,182.5 598.75,180 597.5,172.5" fill="#ffffff" stroke="#000"/>
<polygon points="590,181.25 597.5,180 601.25,182.5 602.5,192.5 601.25,197.5 592.5,197.5 588.75,205 585,210 580,207.5 570,200 567.5,193.75 572.5,190 578.75,191.25 585,195 591.25,193.75 593.75,190" fill="#00bfff" stroke="#000"/>
<polygon points="567.5,186.25 573.75,185 578.75,191.25 572.5,190 567.5,193.75" fill="#0000ff" stroke="#000"/>
<polygon points="616.25,175 621.25,175 622.5,182.5 617.5,183.75" fill="#1e90ff" stroke="#000"/>
<polygon points="623.75,168.75 630,168.75 631.25,175 627.5,180 623.75,177.5" fill="#0000ff" stroke="#000"/>
<polygon points="620,185 625,183.75 630,190 632.5,197.5 627.5,201.25 622.5,198.75 618.75,195 617.5,190" fill="#0000ff" stroke="#000"/>
<polygon points="602.5,193.75 612.5,192.5 618.75,195 622.5,198.75 622.5,205 615,210 607.5,215 597.5,215 600,205" fill="#0000ff" stroke="none"/>
<polyline points="597.5,215 600,205 602.5,193.75 612.5,192.5 618.75,195 622.5,198.75 622.5,205 615,210 607.5,215"/>
<polygon points="607.5,193.75 613.75,193.75 613.75,200 607.5,200" fill="#1e90ff" stroke="#000"/>
<polygon points="602.5,192.5 606.88,192.5 606.88,203.75 603.12,204.38" fill="#ffffff" stroke="#000"/>
<polygon points="630,193.75 637.5,195 640,205 632.5,205" fill="#ffffff" stroke="#000"/>
<polygon points="560,207.5 578.75,207.5 585,215 560,215" fill="#b0eeee" stroke="none"/>
<polyline points="560,207.5 578.75,207.5 585,215"/>
<polygon points="560,193.75 566.25,193.75 566.25,203.75 560,203.75" fill="#1e90ff" stroke="none"/>
<polyline points="560,193.75 566.25,193.75 566.25,203.75 560,203.75"/>
<polyline points="612.5,158.75 613.75,171.25 611.25,181.25 613.75,191.25"/>
<polyline points="597.5,172.5 601.25,182.5"/>
<polyline points="615,152.5 617.5,165 622.5,168.75"/>
<polygon points="184,463 185.5,462.8 186.2,465 184.5,465.2" fill="#ffffff" stroke="none"/>
<polygon points="191,467 192.5,467 193,469 191.2,469.2" fill="#ffffff" stroke="none"/>
<polygon points="188,478 189.8,478 190,480 188.2,480" fill="#ffffff" stroke="none"/>
<polygon points="196,481 197.8,481 198,483 196.2,483" fill="#ffffff" stroke="none"/>
<polygon points="200,486 201.5,486 201.8,488 200.2,488" fill="#ffffff" stroke="none"/>
<polygon points="192.5,479.5 193.8,479.5 194,481.5 192.7,481.5" fill="#ffffff" stroke="none"/>
<polygon points="198,489 199.5,489 199.5,490.5 198,490.5" fill="#ffffff" stroke="none"/>
<polygon points="204,489 205.5,489 205.5,490.5 204,490.5" fill="#ffffff" stroke="none"/>
<polygon points="195,472 196.5,472 196.8,474.5 195.2,474.5" fill="#ffffff" stroke="none"/>
<polygon points="186.5,470 187.5,470 187.8,472 186.8,472" fill="#ffffff" stroke="none"/>
<polygon points="460,330 520.02,330 520.02,375.01 460,375.01" fill="#ffffff" stroke="none"/>
<polygon points="460,330 468.25,330 467.5,336 462.25,339 461.5,345 460,345" fill="#b0eeee" stroke="none"/>
<polyline points="468.25,330 467.5,336 462.25,339 461.5,345 460,345"/>
<polygon points="468.25,330 479.5,330 478.75,332.25 469.75,332.25" fill="#ffffff" stroke="none"/>
<polyline points="479.5,330 478.75,332.25 469.75,332.25 468.25,330"/>
<polygon points="468.25,337.5 474.25,336.75 478.75,333.75 483.26,336 484.76,339 482.51,345 482.51,351.01 479.5,353.26 477.25,354.01 473.5,351.01 472.75,346.5" fill="#00bfff" stroke="#000"/>
<polygon points="482.51,339.75 488.51,337.5 492.26,334.5 494.51,336.75 497.51,340.5 496.76,348 491.51,351.76 484.76,351.76 482.51,348.75 483.26,343.5" fill="#b0eeee" stroke="#000"/>
<polygon points="494.51,334.5 497.51,330 512.51,330 517.01,337.5 515.51,342 511.01,345 505.01,348 502.01,349.5 500.51,345 497.51,345 497.51,339.75" fill="#00bfff" stroke="none"/>
<polyline points="512.51,330 517.01,337.5 515.51,342 511.01,345 505.01,348 502.01,349.5 500.51,345 497.51,345 497.51,339.75 494.51,334.5 497.51,330"/>
<polygon points="510.26,344.25 515.51,344.25 518.51,347.25 519.26,351.01 515.51,352.51 511.01,351.01" fill="#0000ff" stroke="#000"/>
<polygon points="502.01,361.51 506.51,361.51 511.01,365.26 517.01,366.01 520.02,363.01 520.02,375.01 506.51,375.01 503.51,369.01" fill="#b0eeee" stroke="none"/>
<polyline points="506.51,375.01 503.51,369.01 502.01,361.51 506.51,361.51 511.01,365.26 517.01,366.01 520.02,363.01"/>
<polygon points="479.5,330 484.76,330 484.01,333 480.26,333" fill="#b0eeee" stroke="none"/>
<polyline points="484.76,330 484.01,333 480.26,333 479.5,330"/>
<polygon points="460,345 461.13,345 461.13,375.01 460,375.01" fill="#00bfff" stroke="none"/>
<polyline points="460,345 461.13,345 461.13,375.01"/>
<polyline points="469,350.26 467.5,356.26 469.75,357.01 471.25,353.26 475,354.01"/>
<polyline points="478.75,354.01 479.5,362.26 484.01,363.01 488.51,362.26"/>
<polyline points="478.75,364.51 480.26,369.76 482.51,375.01"/>
<polyline points="488.51,352.51 491.51,353.26 493.01,352.51 497.51,354.01 500.51,358.51 502.01,361.51"/>
<polyline points="496.01,354.01 497.51,360.01 499.76,363.01 497.51,369.01 498.26,375.01"/>
<polyline points="497.51,349.5 500.51,352.51 505.01,351.01 508.76,352.51 512.51,354.01 517.01,358.51 520.02,358.51"/>
<polyline points="505.01,360.01 508.76,362.26 511.01,365.26"/>
<polyline points="506.51,352.51 506.51,357.01 503.51,360.01"/>
<polyline points="464.5,348 466,351.01 467.5,356.26"/>
<polyline points="460.75,372.01 466,373.51 470.5,375.01"/>
<polyline points="488.51,362.26 489.26,369.01 487.01,375.01"/>
<polyline points="471.25,361.51 475,363.01 478.75,362.26"/>
<polyline points="515.51,330 517.01,334.5 520.02,336"/>
<polygon points="530,255 576.51,255 582.51,262.5 590.02,286.51 590.02,300.01 530,300.01" fill="#ffffff" stroke="none"/>
<polygon points="561.51,255 575.01,255 573.51,259.5 572.01,264 569.01,265.5 566.01,262.5 563.01,258.75" fill="#0000ff" stroke="none"/>
<polyline points="575.01,255 573.51,259.5 572.01,264 569.01,265.5 566.01,262.5 563.01,258.75 561.51,255"/>
<polygon points="576.51,255 581.01,255 581.76,261 578.76,261" fill="#0000ff" stroke="none"/>
<polyline points="581.01,255 581.76,261 578.76,261 576.51,255"/>
<polygon points="551.76,263.25 556.26,262.5 557.76,267.75 554.76,270 552.51,268.5" fill="#00bfff" stroke="#000"/>
<polygon points="566.01,269.25 570.51,264 575.01,262.5 578.01,267 579.51,273.75 578.76,279.01 578.01,283.51 572.01,280.51 569.01,279.01 566.76,276.01" fill="#1e90ff" stroke="#000"/>
<polygon points="581.76,271.5 585.51,271.5 587.01,277.51 589.26,281.26 588.51,286.51 584.76,286.51 582.51,283.51 582.51,278.26" fill="#0000ff" stroke="#000"/>
<polygon points="550.26,278.26 554.76,273 560.01,276.01 561.51,279.01 558.51,281.26 554.76,282.01 551.76,282.01" fill="#1e90ff" stroke="#000"/>
<polygon points="544.25,276.76 548.75,274.5 550.26,278.26 551.01,283.51 548.75,286.51 545.75,285.76 545,282.01 543.5,279.76" fill="#1e90ff" stroke="#000"/>
<polygon points="537.5,281.26 541.25,279.76 545,282.01 545.75,285.76 542.75,288.01 539.75,285.76" fill="#1e90ff" stroke="#000"/>
<polygon points="530,283.51 537.5,282.76 541.25,286.51 542.75,288.01 547.25,287.26 550.26,288.01 551.01,290.26 530,291.76" fill="#b0eeee" stroke="none"/>
<polyline points="530,283.51 537.5,282.76 541.25,286.51 542.75,288.01 547.25,287.26 550.26,288.01 551.01,290.26 530,291.76"/>
<polygon points="530,292.51 539,292.51 545.75,291.76 548.75,294.01 548.75,300.01 530,300.01" fill="#00bfff" stroke="none"/>
<polyline points="530,292.51 539,292.51 545.75,291.76 548.75,294.01 548.75,300.01"/>
<polygon points="554.76,289.51 557.76,289.51 557.76,292.51 554.76,292.51" fill="#00bfff" stroke="#000"/>
<polygon points="558.51,290.26 561.51,290.26 562.26,300.01 557.76,300.01" fill="#1e90ff" stroke="none"/>
<polyline points="557.76,300.01 558.51,290.26 561.51,290.26 562.26,300.01"/>
<polygon points="562.26,289.51 567.51,288.01 569.01,294.01 567.51,300.01 563.01,300.01" fill="#00bfff" stroke="none"/>
<polyline points="563.01,300.01 562.26,289.51 567.51,288.01 569.01,294.01 567.51,300.01"/>
<polygon points="572.01,297.01 576.51,297.01 576.51,300.01 572.01,300.01" fill="#b0eeee" stroke="none"/>
<polyline points="572.01,300.01 572.01,297.01 576.51,297.01 576.51,300.01"/>
<polygon points="582.51,297.01 588.51,296.26 588.51,300.01 582.51,300.01" fill="#b0eeee" stroke="none"/>
<polyline points="582.51,300.01 582.51,297.01 588.51,296.26 588.51,300.01"/>
<polygon points="578.01,264 582.51,263.25 584.01,270 581.01,269.25" fill="#000000" stroke="none"/>
<polygon points="584.01,255 588.51,255 590.02,259.5 587.01,261" fill="#000000" stroke="none"/>
<polygon points="576.51,259.5 579.51,259.5 579.51,262.5 577.26,262.5" fill="#000000" stroke="none"/>
<polygon points="582.51,262.5 585.51,264 587.01,270 584.76,269.25" fill="#000000" stroke="none"/>
<polyline points="534.5,264 537.5,270 536,274.5 532.25,277.51"/>
<polyline points="530,271.5 533.75,270 537.5,272.25 536,276.76 530,277.51"/>
<polyline points="539,261.75 542,267 545,270 546.5,274.5"/>
<polyline points="545,260.25 546.5,267 549.5,271.5 552.51,268.5"/>
<polyline points="554.76,270 558.51,272.25 561.51,277.51 564.51,276.76"/>
<polyline points="557.76,267.75 561.51,264.75 566.01,269.25"/>
<polyline points="561.51,279.01 563.01,283.51 566.01,286.51 569.01,285.76 572.01,288.01 575.01,285.01 578.01,283.51"/>
<polyline points="552.51,288.76 557.01,288.01 561.51,289.51 567.51,288.01 572.01,289.51 576.51,290.26 582.51,290.26 587.01,289.51"/>
<polyline points="572.01,289.51 572.01,297.01"/>
<polyline points="576.51,290.26 578.01,297.01 582.51,297.01"/>
<polyline points="548.75,290.26 552.51,290.26 554.01,300.01"/>
<polyline points="578.01,283.51 582.51,286.51 585.51,290.26"/>
<polyline points="554.76,255 557.01,258 560.01,259.5 562.26,264 565.26,265.5"/>
<polyline points="530,259.5 533,258 536,259.5 539,258 545,256.5 549.5,258 552.51,256.5"/>
<polygon points="520,288 589.99,288 589.99,299.37 584.74,304.62 580.37,312.5 575.99,319.5 571.62,323 567.24,326.5 563.74,331.74 561.99,336.99 561.12,339.97 520,339.97" fill="#ffffff" stroke="none"/>
<polygon points="528.75,288 548.87,288 548.87,289.75 528.75,289.75" fill="#b0eeee" stroke="none"/>
<polyline points="548.87,288 548.87,289.75 528.75,289.75 528.75,288"/>
<polygon points="520,289.75 528.75,289.75 535.75,291.5 546.25,291.5 548.87,293.25 548.87,301.12 547.12,305.5 542.75,305.5 537.5,306.37 533.12,307.25 528.75,305.5 525.25,302.87 523.5,299.37 520,300.25" fill="#00bfff" stroke="none"/>
<polyline points="520,289.75 528.75,289.75 535.75,291.5 546.25,291.5 548.87,293.25 548.87,301.12 547.12,305.5 542.75,305.5 537.5,306.37 533.12,307.25 528.75,305.5 525.25,302.87 523.5,299.37 520,300.25"/>
<polygon points="529.62,300.25 537.5,299.37 540.12,300.25 540.12,305.5 535.75,306.37 530.5,305.5" fill="#1e90ff" stroke="#000"/>
<polygon points="538.37,301.12 542.75,300.25 545.37,303.75 544.5,310.75 548,316 546.25,318.62 539.25,317.75 536.62,313.37 540.12,309.87 538.37,305.5" fill="#1e90ff" stroke="#000"/>
<polygon points="548.87,290.62 554.12,290.62 555,302.87 550.62,302.87 549.75,296.75" fill="#ffffff" stroke="#000"/>
<polygon points="555.87,289.75 561.12,289.75 561.12,299.37 558.5,302 555.87,300.25" fill="#1e90ff" stroke="#000"/>
<polygon points="547.12,305.5 556.75,303.75 561.12,302.87 559.37,307.25 556.75,311.62 549.75,313.37 548,309.87" fill="#00bfff" stroke="#000"/>
<polygon points="561.99,291.5 567.24,292.37 569.87,298.5 567.24,302.87 562.87,302 561.12,299.37" fill="#00bfff" stroke="#000"/>
<polygon points="558.5,305.5 563.74,303.75 568.99,302 573.37,300.25 575.99,303.75 575.12,309 572.49,314.25 569.87,321.25 567.24,321.25 562.87,317.75 558.5,314.25" fill="#b0eeee" stroke="#000"/>
<polygon points="559.37,308.12 564.62,307.25 565.49,310.75 560.24,311.62" fill="#ffffff" stroke="#000"/>
<polygon points="520,300.25 523.5,299.37 525.25,302.87 523.5,312.5 520,312.5" fill="#b0eeee" stroke="none"/>
<polyline points="520,300.25 523.5,299.37 525.25,302.87 523.5,312.5 520,312.5"/>
<polygon points="520,314.25 525.25,314.25 528.75,314.25 531.37,316.87 534,320.37 531.37,323.87 527,324.75 523.5,325.62 520,324.75" fill="#0000ff" stroke="none"/>
<polyline points="520,314.25 525.25,314.25 528.75,314.25 531.37,316.87 534,320.37 531.37,323.87 527,324.75 523.5,325.62 520,324.75"/>
<polygon points="532.25,320.37 537.5,320.37 541,317.75 547.12,319.5 548,324.75 546.25,329.99 541.87,331.74 535.75,330.87 533.12,326.5" fill="#00bfff" stroke="#000"/>
<polygon points="526.12,330.87 531.37,329.99 538.37,332.62 539.25,336.99 534,338.74 527.87,336.99" fill="#1e90ff" stroke="#000"/>
<polygon points="552.37,320.37 555.87,319.5 558.5,324.75 556.75,326.5 553.25,323.87" fill="#00bfff" stroke="#000"/>
<polygon points="548.87,336.99 555,333.49 559.37,335.24 561.12,338.74 555,339.97 548.87,339.97" fill="#0000ff" stroke="none"/>
<polyline points="548.87,339.97 548.87,336.99 555,333.49 559.37,335.24 561.12,338.74 555,339.97"/>
<polyline points="589.99,299.37 584.74,304.62 580.37,312.5 575.99,319.5 571.62,323 567.24,326.5 563.74,331.74 561.99,336.99 561.12,339.97"/>
<polyline points="575.99,303.75 581.24,302 586.49,298.5"/>
<polyline points="575.12,309 581.24,308.12"/>
<polyline points="572.49,314.25 577.74,316"/>
<polyline points="548,316 555,316.87 558.5,314.25"/>
<polyline points="548.87,327.37 555,328.24 560.24,326.5 565.49,324.75"/>
<polyline points="555,328.24 556.75,333.49"/>
<polyline points="541.87,331.74 546.25,336.99 548.87,339.97"/>
<polyline points="520,329.12 525.25,329.99 526.12,333.49"/>
<polyline points="569.87,291.5 575.99,293.25 581.24,291.5 586.49,293.25"/>
<polyline points="572.49,293.25 574.24,298.5 573.37,300.25"/>
<polygon points="568,189 574,186 580,195 582,197 574,198 569,195" fill="#0000ff" stroke="#000"/>
<polygon points="550,198 556,198 556,205 550,205" fill="#b0eeee" stroke="#000"/>
<polygon points="568,202 572,201 573,205 569,206" fill="#ffffff" stroke="#000"/>
<polygon points="592,204 597,203 598,207 593,208" fill="#ffffff" stroke="#000"/>
<polygon points="435,185 439.17,185 439.17,189.17 435,189.17" fill="#00bfff" stroke="none"/>
<polyline points="439.17,185 439.17,189.17 435,189.17"/>
<polygon points="440,185 446.67,185 447.5,188.75 440,188.75" fill="#b0eeee" stroke="none"/>
<polyline points="446.67,185 447.5,188.75 440,188.75 440,185"/>
<polygon points="447.08,185 451.67,185 450.83,190.42 450,190.42" fill="#00bfff" stroke="none"/>
<polyline points="451.67,185 450.83,190.42 450,190.42 447.08,185"/>
<polygon points="435,190 437.08,190 437.08,195.42 435,195.42" fill="#b0eeee" stroke="none"/>
<polyline points="435,190 437.08,190 437.08,195.42 435,195.42"/>
<polygon points="437.08,190.42 443.33,190 443.75,203.33 437.08,203.75" fill="#00bfff" stroke="#000"/>
<polygon points="445,190.83 450,190.83 450.83,198.75 447.5,198.75 447.5,195.42 445,195.42" fill="#1e90ff" stroke="#000"/>
<polygon points="443.75,195.83 447.92,195.83 447.5,199.58 444.17,199.58" fill="#ffffff" stroke="#000"/>
<polygon points="443.75,200.83 450.83,200.42 450.83,203.33 443.75,203.33" fill="#ffffff" stroke="#000"/>
<polygon points="450.83,190 456.67,189.17 457.5,192.5 452.5,193.75 450.83,192.5" fill="#00bfff" stroke="#000"/>
<polygon points="452.08,194.58 455.83,194.17 455.83,198.75 452.92,198.75" fill="#b0eeee" stroke="#000"/>
<polygon points="452.08,200 455,200 455,203.75 452.08,203.75" fill="#b0eeee" stroke="#000"/>
<polygon points="436.67,204.58 442.08,204.17 442.92,210 436.67,210" fill="#1e90ff" stroke="none"/>
<polyline points="436.67,210 436.67,204.58 442.08,204.17 442.92,210"/>
<polygon points="443.33,204.17 449.17,204.17 448.75,210 443.33,210" fill="#00bfff" stroke="none"/>
<polyline points="443.33,210 443.33,204.17 449.17,204.17 448.75,210"/>
<polygon points="450,205 454.17,205 454.17,210 450,210" fill="#1e90ff" stroke="none"/>
<polyline points="450,210 450,205 454.17,205 454.17,210"/>
<polygon points="182.5,464.5 184,464 185,466.5 183.5,466.8" fill="#ffffff" stroke="none"/>
<polygon points="189,460 190,459.5 191,462.5 189.8,462.8" fill="#ffffff" stroke="none"/>
<polygon points="193,465 194.2,465 195,467.5 193.6,467.8" fill="#ffffff" stroke="none"/>
<polygon points="190,475 191.5,475.2 191.8,477.2 190.3,477" fill="#ffffff" stroke="none"/>
<polygon points="194.5,470 195.8,469.8 196.2,471.8 194.8,472" fill="#ffffff" stroke="none"/>
<polygon points="196,477 197.2,477 197.5,479.2 196.2,479.2" fill="#ffffff" stroke="none"/>
<polygon points="199.5,481 200.8,481 201,483 199.7,483" fill="#ffffff" stroke="none"/>
<polygon points="202,487 203.2,487 203.4,488.8 202.1,488.8" fill="#ffffff" stroke="none"/>
<polygon points="196,484.5 197.2,484.5 197.5,486.2 196.2,486.2" fill="#ffffff" stroke="none"/>
<polygon points="193.5,484 194.5,484 194.7,485.8 193.6,485.8" fill="#ffffff" stroke="none"/>
<polygon points="200,490 201.2,490 201.4,491.2 200.1,491.2" fill="#ffffff" stroke="none"/>
<polygon points="185,470 186.2,470 186.5,471.8 185.2,471.8" fill="#ffffff" stroke="none"/>
<polygon points="361.88,417.5 365,418.12 361.25,423.75 358.75,430 357.75,438.75 358.5,447.5 358.75,453.75 356.88,453.75 356.25,447.5 356,438.75 356.88,430 359.38,423.12" fill="#000000" stroke="none"/>
<polygon points="385,400.62 388.75,400 388.12,403.12 385.62,403.12" fill="#000000" stroke="none"/>
<polyline points="365,418.12 375,412.5 387.5,405 398.75,398.75"/>
<polygon points="496.25,301.25 502.5,297.5 510,298.75 512.5,302.5 510,308.75 502.5,310 497.5,306.25" fill="#0000ff" stroke="#000"/>
<polygon points="490,310 502.5,310 505,313.75 492.5,313.75" fill="#ffffff" stroke="#000"/>
<polygon points="510,303.75 517.5,298.75 520,303.75 515,308.75 511.25,308.75" fill="#ffffff" stroke="#000"/>
</g></svg>
<div class="t" id="title">Annual mean wage of mechanical drafters, by area, May 2020</div>
<div class="t" id="lt">Annual mean wage</div>
<div class="bx" style="left:373px;top:548px;background:#b0eeee"></div>
<div class="lg" style="left:389px;top:547px">$34,860 - $51,400</div>
<div class="bx" style="left:526px;top:548px;background:#00bfff"></div>
<div class="lg" style="left:541px;top:547px">$51,470 - $56,980</div>
<div class="bx" style="left:373px;top:563px;background:#1e90ff"></div>
<div class="lg" style="left:389px;top:562px">$57,130 - $61,960</div>
<div class="bx" style="left:526px;top:563px;background:#0000ff"></div>
<div class="lg" style="left:541px;top:562px">$62,610 - $105,360</div>
<div class="t" id="note">Blank areas indicate data not available.</div>
</body></html>
